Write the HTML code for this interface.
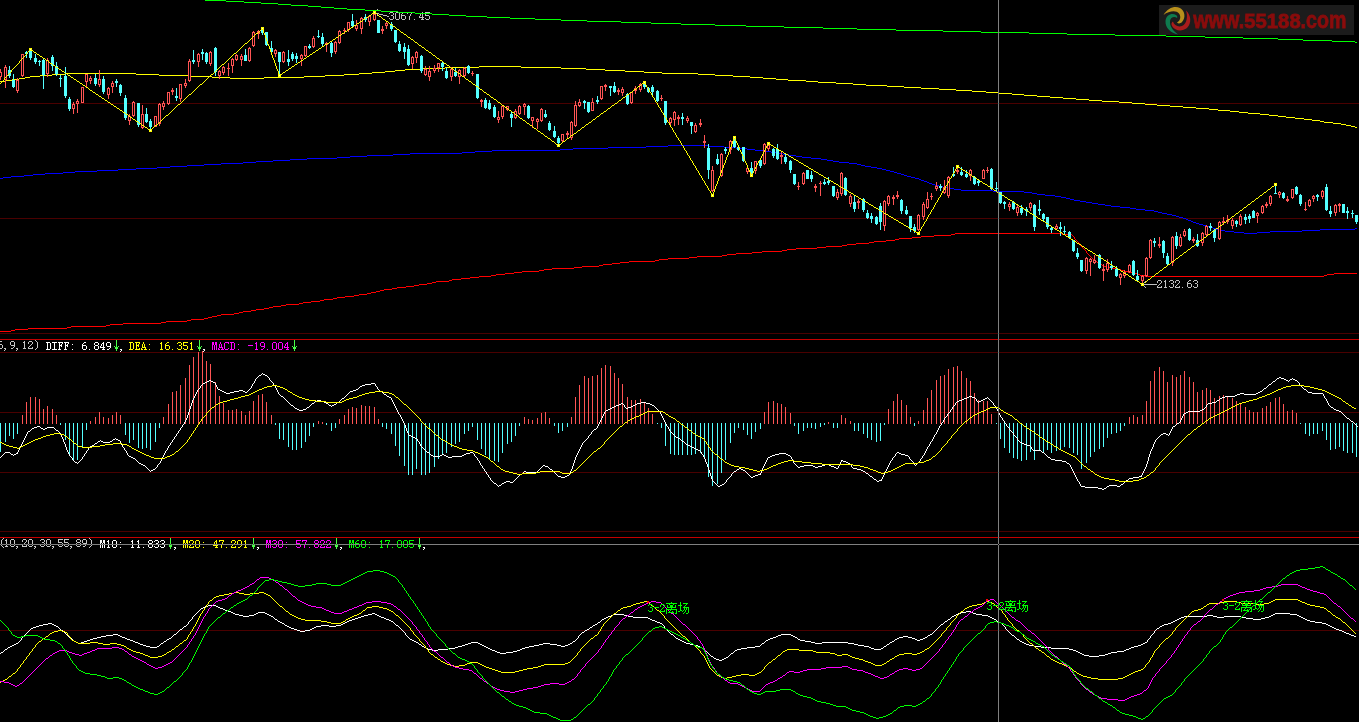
<!DOCTYPE html>
<html><head><meta charset="utf-8"><title>chart</title>
<style>html,body{margin:0;padding:0;background:#000;overflow:hidden;width:1359px;height:722px}
body{font-family:"Liberation Sans",sans-serif;position:relative}</style></head>
<body>
<svg width="1359" height="722" viewBox="0 0 1359 722" shape-rendering="crispEdges" style="position:absolute;left:0;top:0;display:block">
<rect x="0" y="0" width="1359" height="722" fill="#000"/>
<rect x="0" y="103" width="1359" height="1" fill="#4a0000"/>
<rect x="0" y="218" width="1359" height="1" fill="#4a0000"/>
<rect x="0" y="333" width="1359" height="1" fill="#4a0000"/>
<rect x="0" y="352" width="1359" height="1" fill="#4a0000"/>
<rect x="0" y="412" width="1359" height="1" fill="#4a0000"/>
<rect x="0" y="472" width="1359" height="1" fill="#4a0000"/>
<rect x="0" y="531" width="1359" height="1" fill="#4a0000"/>
<rect x="0" y="630" width="1359" height="1" fill="#4a0000"/>
<rect x="0" y="339" width="1359" height="1" fill="#c40000"/>
<rect x="0" y="537" width="1359" height="1" fill="#c40000"/>
<path d="M479 66.5h42M445 67.5h34M521 67.5h40M422 68.5h23M561 68.5h25M405 69.5h17M586 69.5h19M395 70.5h10M605 70.5h20M385 71.5h10M625 71.5h19M372 72.5h13M644 72.5h18M66 73.5h70M359 73.5h13M662 73.5h36M52 74.5h14M136 74.5h23M344 74.5h15M698 74.5h17M40 75.5h12M159 75.5h31M325 75.5h19M715 75.5h18M30 76.5h10M190 76.5h22M304 76.5h21M733 76.5h17M25 77.5h5M212 77.5h18M264 77.5h40M750 77.5h13M19 78.5h6M230 78.5h34M763 78.5h13M12 79.5h7M776 79.5h12M6 80.5h6M788 80.5h18M0 81.5h6M806 81.5h12M818 82.5h18M836 83.5h17M853 84.5h13M866 85.5h21M887 86.5h17M904 87.5h17M921 88.5h18M939 89.5h17M956 90.5h16M972 91.5h14M986 92.5h13M999 93.5h13M1012 94.5h12M1024 95.5h13M1037 96.5h13M1050 97.5h13M1063 98.5h13M1076 99.5h13M1089 100.5h13M1102 101.5h17M1119 102.5h13M1132 103.5h13M1145 104.5h12M1157 105.5h13M1170 106.5h13M1183 107.5h13M1196 108.5h13M1209 109.5h9M1218 110.5h12M1230 111.5h9M1239 112.5h9M1248 113.5h12M1260 114.5h9M1269 115.5h9M1278 116.5h8M1286 117.5h9M1295 118.5h9M1304 119.5h8M1312 120.5h8M1320 121.5h4M1324 122.5h9M1333 123.5h8M1341 124.5h5M1346 125.5h5M1351 126.5h4M1355 127.5h2" stroke="#ffff00" fill="none"/>
<path d="M668 145.5h41M646 146.5h22M709 146.5h15M608 147.5h38M724 147.5h12M573 148.5h35M736 148.5h11M560 149.5h13M747 149.5h8M492 150.5h68M755 150.5h8M475 151.5h17M763 151.5h8M462 152.5h13M771 152.5h6M410 153.5h52M777 153.5h6M393 154.5h17M783 154.5h6M367 155.5h26M789 155.5h7M350 156.5h17M796 156.5h6M337 157.5h13M802 157.5h9M307 158.5h30M811 158.5h10M290 159.5h17M821 159.5h6M273 160.5h17M827 160.5h6M256 161.5h17M833 161.5h6M243 162.5h13M839 162.5h10M221 163.5h22M849 163.5h8M204 164.5h17M857 164.5h4M187 165.5h17M861 165.5h4M170 166.5h17M865 166.5h6M157 167.5h13M871 167.5h6M136 168.5h21M877 168.5h5M118 169.5h18M882 169.5h4M97 170.5h21M886 170.5h4M75 171.5h22M890 171.5h4M63 172.5h12M894 172.5h3M45 173.5h18M897 173.5h4M33 174.5h12M901 174.5h3M24 175.5h9M904 175.5h3M11 176.5h13M907 176.5h4M3 177.5h8M911 177.5h4M0 178.5h3M915 178.5h4M919 179.5h2M921 180.5h3M924 181.5h3M927 182.5h2M929 183.5h3M932 184.5h3M935 185.5h4M939 186.5h4M943 187.5h5M948 188.5h6M954 189.5h7M961 190.5h32M993 191.5h31M1024 192.5h8M1032 193.5h5M1037 194.5h8M1045 195.5h10M1055 196.5h6M1061 197.5h5M1066 198.5h4M1070 199.5h4M1074 200.5h6M1080 201.5h6M1086 202.5h6M1092 203.5h6M1098 204.5h7M1105 205.5h6M1111 206.5h9M1120 207.5h10M1130 208.5h6M1136 209.5h9M1145 210.5h9M1154 211.5h4M1158 212.5h4M1162 213.5h5M1167 214.5h5M1172 215.5h4M1176 216.5h3M1179 217.5h4M1183 218.5h3M1186 219.5h2M1188 220.5h3M1191 221.5h2M1193 222.5h3M1196 223.5h3M1199 224.5h4M1203 225.5h3M1206 226.5h3M1209 227.5h4M1213 228.5h3M1355 228.5h2M1216 229.5h4M1320 229.5h35M1220 230.5h5M1302 230.5h18M1225 231.5h9M1270 231.5h32M1234 232.5h10M1257 232.5h13M1244 233.5h13" stroke="#0000ff" fill="none"/>
<path d="M955 233.5h107M951 234.5h4M1062 234.5h10M934 235.5h17M1072 235.5h1M921 236.5h13M1073 236.5h1M912 237.5h9M1074.5 237v2M899 238.5h13M895 239.5h4M1075 239.5h1M886 240.5h9M1076 240.5h1M874 241.5h12M1077 241.5h1M869 242.5h5M1078 242.5h1M856 243.5h13M1079 243.5h1M847 244.5h9M1080.5 244v2M842 245.5h5M826 246.5h16M1081 246.5h1M817 247.5h9M1082 247.5h1M796 248.5h21M1083 248.5h1M787 249.5h9M1084 249.5h1M782 250.5h5M1085 250.5h1M762 251.5h20M1086.5 251v2M752 252.5h10M736 253.5h16M1087 253.5h1M727 254.5h9M1088 254.5h1M722 255.5h5M1089 255.5h1M697 256.5h25M1090 256.5h1M689 257.5h8M1091 257.5h1M668 258.5h21M1092 258.5h1M659 259.5h9M1093 259.5h1M655 260.5h4M1094 260.5h2M629 261.5h26M1096 261.5h1M620 262.5h9M1097 262.5h1M612 263.5h8M1098 263.5h2M603 264.5h9M1100 264.5h2M599 265.5h4M1102 265.5h2M582 266.5h17M1104 266.5h2M574 267.5h8M1106 267.5h6M552 268.5h22M1112 268.5h6M544 269.5h8M1118 269.5h3M539 270.5h5M1121 270.5h3M522 271.5h17M1124 271.5h4M514 272.5h8M1128 272.5h5M505 273.5h9M1133 273.5h4M1334 273.5h23M496 274.5h9M1137 274.5h3M1327 274.5h7M491 275.5h5M1140 275.5h5M1324 275.5h3M479 276.5h12M1145 276.5h179M470 277.5h9M461 278.5h9M452 279.5h9M449 280.5h3M436 281.5h13M432 282.5h4M427 283.5h5M419 284.5h8M414 285.5h5M406 286.5h8M397 287.5h9M392 288.5h5M384 289.5h8M380 290.5h4M376 291.5h4M371 292.5h5M367 293.5h4M359 294.5h8M354 295.5h5M345 296.5h9M337 297.5h8M333 298.5h4M324 299.5h9M320 300.5h4M311 301.5h9M303 302.5h8M299 303.5h4M286 304.5h13M281 305.5h5M273 306.5h8M269 307.5h4M264 308.5h5M256 309.5h8M251 310.5h5M243 311.5h8M239 312.5h4M234 313.5h5M221 314.5h13M217 315.5h4M212 316.5h5M208 317.5h4M204 318.5h4M191 319.5h13M187 320.5h4M166 321.5h21M161 322.5h5M123 323.5h38M110 324.5h13M106 325.5h4M71 326.5h35M67 327.5h4M28 328.5h39M15 329.5h13M11 330.5h4M0 331.5h11" stroke="#ff0000" fill="none"/>
<path d="M9 66h1v12h-1zM8 70h3v6h-3zM13 74h1v14h-1zM12 80h3v7h-3zM26 51h1v7h-1zM25 52h3v2h-3zM30 49h1v11h-1zM29 51h3v7h-3zM35 54h1v10h-1zM34 58h3v4h-3zM39 60h1v6h-1zM38 61h3v1h-3zM43 59h1v30h-1zM42 60h3v15h-3zM52 55h1v16h-1zM51 57h3v9h-3zM56 62h1v14h-1zM55 66h3v8h-3zM60 75h1v12h-1zM59 78h3v1h-3zM65 67h1v31h-1zM64 76h3v20h-3zM69 97h1v14h-1zM68 99h3v10h-3zM95 74h1v12h-1zM94 78h3v6h-3zM103 76h1v18h-1zM102 79h3v13h-3zM116 79h1v8h-1zM115 81h3v2h-3zM120 84h1v12h-1zM119 85h3v8h-3zM125 95h1v25h-1zM124 98h3v20h-3zM138 103h1v24h-1zM137 103h3v22h-3zM146 108h1v15h-1zM145 114h3v8h-3zM150 119h1v12h-1zM149 121h3v6h-3zM176 88h1v13h-1zM175 96h3v2h-3zM193 50h1v14h-1zM192 60h3v2h-3zM202 49h1v11h-1zM201 52h3v2h-3zM206 52h1v12h-1zM205 53h3v9h-3zM215 47h1v29h-1zM214 48h3v24h-3zM245 49h1v12h-1zM244 55h3v6h-3zM262 27h1v8h-1zM261 28h3v5h-3zM266 32h1v14h-1zM265 32h3v13h-3zM271 41h1v11h-1zM270 48h3v4h-3zM279 52h1v23h-1zM278 52h3v10h-3zM288 50h1v16h-1zM287 59h3v3h-3zM292 52h1v9h-1zM291 54h3v5h-3zM296 53h1v10h-1zM295 56h3v3h-3zM309 44h1v5h-1zM308 46h3v2h-3zM318 30h1v8h-1zM317 36h3v1h-3zM322 33h1v13h-1zM321 37h3v7h-3zM331 42h1v15h-1zM330 43h3v10h-3zM352 14h1v13h-1zM351 21h3v5h-3zM365 14h1v8h-1zM364 17h3v3h-3zM378 20h1v13h-1zM377 20h3v13h-3zM391 22h1v9h-1zM390 24h3v5h-3zM395 30h1v13h-1zM394 30h3v12h-3zM399 41h1v11h-1zM398 44h3v7h-3zM404 43h1v16h-1zM403 47h3v5h-3zM408 45h1v21h-1zM407 49h3v16h-3zM421 55h1v18h-1zM420 56h3v15h-3zM442 62h1v9h-1zM441 63h3v4h-3zM446 68h1v11h-1zM445 71h3v7h-3zM455 68h1v9h-1zM454 72h3v4h-3zM468 65h1v9h-1zM467 66h3v7h-3zM477 74h1v25h-1zM476 74h3v24h-3zM485 98h1v11h-1zM484 100h3v8h-3zM489 100h1v10h-1zM488 103h3v6h-3zM494 105h1v13h-1zM493 107h3v10h-3zM511 112h1v15h-1zM510 114h3v4h-3zM528 105h1v14h-1zM527 106h3v12h-3zM545 110h1v8h-1zM544 114h3v3h-3zM549 121h1v10h-1zM548 123h3v7h-3zM554 126h1v12h-1zM553 131h3v6h-3zM558 136h1v10h-1zM557 138h3v5h-3zM584 100h1v9h-1zM583 101h3v2h-3zM588 102h1v11h-1zM587 102h3v10h-3zM597 96h1v8h-1zM596 100h3v2h-3zM610 86h1v10h-1zM609 86h3v2h-3zM614 82h1v11h-1zM613 86h3v6h-3zM627 93h1v12h-1zM626 94h3v10h-3zM644 82h1v7h-1zM643 84h3v3h-3zM648 87h1v6h-1zM647 88h3v4h-3zM652 85h1v11h-1zM651 87h3v5h-3zM657 90h1v12h-1zM656 91h3v10h-3zM665 101h1v24h-1zM664 101h3v22h-3zM682 113h1v12h-1zM681 117h3v2h-3zM691 122h1v12h-1zM690 122h3v4h-3zM708 144h1v35h-1zM707 148h3v22h-3zM717 154h1v11h-1zM716 159h3v5h-3zM725 147h1v7h-1zM724 149h3v2h-3zM734 137h1v11h-1zM733 141h3v6h-3zM738 146h1v5h-1zM737 147h3v3h-3zM743 147h1v15h-1zM742 147h3v14h-3zM751 162h1v13h-1zM750 168h3v6h-3zM760 159h1v9h-1zM759 160h3v6h-3zM773 148h1v10h-1zM772 149h3v7h-3zM777 144h1v16h-1zM776 149h3v10h-3zM785 154h1v10h-1zM784 157h3v5h-3zM790 160h1v13h-1zM789 161h3v9h-3zM794 174h1v11h-1zM793 174h3v10h-3zM807 170h1v9h-1zM806 170h3v9h-3zM811 171h1v11h-1zM810 175h3v4h-3zM824 179h1v6h-1zM823 182h3v2h-3zM828 177h1v8h-1zM827 181h3v2h-3zM833 186h1v11h-1zM832 186h3v10h-3zM845 177h1v19h-1zM844 178h3v17h-3zM854 196h1v16h-1zM853 202h3v7h-3zM863 198h1v14h-1zM862 199h3v11h-3zM867 210h1v9h-1zM866 213h3v5h-3zM871 213h1v10h-1zM870 216h3v3h-3zM876 216h1v9h-1zM875 217h3v7h-3zM880 203h1v27h-1zM879 206h3v16h-3zM901 199h1v15h-1zM900 200h3v11h-3zM906 206h1v9h-1zM905 210h3v4h-3zM910 216h1v16h-1zM909 216h3v12h-3zM914 224h1v9h-1zM913 227h3v4h-3zM940 184h1v7h-1zM939 186h3v2h-3zM953 167h1v10h-1zM952 174h3v2h-3zM961 167h1v9h-1zM960 172h3v3h-3zM966 170h1v8h-1zM965 174h3v3h-3zM974 176h1v9h-1zM973 177h3v7h-3zM978 179h1v7h-1zM977 181h3v2h-3zM991 168h1v22h-1zM990 169h3v20h-3zM996 182h1v9h-1zM995 188h3v1h-3zM1000 192h1v12h-1zM999 192h3v11h-3zM1004 201h1v8h-1zM1003 202h3v2h-3zM1013 201h1v9h-1zM1012 202h3v7h-3zM1021 205h1v10h-1zM1020 208h3v5h-3zM1026 207h1v9h-1zM1025 209h3v2h-3zM1034 204h1v27h-1zM1033 205h3v22h-3zM1039 200h1v15h-1zM1038 209h3v2h-3zM1043 213h1v9h-1zM1042 214h3v5h-3zM1047 217h1v12h-1zM1046 217h3v10h-3zM1051 226h1v7h-1zM1050 228h3v2h-3zM1060 222h1v14h-1zM1059 227h3v2h-3zM1064 226h1v9h-1zM1063 231h3v1h-3zM1069 231h1v8h-1zM1068 232h3v6h-3zM1073 240h1v12h-1zM1072 240h3v11h-3zM1077 248h1v11h-1zM1076 253h3v4h-3zM1081 260h1v12h-1zM1080 260h3v11h-3zM1099 254h1v15h-1zM1098 255h3v13h-3zM1111 261h1v9h-1zM1110 266h3v2h-3zM1116 266h1v11h-1zM1115 269h3v7h-3zM1133 260h1v16h-1zM1132 261h3v14h-3zM1137 270h1v11h-1zM1136 276h3v4h-3zM1154 238h1v9h-1zM1153 241h3v2h-3zM1163 240h1v18h-1zM1162 241h3v12h-3zM1167 253h1v12h-1zM1166 256h3v8h-3zM1176 232h1v17h-1zM1175 236h3v10h-3zM1189 228h1v13h-1zM1188 229h3v11h-3zM1197 234h1v13h-1zM1196 240h3v6h-3zM1210 223h1v8h-1zM1209 226h3v2h-3zM1214 229h1v13h-1zM1213 230h3v8h-3zM1236 220h1v7h-1zM1235 221h3v3h-3zM1245 214h1v10h-1zM1244 217h3v3h-3zM1249 214h1v9h-1zM1248 216h3v3h-3zM1253 210h1v8h-1zM1252 211h3v7h-3zM1275 186h1v8h-1zM1274 193h3v1h-3zM1283 192h1v7h-1zM1282 193h3v5h-3zM1296 186h1v9h-1zM1295 187h3v7h-3zM1300 194h1v12h-1zM1299 195h3v9h-3zM1317 194h1v7h-1zM1316 195h3v2h-3zM1326 184h1v27h-1zM1325 187h3v23h-3zM1330 206h1v11h-1zM1329 211h3v3h-3zM1343 204h1v9h-1zM1342 204h3v9h-3zM1347 207h1v12h-1zM1346 211h3v2h-3zM1352 210h1v8h-1zM1351 213h3v1h-3zM1356 215h1v9h-1zM1355 215h3v7h-3z" fill="#54ffff"/>
<path d="M0 69h1v3h-1zM0 77h1v3h-1zM-1 72h3v5h-3zM5 65h1v2h-1zM5 80h1v8h-1zM4 67h3v13h-3zM17 78h1v2h-1zM17 91h1v2h-1zM16 80h3v11h-3zM22 76h1v1h-1zM21 54h3v22h-3zM47 58h1v2h-1zM47 74h1v3h-1zM46 60h3v14h-3zM73 102h1v2h-1zM73 109h1v5h-1zM72 104h3v5h-3zM77 99h1v2h-1zM77 104h1v9h-1zM76 101h3v3h-3zM81 87h3v16h-3zM86 82h1v5h-1zM85 74h3v8h-3zM90 76h1v2h-1zM90 81h1v3h-1zM89 78h3v3h-3zM99 70h1v9h-1zM99 85h1v2h-1zM98 79h3v6h-3zM108 87h1v1h-1zM108 95h1v4h-1zM107 88h3v7h-3zM112 81h1v2h-1zM112 87h1v6h-1zM111 83h3v4h-3zM129 114h1v2h-1zM129 121h1v4h-1zM128 116h3v5h-3zM133 101h1v1h-1zM133 116h1v1h-1zM132 102h3v14h-3zM142 105h1v9h-1zM142 128h1v1h-1zM141 114h3v14h-3zM154 116h3v11h-3zM159 103h1v1h-1zM159 124h1v2h-1zM158 104h3v20h-3zM163 101h1v2h-1zM163 107h1v3h-1zM162 103h3v4h-3zM168 104h1v1h-1zM167 92h3v12h-3zM172 88h1v2h-1zM172 92h1v3h-1zM171 90h3v2h-3zM180 99h1v3h-1zM179 84h3v15h-3zM185 79h1v4h-1zM185 86h1v2h-1zM184 83h3v3h-3zM189 59h1v2h-1zM189 81h1v1h-1zM188 61h3v20h-3zM198 53h1v1h-1zM198 62h1v5h-1zM197 54h3v8h-3zM210 51h1v1h-1zM210 64h1v2h-1zM209 52h3v12h-3zM219 70h1v1h-1zM219 76h1v3h-1zM218 71h3v5h-3zM223 66h1v1h-1zM223 73h1v2h-1zM222 67h3v6h-3zM228 63h1v5h-1zM228 69h1v7h-1zM227 68h3v1h-3zM232 58h1v1h-1zM232 66h1v7h-1zM231 59h3v7h-3zM236 54h1v1h-1zM236 60h1v1h-1zM235 55h3v5h-3zM241 54h1v2h-1zM241 60h1v6h-1zM240 56h3v4h-3zM249 47h1v1h-1zM249 61h1v1h-1zM248 48h3v13h-3zM253 31h1v1h-1zM253 46h1v1h-1zM252 32h3v14h-3zM258 30h1v1h-1zM258 34h1v5h-1zM257 31h3v3h-3zM275 49h1v1h-1zM275 54h1v3h-1zM274 50h3v4h-3zM283 51h1v1h-1zM283 62h1v1h-1zM282 52h3v10h-3zM301 54h1v1h-1zM301 59h1v7h-1zM300 55h3v4h-3zM305 56h1v1h-1zM304 46h3v10h-3zM313 36h1v2h-1zM313 47h1v1h-1zM312 38h3v9h-3zM326 42h1v1h-1zM326 45h1v7h-1zM325 43h3v2h-3zM335 41h1v1h-1zM335 52h1v2h-1zM334 42h3v10h-3zM339 30h1v1h-1zM339 43h1v1h-1zM338 31h3v12h-3zM344 28h1v2h-1zM344 31h1v3h-1zM343 30h3v1h-3zM348 30h1v2h-1zM347 22h3v8h-3zM356 20h1v5h-1zM356 29h1v2h-1zM355 25h3v4h-3zM361 17h1v1h-1zM361 29h1v5h-1zM360 18h3v11h-3zM369 15h1v1h-1zM369 22h1v4h-1zM368 16h3v6h-3zM374 13h1v1h-1zM374 20h1v1h-1zM373 14h3v6h-3zM382 26h1v3h-1zM382 31h1v3h-1zM381 29h3v2h-3zM386 22h1v1h-1zM386 26h1v3h-1zM385 23h3v3h-3zM412 56h1v1h-1zM412 64h1v5h-1zM411 57h3v7h-3zM416 51h1v1h-1zM416 58h1v5h-1zM415 52h3v6h-3zM425 66h1v3h-1zM425 75h1v1h-1zM424 69h3v6h-3zM429 66h1v5h-1zM429 77h1v4h-1zM428 71h3v6h-3zM434 65h1v3h-1zM434 71h1v2h-1zM433 68h3v3h-3zM438 68h1v4h-1zM437 63h3v5h-3zM451 67h1v2h-1zM451 77h1v4h-1zM450 69h3v8h-3zM459 69h1v1h-1zM459 77h1v7h-1zM458 70h3v7h-3zM464 67h1v1h-1zM464 76h1v1h-1zM463 68h3v8h-3zM472 71h1v2h-1zM472 74h1v2h-1zM471 73h3v1h-3zM481 99h1v1h-1zM481 102h1v5h-1zM480 100h3v2h-3zM498 111h1v6h-1zM498 120h1v3h-1zM497 117h3v3h-3zM502 117h1v2h-1zM501 106h3v11h-3zM507 110h1v1h-1zM506 106h3v4h-3zM515 109h1v2h-1zM515 118h1v1h-1zM514 111h3v7h-3zM519 105h1v1h-1zM519 114h1v1h-1zM518 106h3v8h-3zM524 103h1v1h-1zM524 107h1v8h-1zM523 104h3v3h-3zM532 121h1v7h-1zM531 117h3v4h-3zM537 118h1v1h-1zM537 122h1v7h-1zM536 119h3v3h-3zM541 108h1v1h-1zM541 121h1v1h-1zM540 109h3v12h-3zM562 141h1v2h-1zM561 134h3v7h-3zM567 131h1v2h-1zM567 135h1v3h-1zM566 133h3v2h-3zM571 121h1v1h-1zM571 138h1v2h-1zM570 122h3v16h-3zM575 101h1v4h-1zM575 126h1v1h-1zM574 105h3v21h-3zM579 99h1v3h-1zM579 106h1v1h-1zM578 102h3v4h-3zM592 98h1v4h-1zM591 102h3v9h-3zM601 99h1v1h-1zM600 86h3v13h-3zM605 84h1v1h-1zM605 87h1v4h-1zM604 85h3v2h-3zM618 88h1v2h-1zM618 92h1v3h-1zM617 90h3v2h-3zM622 87h1v2h-1zM622 93h1v3h-1zM621 89h3v4h-3zM631 103h1v1h-1zM630 92h3v11h-3zM635 86h1v2h-1zM635 91h1v3h-1zM634 88h3v3h-3zM640 83h1v1h-1zM640 90h1v2h-1zM639 84h3v6h-3zM661 95h1v3h-1zM661 99h1v2h-1zM660 98h3v1h-3zM670 117h1v1h-1zM670 123h1v2h-1zM669 118h3v5h-3zM674 111h1v1h-1zM674 120h1v6h-1zM673 112h3v8h-3zM678 115h1v2h-1zM678 119h1v6h-1zM677 117h3v2h-3zM687 116h1v2h-1zM687 121h1v2h-1zM686 118h3v3h-3zM695 123h1v2h-1zM695 132h1v1h-1zM694 125h3v7h-3zM700 119h1v4h-1zM700 125h1v2h-1zM699 123h3v2h-3zM704 135h1v6h-1zM704 143h1v5h-1zM703 141h3v2h-3zM712 166h1v4h-1zM712 191h1v1h-1zM711 170h3v21h-3zM721 153h1v1h-1zM721 176h1v1h-1zM720 154h3v22h-3zM730 140h1v1h-1zM730 150h1v4h-1zM729 141h3v9h-3zM747 166h1v2h-1zM747 172h1v2h-1zM746 168h3v4h-3zM755 171h1v3h-1zM754 161h3v10h-3zM764 143h1v1h-1zM764 164h1v1h-1zM763 144h3v20h-3zM768 143h1v2h-1zM768 149h1v2h-1zM767 145h3v4h-3zM781 151h1v4h-1zM781 157h1v7h-1zM780 155h3v2h-3zM798 182h1v4h-1zM798 187h1v3h-1zM797 186h3v1h-3zM803 172h1v1h-1zM803 184h1v1h-1zM802 173h3v11h-3zM815 184h1v2h-1zM815 188h1v4h-1zM814 186h3v2h-3zM820 181h1v2h-1zM820 184h1v12h-1zM819 183h3v1h-3zM837 189h1v3h-1zM837 198h1v2h-1zM836 192h3v6h-3zM841 172h1v1h-1zM841 194h1v2h-1zM840 173h3v21h-3zM850 194h1v2h-1zM850 204h1v3h-1zM849 196h3v8h-3zM858 199h1v2h-1zM858 203h1v6h-1zM857 201h3v2h-3zM884 200h1v1h-1zM884 226h1v5h-1zM883 201h3v25h-3zM888 195h1v1h-1zM888 204h1v2h-1zM887 196h3v8h-3zM893 195h1v2h-1zM893 199h1v6h-1zM892 197h3v2h-3zM897 191h1v4h-1zM897 197h1v2h-1zM896 195h3v2h-3zM918 214h1v1h-1zM918 230h1v1h-1zM917 215h3v15h-3zM923 202h1v2h-1zM923 217h1v3h-1zM922 204h3v13h-3zM927 192h1v7h-1zM927 208h1v1h-1zM926 199h3v9h-3zM931 193h1v3h-1zM931 197h1v3h-1zM930 196h3v1h-3zM936 182h1v4h-1zM936 189h1v2h-1zM935 186h3v3h-3zM944 180h1v7h-1zM944 193h1v1h-1zM943 187h3v6h-3zM948 176h1v1h-1zM948 196h1v2h-1zM947 177h3v19h-3zM957 166h1v4h-1zM957 172h1v2h-1zM956 170h3v2h-3zM970 169h1v1h-1zM970 176h1v5h-1zM969 170h3v6h-3zM983 169h1v1h-1zM982 170h3v9h-3zM987 167h1v3h-1zM987 171h1v2h-1zM986 170h3v1h-3zM1009 202h1v2h-1zM1009 207h1v4h-1zM1008 204h3v3h-3zM1017 205h1v2h-1zM1017 213h1v3h-1zM1016 207h3v6h-3zM1030 202h1v1h-1zM1030 208h1v3h-1zM1029 203h3v5h-3zM1056 224h1v2h-1zM1056 229h1v1h-1zM1055 226h3v3h-3zM1086 257h1v1h-1zM1086 271h1v3h-1zM1085 258h3v13h-3zM1090 258h1v1h-1zM1090 262h1v14h-1zM1089 259h3v3h-3zM1094 255h1v5h-1zM1094 263h1v1h-1zM1093 260h3v3h-3zM1103 264h1v5h-1zM1103 271h1v10h-1zM1102 269h3v2h-3zM1107 259h1v4h-1zM1107 270h1v2h-1zM1106 263h3v7h-3zM1120 273h1v1h-1zM1120 278h1v7h-1zM1119 274h3v4h-3zM1124 270h1v2h-1zM1124 276h1v2h-1zM1123 272h3v4h-3zM1129 264h1v1h-1zM1129 272h1v1h-1zM1128 265h3v7h-3zM1142 275h1v1h-1zM1142 281h1v2h-1zM1141 276h3v5h-3zM1146 257h1v1h-1zM1146 276h1v1h-1zM1145 258h3v18h-3zM1150 239h1v1h-1zM1150 258h1v1h-1zM1149 240h3v18h-3zM1159 237h1v7h-1zM1159 246h1v2h-1zM1158 244h3v2h-3zM1172 236h1v1h-1zM1172 263h1v3h-1zM1171 237h3v26h-3zM1180 234h1v3h-1zM1180 246h1v1h-1zM1179 237h3v9h-3zM1184 229h1v2h-1zM1184 236h1v1h-1zM1183 231h3v5h-3zM1193 237h1v2h-1zM1193 241h1v2h-1zM1192 239h3v2h-3zM1202 232h1v1h-1zM1202 243h1v3h-1zM1201 233h3v10h-3zM1206 225h1v1h-1zM1206 235h1v1h-1zM1205 226h3v9h-3zM1219 221h1v1h-1zM1219 239h1v1h-1zM1218 222h3v17h-3zM1223 217h1v4h-1zM1223 223h1v2h-1zM1222 221h3v2h-3zM1227 215h1v5h-1zM1227 222h1v2h-1zM1226 220h3v2h-3zM1232 218h1v2h-1zM1232 226h1v3h-1zM1231 220h3v6h-3zM1240 214h1v2h-1zM1240 225h1v1h-1zM1239 216h3v9h-3zM1257 212h1v1h-1zM1257 216h1v7h-1zM1256 213h3v3h-3zM1262 205h1v1h-1zM1262 213h1v1h-1zM1261 206h3v7h-3zM1266 202h1v2h-1zM1266 206h1v2h-1zM1265 204h3v2h-3zM1270 195h1v1h-1zM1270 204h1v2h-1zM1269 196h3v8h-3zM1279 191h1v1h-1zM1279 195h1v3h-1zM1278 192h3v3h-3zM1287 196h1v3h-1zM1287 201h1v1h-1zM1286 199h3v2h-3zM1292 198h1v1h-1zM1291 189h3v9h-3zM1305 202h1v7h-1zM1305 210h1v1h-1zM1304 209h3v1h-3zM1309 199h1v1h-1zM1309 206h1v1h-1zM1308 200h3v6h-3zM1313 195h1v1h-1zM1313 199h1v3h-1zM1312 196h3v3h-3zM1322 190h1v1h-1zM1322 197h1v2h-1zM1321 191h3v6h-3zM1335 204h1v1h-1zM1335 213h1v3h-1zM1334 205h3v8h-3zM1339 203h1v1h-1zM1339 206h1v6h-1zM1338 204h3v2h-3z" fill="#ff5454"/>
<path d="M0 73h1v3h-1zM5 68h1v11h-1zM17 81h1v9h-1zM22 55h1v20h-1zM47 61h1v12h-1zM73 105h1v3h-1zM77 102h1v1h-1zM82 88h1v14h-1zM86 75h1v6h-1zM90 79h1v1h-1zM99 80h1v4h-1zM108 89h1v5h-1zM112 84h1v2h-1zM129 117h1v3h-1zM133 103h1v12h-1zM142 115h1v12h-1zM155 117h1v9h-1zM159 105h1v18h-1zM163 104h1v2h-1zM168 93h1v10h-1zM180 85h1v13h-1zM185 84h1v1h-1zM189 62h1v18h-1zM198 55h1v6h-1zM210 53h1v10h-1zM219 72h1v3h-1zM223 68h1v4h-1zM232 60h1v5h-1zM236 56h1v3h-1zM241 57h1v2h-1zM249 49h1v11h-1zM253 33h1v12h-1zM258 32h1v1h-1zM275 51h1v2h-1zM283 53h1v8h-1zM301 56h1v2h-1zM305 47h1v8h-1zM313 39h1v7h-1zM335 43h1v8h-1zM339 32h1v10h-1zM348 23h1v6h-1zM356 26h1v2h-1zM361 19h1v9h-1zM369 17h1v4h-1zM374 15h1v4h-1zM386 24h1v1h-1zM412 58h1v5h-1zM416 53h1v4h-1zM425 70h1v4h-1zM429 72h1v4h-1zM434 69h1v1h-1zM438 64h1v3h-1zM451 70h1v6h-1zM459 71h1v5h-1zM464 69h1v6h-1zM498 118h1v1h-1zM502 107h1v9h-1zM507 107h1v2h-1zM515 112h1v5h-1zM519 107h1v6h-1zM524 105h1v1h-1zM532 118h1v2h-1zM537 120h1v1h-1zM541 110h1v10h-1zM562 135h1v5h-1zM571 123h1v14h-1zM575 106h1v19h-1zM579 103h1v2h-1zM592 103h1v7h-1zM601 87h1v11h-1zM622 90h1v2h-1zM631 93h1v9h-1zM635 89h1v1h-1zM640 85h1v4h-1zM670 119h1v3h-1zM674 113h1v6h-1zM687 119h1v1h-1zM695 126h1v5h-1zM712 171h1v19h-1zM721 155h1v20h-1zM730 142h1v7h-1zM747 169h1v2h-1zM755 162h1v8h-1zM764 145h1v18h-1zM768 146h1v2h-1zM803 174h1v9h-1zM837 193h1v4h-1zM841 174h1v19h-1zM850 197h1v6h-1zM884 202h1v23h-1zM888 197h1v6h-1zM918 216h1v13h-1zM923 205h1v11h-1zM927 200h1v7h-1zM936 187h1v1h-1zM944 188h1v4h-1zM948 178h1v17h-1zM970 171h1v4h-1zM983 171h1v7h-1zM1009 205h1v1h-1zM1017 208h1v4h-1zM1030 204h1v3h-1zM1056 227h1v1h-1zM1086 259h1v11h-1zM1090 260h1v1h-1zM1094 261h1v1h-1zM1107 264h1v5h-1zM1120 275h1v2h-1zM1124 273h1v2h-1zM1129 266h1v5h-1zM1142 277h1v3h-1zM1146 259h1v16h-1zM1150 241h1v16h-1zM1172 238h1v24h-1zM1180 238h1v7h-1zM1184 232h1v3h-1zM1202 234h1v8h-1zM1206 227h1v7h-1zM1219 223h1v15h-1zM1232 221h1v4h-1zM1240 217h1v7h-1zM1257 214h1v1h-1zM1262 207h1v5h-1zM1270 197h1v6h-1zM1279 193h1v1h-1zM1292 190h1v7h-1zM1309 201h1v4h-1zM1313 197h1v1h-1zM1322 192h1v4h-1zM1335 206h1v6h-1z" fill="#000"/>
<path d="M374 12.5h1M372 13.5h2M375 13.5h2M371 14.5h1M377 14.5h1M369 15.5h2M378 15.5h1M368 16.5h1M379 16.5h2M366 17.5h2M381 17.5h1M365 18.5h1M382 18.5h1M363 19.5h2M383 19.5h2M362 20.5h1M385 20.5h1M360 21.5h2M386 21.5h2M359 22.5h1M388 22.5h1M357 23.5h2M389 23.5h1M356 24.5h1M390 24.5h2M354 25.5h2M392 25.5h1M353 26.5h1M393 26.5h2M351 27.5h2M395 27.5h1M262.5 28v2M350 28.5h1M396 28.5h1M261 29.5h1M348 29.5h2M397 29.5h2M260 30.5h1M263.5 30v3M347 30.5h1M399 30.5h1M259 31.5h1M345 31.5h2M400 31.5h1M258 32.5h1M344 32.5h1M401 32.5h2M256 33.5h2M264.5 33v2M342 33.5h2M403 33.5h1M255 34.5h1M341 34.5h1M404 34.5h2M254 35.5h1M265.5 35v3M339 35.5h2M406 35.5h1M253 36.5h1M338 36.5h1M407 36.5h1M252 37.5h1M336 37.5h2M408 37.5h2M251 38.5h1M266.5 38v3M335 38.5h1M410 38.5h1M250 39.5h1M333 39.5h2M411 39.5h2M249 40.5h1M332 40.5h1M413 40.5h1M248 41.5h1M267.5 41v3M330 41.5h2M414 41.5h1M247 42.5h1M329 42.5h1M415 42.5h2M245 43.5h2M327 43.5h2M417 43.5h1M244 44.5h1M268.5 44v2M325 44.5h2M418 44.5h1M243 45.5h1M324 45.5h1M419 45.5h2M242 46.5h1M269.5 46v3M322 46.5h2M421 46.5h1M241 47.5h1M321 47.5h1M422 47.5h2M240 48.5h1M319 48.5h2M424 48.5h1M30 49.5h1M239 49.5h1M270.5 49v3M318 49.5h1M425 49.5h1M29 50.5h1M31 50.5h2M238 50.5h1M316 50.5h2M426 50.5h2M28 51.5h1M33 51.5h1M237 51.5h1M315 51.5h1M428 51.5h1M27 52.5h1M34 52.5h2M236 52.5h1M271.5 52v3M313 52.5h2M429 52.5h2M26.5 53v2M36 53.5h1M234 53.5h2M312 53.5h1M431 53.5h1M37 54.5h2M233 54.5h1M310 54.5h2M432 54.5h1M25 55.5h1M39 55.5h1M232 55.5h1M272.5 55v3M309 55.5h1M433 55.5h2M24 56.5h1M40 56.5h2M231 56.5h1M307 56.5h2M435 56.5h1M23 57.5h1M42 57.5h1M230 57.5h1M306 57.5h1M436 57.5h1M22 58.5h1M43 58.5h2M229 58.5h1M273.5 58v2M304 58.5h2M437 58.5h2M21 59.5h1M45 59.5h1M228 59.5h1M303 59.5h1M439 59.5h1M20 60.5h1M46 60.5h2M227 60.5h1M274.5 60v3M301 60.5h2M440 60.5h2M19.5 61v2M48 61.5h1M226 61.5h1M300 61.5h1M442 61.5h1M49 62.5h1M225 62.5h1M298 62.5h2M443 62.5h1M18 63.5h1M50 63.5h2M224 63.5h1M275.5 63v3M297 63.5h1M444 63.5h2M17 64.5h1M52 64.5h1M222 64.5h2M295 64.5h2M446 64.5h1M16 65.5h1M53 65.5h2M221 65.5h1M294 65.5h1M447 65.5h2M15 66.5h1M55 66.5h1M220 66.5h1M276.5 66v3M292 66.5h2M449 66.5h1M14 67.5h1M56 67.5h2M219 67.5h1M291 67.5h1M450 67.5h1M13 68.5h1M58 68.5h1M218 68.5h1M289 68.5h2M451 68.5h2M12 69.5h1M59 69.5h2M217 69.5h1M277.5 69v2M288 69.5h1M453 69.5h1M11.5 70v2M61 70.5h1M216 70.5h1M286 70.5h2M454 70.5h1M62 71.5h2M215 71.5h1M278.5 71v3M285 71.5h1M455 71.5h2M10 72.5h1M64 72.5h1M214 72.5h1M283 72.5h2M457 72.5h1M9 73.5h1M65 73.5h2M213 73.5h1M282 73.5h1M458 73.5h2M8 74.5h1M67 74.5h1M211 74.5h2M279 74.5h3M460 74.5h1M7 75.5h1M68 75.5h2M210 75.5h1M279 75.5h1M461 75.5h1M6 76.5h1M70 76.5h1M209 76.5h1M462 76.5h2M5 77.5h1M71 77.5h2M208 77.5h1M464 77.5h1M4.5 78v2M73 78.5h1M207 78.5h1M465 78.5h1M74 79.5h2M206 79.5h1M466 79.5h2M3 80.5h1M76 80.5h1M205 80.5h1M468 80.5h1M2 81.5h1M77 81.5h2M204 81.5h1M469 81.5h2M1 82.5h1M79 82.5h1M203 82.5h1M471 82.5h1M644 82.5h1M0 83.5h1M80 83.5h2M202 83.5h1M472 83.5h1M642 83.5h2M645.5 83v2M82 84.5h1M200 84.5h2M473 84.5h2M641 84.5h1M83 85.5h2M199 85.5h1M475 85.5h1M640 85.5h1M646.5 85v2M85 86.5h1M198 86.5h1M476 86.5h2M638 86.5h2M86 87.5h2M197 87.5h1M478 87.5h1M637 87.5h1M647 87.5h1M88 88.5h1M196 88.5h1M479 88.5h1M636 88.5h1M648.5 88v2M89 89.5h1M195 89.5h1M480 89.5h2M634 89.5h2M90 90.5h2M194 90.5h1M482 90.5h1M633 90.5h1M649.5 90v2M92 91.5h1M193 91.5h1M483 91.5h1M632 91.5h1M93 92.5h2M192 92.5h1M484 92.5h2M630 92.5h2M650 92.5h1M95 93.5h1M191 93.5h1M486 93.5h1M629 93.5h1M651.5 93v2M96 94.5h2M189 94.5h2M487 94.5h2M627 94.5h2M98 95.5h1M188 95.5h1M489 95.5h1M626 95.5h1M652.5 95v2M99 96.5h2M187 96.5h1M490 96.5h1M625 96.5h1M101 97.5h1M186 97.5h1M491 97.5h2M623 97.5h2M653 97.5h1M102 98.5h2M185 98.5h1M493 98.5h1M622 98.5h1M654.5 98v2M104 99.5h1M184 99.5h1M494 99.5h2M621 99.5h1M105 100.5h2M183 100.5h1M496 100.5h1M619 100.5h2M655.5 100v2M107 101.5h1M182 101.5h1M497 101.5h1M618 101.5h1M108 102.5h2M181 102.5h1M498 102.5h2M617 102.5h1M656 102.5h1M110 103.5h1M180 103.5h1M500 103.5h1M615 103.5h2M657.5 103v2M111 104.5h2M178 104.5h2M501 104.5h1M614 104.5h1M113 105.5h1M177 105.5h1M502 105.5h2M612 105.5h2M658.5 105v2M114 106.5h2M176 106.5h1M504 106.5h1M611 106.5h1M116 107.5h1M175 107.5h1M505 107.5h2M610 107.5h1M659 107.5h1M117 108.5h2M174 108.5h1M507 108.5h1M608 108.5h2M660.5 108v2M119 109.5h1M173 109.5h1M508 109.5h1M607 109.5h1M120 110.5h2M172 110.5h1M509 110.5h2M606 110.5h1M661.5 110v2M122 111.5h1M171 111.5h1M511 111.5h1M604 111.5h2M123 112.5h2M170 112.5h1M512 112.5h2M603 112.5h1M662 112.5h1M125 113.5h1M169 113.5h1M514 113.5h1M601 113.5h2M663.5 113v2M126 114.5h2M168 114.5h1M515 114.5h1M600 114.5h1M128 115.5h1M166 115.5h2M516 115.5h2M599 115.5h1M664.5 115v2M129 116.5h1M165 116.5h1M518 116.5h1M597 116.5h2M130 117.5h2M164 117.5h1M519 117.5h1M596 117.5h1M665 117.5h1M132 118.5h1M163 118.5h1M520 118.5h2M595 118.5h1M666.5 118v2M133 119.5h2M162 119.5h1M522 119.5h1M593 119.5h2M135 120.5h1M161 120.5h1M523 120.5h2M592 120.5h1M667.5 120v2M136 121.5h2M160 121.5h1M525 121.5h1M591 121.5h1M138 122.5h1M159 122.5h1M526 122.5h1M589 122.5h2M668 122.5h1M139 123.5h2M158 123.5h1M527 123.5h2M588 123.5h1M669.5 123v2M141 124.5h1M157 124.5h1M529 124.5h1M586 124.5h2M142 125.5h2M155 125.5h2M530 125.5h2M585 125.5h1M670.5 125v2M144 126.5h1M154 126.5h1M532 126.5h1M584 126.5h1M145 127.5h2M153 127.5h1M533 127.5h1M582 127.5h2M671 127.5h1M147 128.5h1M152 128.5h1M534 128.5h2M581 128.5h1M672.5 128v2M148 129.5h2M151 129.5h1M536 129.5h1M580 129.5h1M150 130.5h1M537 130.5h1M578 130.5h2M673.5 130v2M538 131.5h2M577 131.5h1M540 132.5h1M576 132.5h1M674 132.5h1M541 133.5h2M574 133.5h2M675.5 133v2M543 134.5h1M573 134.5h1M544 135.5h1M571 135.5h2M676.5 135v2M545 136.5h2M570 136.5h1M547 137.5h1M569 137.5h1M677 137.5h1M734.5 137v2M548 138.5h2M567 138.5h2M678.5 138v2M550 139.5h1M566 139.5h1M733.5 139v2M735.5 139v2M551 140.5h1M565 140.5h1M679 140.5h1M552 141.5h2M563 141.5h2M680.5 141v2M732.5 141v3M736.5 141v2M554 142.5h1M562 142.5h1M555 143.5h1M561 143.5h1M681.5 143v2M737.5 143v2M768 143.5h1M556 144.5h2M559 144.5h2M731.5 144v3M767.5 144v2M769 144.5h2M558 145.5h1M682 145.5h1M738.5 145v3M771 145.5h2M683.5 146v2M766.5 146v2M773 146.5h1M730.5 147v2M774 147.5h2M684.5 148v2M739.5 148v2M765.5 148v2M776 148.5h2M729.5 149v3M778 149.5h1M685 150.5h1M740.5 150v2M764.5 150v2M779 150.5h2M686.5 151v2M781 151.5h2M728.5 152v3M741.5 152v2M763.5 152v2M783 152.5h1M687.5 153v2M784 153.5h2M742.5 154v2M762.5 154v2M786 154.5h2M688 155.5h1M727.5 155v2M788 155.5h1M689.5 156v2M743.5 156v3M761.5 156v2M789 156.5h2M726.5 157v3M791 157.5h2M690.5 158v2M760.5 158v2M793 158.5h1M744.5 159v2M794 159.5h2M691 160.5h1M725.5 160v3M759 160.5h1M796 160.5h2M692.5 161v2M745.5 161v2M758.5 161v2M798 161.5h1M799 162.5h2M693.5 163v2M724.5 163v2M746.5 163v2M757.5 163v2M801 163.5h2M803 164.5h1M694 165.5h1M723.5 165v3M747.5 165v3M756.5 165v2M804 165.5h2M695.5 166v2M806 166.5h2M957 166.5h1M755.5 167v2M808 167.5h1M956.5 167v2M958 167.5h2M696.5 168v2M722.5 168v2M748.5 168v2M809 168.5h2M960 168.5h1M754.5 169v2M811 169.5h2M955.5 169v2M961 169.5h2M697 170.5h1M721.5 170v3M749.5 170v2M813 170.5h1M963 170.5h2M698.5 171v2M753.5 171v2M814 171.5h2M954.5 171v2M965 171.5h1M750.5 172v2M816 172.5h2M966 172.5h2M699.5 173v2M720.5 173v3M752.5 173v2M818 173.5h1M953 173.5h1M968 173.5h1M751.5 174v2M819 174.5h2M952.5 174v2M969 174.5h2M700 175.5h1M821 175.5h2M971 175.5h1M701.5 176v2M719.5 176v2M823 176.5h1M951.5 176v2M972 176.5h2M824 177.5h2M974 177.5h2M702.5 178v2M718.5 178v3M826 178.5h2M950 178.5h1M976 178.5h1M828 179.5h1M949.5 179v2M977 179.5h2M703 180.5h1M829 180.5h2M979 180.5h1M704.5 181v2M717.5 181v3M831 181.5h2M948.5 181v2M980 181.5h2M833 182.5h1M982 182.5h1M705.5 183v2M834 183.5h2M947.5 183v2M983 183.5h2M716.5 184v2M836 184.5h2M985 184.5h2M1275 184.5h1M706 185.5h1M838 185.5h1M946 185.5h1M987 185.5h1M1274 185.5h1M707.5 186v2M715.5 186v3M839 186.5h2M945.5 186v2M988 186.5h2M1272 186.5h2M841 187.5h2M990 187.5h1M1271 187.5h1M708.5 188v2M843 188.5h1M944.5 188v2M991 188.5h2M1270 188.5h1M714.5 189v3M844 189.5h2M993 189.5h1M1268 189.5h2M709 190.5h1M846 190.5h2M943 190.5h1M994 190.5h2M1267 190.5h1M710.5 191v2M848 191.5h1M942.5 191v2M996 191.5h1M1266 191.5h1M713.5 192v2M849 192.5h2M997 192.5h2M1264 192.5h2M711.5 193v2M851 193.5h2M941.5 193v2M999 193.5h2M1263 193.5h1M712.5 194v2M853 194.5h1M1001 194.5h1M1262 194.5h1M854 195.5h2M940.5 195v2M1002 195.5h2M1260 195.5h2M856 196.5h2M1004 196.5h1M1259 196.5h1M858 197.5h1M939 197.5h1M1005 197.5h2M1258 197.5h1M859 198.5h2M938.5 198v2M1007 198.5h1M1256 198.5h2M861 199.5h2M1008 199.5h2M1255 199.5h1M863 200.5h1M937.5 200v2M1010 200.5h2M1254 200.5h1M864 201.5h2M1012 201.5h1M1252 201.5h2M866 202.5h2M936 202.5h1M1013 202.5h2M1251 202.5h1M868 203.5h1M935.5 203v2M1015 203.5h1M1250 203.5h1M869 204.5h2M1016 204.5h2M1248 204.5h2M871 205.5h2M934.5 205v2M1018 205.5h1M1247 205.5h1M873 206.5h1M1019 206.5h2M1246 206.5h1M874 207.5h2M933.5 207v2M1021 207.5h2M1244 207.5h2M876 208.5h2M1023 208.5h1M1243 208.5h1M878 209.5h1M932 209.5h1M1024 209.5h2M1242 209.5h1M879 210.5h2M931.5 210v2M1026 210.5h1M1240 210.5h2M881 211.5h2M1027 211.5h2M1239 211.5h1M883 212.5h1M930.5 212v2M1029 212.5h1M1238 212.5h1M884 213.5h2M1030 213.5h2M1236 213.5h2M886 214.5h2M929 214.5h1M1032 214.5h2M1235 214.5h1M888 215.5h1M928.5 215v2M1034 215.5h1M1234 215.5h1M889 216.5h2M1035 216.5h2M1232 216.5h2M891 217.5h2M927.5 217v2M1037 217.5h1M1231 217.5h1M893 218.5h1M1038 218.5h2M1230 218.5h1M894 219.5h2M926.5 219v2M1040 219.5h1M1228 219.5h2M896 220.5h2M1041 220.5h2M1227 220.5h1M898 221.5h1M925 221.5h1M1043 221.5h2M1226 221.5h1M899 222.5h2M924.5 222v2M1045 222.5h1M1224 222.5h2M901 223.5h2M1046 223.5h2M1223 223.5h1M903 224.5h1M923.5 224v2M1048 224.5h1M1222 224.5h1M904 225.5h2M1049 225.5h2M1220 225.5h2M906 226.5h2M922 226.5h1M1051 226.5h1M1219 226.5h1M908 227.5h1M921.5 227v2M1052 227.5h2M1218 227.5h1M909 228.5h2M1054 228.5h1M1216 228.5h2M911 229.5h2M920.5 229v2M1055 229.5h2M1215 229.5h1M913 230.5h1M1057 230.5h2M1214 230.5h1M914 231.5h2M919.5 231v2M1059 231.5h1M1212 231.5h2M916 232.5h2M1060 232.5h2M1211 232.5h1M918 233.5h1M1062 233.5h1M1210 233.5h1M1063 234.5h2M1208 234.5h2M1065 235.5h1M1207 235.5h1M1066 236.5h2M1206 236.5h1M1068 237.5h2M1204 237.5h2M1070 238.5h1M1203 238.5h1M1071 239.5h2M1202 239.5h1M1073 240.5h1M1200 240.5h2M1074 241.5h2M1199 241.5h1M1076 242.5h1M1198 242.5h1M1077 243.5h2M1196 243.5h2M1079 244.5h2M1195 244.5h1M1081 245.5h1M1194 245.5h1M1082 246.5h2M1192 246.5h2M1084 247.5h1M1191 247.5h1M1085 248.5h2M1190 248.5h1M1087 249.5h1M1188 249.5h2M1088 250.5h2M1187 250.5h1M1090 251.5h2M1186 251.5h1M1092 252.5h1M1184 252.5h2M1093 253.5h2M1183 253.5h1M1095 254.5h1M1182 254.5h1M1096 255.5h2M1180 255.5h2M1098 256.5h1M1179 256.5h1M1099 257.5h2M1178 257.5h1M1101 258.5h2M1176 258.5h2M1103 259.5h1M1175 259.5h1M1104 260.5h2M1174 260.5h1M1106 261.5h1M1172 261.5h2M1107 262.5h2M1171 262.5h1M1109 263.5h1M1170 263.5h1M1110 264.5h2M1168 264.5h2M1112 265.5h1M1167 265.5h1M1113 266.5h2M1166 266.5h1M1115 267.5h2M1164 267.5h2M1117 268.5h1M1163 268.5h1M1118 269.5h2M1162 269.5h1M1120 270.5h1M1160 270.5h2M1121 271.5h2M1159 271.5h1M1123 272.5h1M1158 272.5h1M1124 273.5h2M1156 273.5h2M1126 274.5h2M1155 274.5h1M1128 275.5h1M1154 275.5h1M1129 276.5h2M1152 276.5h2M1131 277.5h1M1151 277.5h1M1132 278.5h2M1150 278.5h1M1134 279.5h1M1148 279.5h2M1135 280.5h2M1147 280.5h1M1137 281.5h2M1146 281.5h1M1139 282.5h1M1144 282.5h2M1140 283.5h2M1143 283.5h1M1142 284.5h1" stroke="#ffff00" fill="none"/>
<rect x="29" y="48" width="3" height="3" fill="#ffff00"/>
<rect x="30" y="49" width="1" height="1" fill="#ffffc0"/>
<rect x="149" y="129" width="3" height="3" fill="#ffff00"/>
<rect x="150" y="130" width="1" height="1" fill="#ffffc0"/>
<rect x="261" y="27" width="3" height="3" fill="#ffff00"/>
<rect x="262" y="28" width="1" height="1" fill="#ffffc0"/>
<rect x="278" y="74" width="3" height="3" fill="#ffff00"/>
<rect x="279" y="75" width="1" height="1" fill="#ffffc0"/>
<rect x="373" y="11" width="3" height="3" fill="#ffff00"/>
<rect x="374" y="12" width="1" height="1" fill="#ffffc0"/>
<rect x="557" y="144" width="3" height="3" fill="#ffff00"/>
<rect x="558" y="145" width="1" height="1" fill="#ffffc0"/>
<rect x="643" y="81" width="3" height="3" fill="#ffff00"/>
<rect x="644" y="82" width="1" height="1" fill="#ffffc0"/>
<rect x="711" y="194" width="3" height="3" fill="#ffff00"/>
<rect x="712" y="195" width="1" height="1" fill="#ffffc0"/>
<rect x="733" y="136" width="3" height="3" fill="#ffff00"/>
<rect x="734" y="137" width="1" height="1" fill="#ffffc0"/>
<rect x="750" y="174" width="3" height="3" fill="#ffff00"/>
<rect x="751" y="175" width="1" height="1" fill="#ffffc0"/>
<rect x="767" y="142" width="3" height="3" fill="#ffff00"/>
<rect x="768" y="143" width="1" height="1" fill="#ffffc0"/>
<rect x="917" y="232" width="3" height="3" fill="#ffff00"/>
<rect x="918" y="233" width="1" height="1" fill="#ffffc0"/>
<rect x="956" y="165" width="3" height="3" fill="#ffff00"/>
<rect x="957" y="166" width="1" height="1" fill="#ffffc0"/>
<rect x="1141" y="283" width="3" height="3" fill="#ffff00"/>
<rect x="1142" y="284" width="1" height="1" fill="#ffffc0"/>
<rect x="1274" y="183" width="3" height="3" fill="#ffff00"/>
<rect x="1275" y="184" width="1" height="1" fill="#ffffc0"/>
<path d="M22 415h1v9h-1zM26 402h1v22h-1zM30 397h1v27h-1zM35 397h1v27h-1zM39 399h1v25h-1zM43 409h1v15h-1zM47 406h1v18h-1zM52 409h1v15h-1zM56 415h1v9h-1zM90 421h1v3h-1zM95 417h1v7h-1zM99 412h1v12h-1zM103 417h1v7h-1zM108 418h1v6h-1zM112 415h1v9h-1zM116 412h1v12h-1zM120 415h1v9h-1zM163 417h1v7h-1zM168 404h1v20h-1zM172 392h1v32h-1zM176 391h1v33h-1zM180 385h1v39h-1zM185 378h1v46h-1zM189 365h1v59h-1zM193 357h1v67h-1zM198 352h1v72h-1zM202 351h1v73h-1zM206 361h1v63h-1zM210 364h1v60h-1zM215 382h1v42h-1zM219 396h1v28h-1zM223 403h1v21h-1zM228 410h1v14h-1zM232 410h1v14h-1zM236 409h1v15h-1zM241 411h1v13h-1zM245 415h1v9h-1zM249 411h1v13h-1zM253 401h1v23h-1zM258 395h1v29h-1zM262 394h1v30h-1zM266 402h1v22h-1zM271 415h1v9h-1zM318 421h1v3h-1zM322 422h1v2h-1zM339 419h1v5h-1zM344 415h1v9h-1zM348 409h1v15h-1zM352 407h1v17h-1zM356 408h1v16h-1zM361 405h1v19h-1zM365 406h1v18h-1zM369 406h1v18h-1zM374 407h1v17h-1zM378 419h1v5h-1zM524 417h1v7h-1zM528 419h1v5h-1zM532 420h1v4h-1zM537 418h1v6h-1zM541 413h1v11h-1zM545 412h1v12h-1zM549 418h1v6h-1zM571 417h1v7h-1zM575 397h1v27h-1zM579 385h1v39h-1zM584 376h1v48h-1zM588 378h1v46h-1zM592 376h1v48h-1zM597 375h1v49h-1zM601 368h1v56h-1zM605 365h1v59h-1zM610 366h1v58h-1zM614 373h1v51h-1zM618 378h1v46h-1zM622 384h1v40h-1zM627 397h1v27h-1zM631 400h1v24h-1zM635 400h1v24h-1zM640 399h1v25h-1zM644 402h1v22h-1zM648 408h1v16h-1zM652 414h1v10h-1zM764 412h1v12h-1zM768 402h1v22h-1zM773 401h1v23h-1zM777 403h1v21h-1zM781 404h1v20h-1zM785 407h1v17h-1zM790 413h1v11h-1zM828 422h1v2h-1zM841 415h1v9h-1zM845 418h1v6h-1zM850 421h1v3h-1zM888 409h1v15h-1zM893 401h1v23h-1zM897 394h1v30h-1zM901 400h1v24h-1zM906 405h1v19h-1zM910 417h1v7h-1zM918 421h1v3h-1zM923 410h1v14h-1zM927 398h1v26h-1zM931 390h1v34h-1zM936 380h1v44h-1zM940 376h1v48h-1zM944 375h1v49h-1zM948 369h1v55h-1zM953 367h1v57h-1zM957 366h1v58h-1zM961 371h1v53h-1zM966 378h1v46h-1zM970 381h1v43h-1zM974 393h1v31h-1zM978 400h1v24h-1zM983 401h1v23h-1zM987 401h1v23h-1zM991 414h1v10h-1zM1129 417h1v7h-1zM1133 415h1v9h-1zM1137 417h1v7h-1zM1142 415h1v9h-1zM1146 401h1v23h-1zM1150 381h1v43h-1zM1154 371h1v53h-1zM1159 367h1v57h-1zM1163 371h1v53h-1zM1167 382h1v42h-1zM1172 375h1v49h-1zM1176 377h1v47h-1zM1180 375h1v49h-1zM1184 371h1v53h-1zM1189 377h1v47h-1zM1193 382h1v42h-1zM1197 392h1v32h-1zM1202 390h1v34h-1zM1206 388h1v36h-1zM1210 390h1v34h-1zM1214 398h1v26h-1zM1219 396h1v28h-1zM1223 395h1v29h-1zM1227 396h1v28h-1zM1232 398h1v26h-1zM1236 401h1v23h-1zM1240 403h1v21h-1zM1245 407h1v17h-1zM1249 410h1v14h-1zM1253 412h1v12h-1zM1257 412h1v12h-1zM1262 408h1v16h-1zM1266 406h1v18h-1zM1270 402h1v22h-1zM1275 398h1v26h-1zM1279 397h1v27h-1zM1283 404h1v20h-1zM1287 411h1v13h-1zM1292 410h1v14h-1zM1296 413h1v11h-1z" fill="#ff5454"/>
<path d="M0 423h1v29h-1zM5 423h1v19h-1zM9 423h1v13h-1zM13 423h1v16h-1zM17 423h1v11h-1zM60 423h1v2h-1zM65 423h1v17h-1zM69 423h1v33h-1zM73 423h1v37h-1zM77 423h1v37h-1zM82 423h1v25h-1zM86 423h1v7h-1zM125 423h1v12h-1zM129 423h1v20h-1zM133 423h1v17h-1zM138 423h1v25h-1zM142 423h1v26h-1zM146 423h1v25h-1zM150 423h1v27h-1zM155 423h1v19h-1zM159 423h1v5h-1zM275 423h1v2h-1zM279 423h1v16h-1zM283 423h1v17h-1zM288 423h1v24h-1zM292 423h1v27h-1zM296 423h1v27h-1zM301 423h1v25h-1zM305 423h1v19h-1zM309 423h1v13h-1zM313 423h1v4h-1zM326 423h1v2h-1zM331 423h1v8h-1zM335 423h1v5h-1zM382 423h1v4h-1zM386 423h1v6h-1zM391 423h1v11h-1zM395 423h1v23h-1zM399 423h1v33h-1zM404 423h1v43h-1zM408 423h1v52h-1zM412 423h1v52h-1zM416 423h1v46h-1zM421 423h1v52h-1zM425 423h1v52h-1zM429 423h1v50h-1zM434 423h1v44h-1zM438 423h1v36h-1zM442 423h1v32h-1zM446 423h1v30h-1zM451 423h1v24h-1zM455 423h1v21h-1zM459 423h1v19h-1zM464 423h1v11h-1zM468 423h1v8h-1zM472 423h1v4h-1zM477 423h1v17h-1zM481 423h1v26h-1zM485 423h1v32h-1zM489 423h1v36h-1zM494 423h1v38h-1zM498 423h1v39h-1zM502 423h1v30h-1zM507 423h1v21h-1zM511 423h1v19h-1zM515 423h1v13h-1zM519 423h1v3h-1zM554 423h1v3h-1zM558 423h1v10h-1zM562 423h1v8h-1zM567 423h1v4h-1zM657 423h1v1h-1zM661 423h1v5h-1zM665 423h1v23h-1zM670 423h1v31h-1zM674 423h1v32h-1zM678 423h1v32h-1zM682 423h1v32h-1zM687 423h1v32h-1zM691 423h1v32h-1zM695 423h1v31h-1zM700 423h1v30h-1zM704 423h1v35h-1zM708 423h1v54h-1zM712 423h1v63h-1zM717 423h1v61h-1zM721 423h1v50h-1zM725 423h1v37h-1zM730 423h1v20h-1zM734 423h1v10h-1zM738 423h1v5h-1zM743 423h1v7h-1zM747 423h1v12h-1zM751 423h1v16h-1zM755 423h1v9h-1zM760 423h1v6h-1zM794 423h1v3h-1zM798 423h1v11h-1zM803 423h1v8h-1zM807 423h1v5h-1zM811 423h1v5h-1zM815 423h1v6h-1zM820 423h1v4h-1zM824 423h1v2h-1zM833 423h1v5h-1zM837 423h1v5h-1zM854 423h1v8h-1zM858 423h1v8h-1zM863 423h1v11h-1zM867 423h1v15h-1zM871 423h1v17h-1zM876 423h1v19h-1zM880 423h1v18h-1zM884 423h1v2h-1zM914 423h1v3h-1zM996 423h1v1h-1zM1000 423h1v16h-1zM1004 423h1v25h-1zM1009 423h1v30h-1zM1013 423h1v35h-1zM1017 423h1v36h-1zM1021 423h1v38h-1zM1026 423h1v37h-1zM1030 423h1v29h-1zM1034 423h1v37h-1zM1039 423h1v28h-1zM1043 423h1v30h-1zM1047 423h1v27h-1zM1051 423h1v30h-1zM1056 423h1v28h-1zM1060 423h1v26h-1zM1064 423h1v24h-1zM1069 423h1v25h-1zM1073 423h1v30h-1zM1077 423h1v32h-1zM1081 423h1v46h-1zM1086 423h1v40h-1zM1090 423h1v34h-1zM1094 423h1v29h-1zM1099 423h1v26h-1zM1103 423h1v24h-1zM1107 423h1v15h-1zM1111 423h1v11h-1zM1116 423h1v10h-1zM1120 423h1v8h-1zM1124 423h1v3h-1zM1300 423h1v1h-1zM1305 423h1v11h-1zM1309 423h1v13h-1zM1313 423h1v11h-1zM1317 423h1v11h-1zM1322 423h1v8h-1zM1326 423h1v17h-1zM1330 423h1v27h-1zM1335 423h1v26h-1zM1339 423h1v24h-1zM1343 423h1v28h-1zM1347 423h1v30h-1zM1352 423h1v30h-1zM1356 423h1v34h-1z" fill="#54ffff"/>
<path d="M262 373.5h1M261 374.5h1M263 374.5h2M259 375.5h2M265 375.5h2M258 376.5h1M267 376.5h1M257 377.5h1M268 377.5h1M1279 377.5h2M256 378.5h1M269.5 378v2M1277 378.5h2M1281 378.5h3M1292 378.5h1M255.5 379v2M1276 379.5h1M1284 379.5h2M1290 379.5h2M1293 379.5h2M209 380.5h2M270 380.5h1M1275 380.5h1M1286 380.5h2M1289 380.5h1M1295 380.5h2M207 381.5h2M211 381.5h2M254.5 381v2M271 381.5h1M1273 381.5h2M1288 381.5h1M1297 381.5h1M205 382.5h2M213 382.5h2M272 382.5h1M1272 382.5h1M1298 382.5h1M203 383.5h2M215.5 383v2M253 383.5h1M273.5 383v2M371 383.5h4M1271 383.5h1M1299.5 383v2M202 384.5h1M252.5 384v2M365 384.5h6M375.5 384v2M1269 384.5h2M201 385.5h1M216.5 385v2M274 385.5h1M362 385.5h3M1268 385.5h1M1300 385.5h1M200.5 386v2M251.5 386v2M275.5 386v2M360 386.5h2M376 386.5h1M1267 386.5h1M1301 386.5h1M217.5 387v2M359 387.5h1M377.5 387v2M1266 387.5h1M1302 387.5h1M199 388.5h1M250 388.5h1M276.5 388v2M358 388.5h1M1264 388.5h2M1303 388.5h1M198 389.5h1M218 389.5h2M249 389.5h1M356 389.5h2M378 389.5h1M1263 389.5h1M1304 389.5h2M197.5 390v2M220 390.5h2M239 390.5h4M248 390.5h1M277.5 390v2M353 390.5h3M379 390.5h1M1262 390.5h1M1306 390.5h1M222 391.5h2M234 391.5h5M243 391.5h2M247 391.5h1M350 391.5h3M380 391.5h2M1260 391.5h2M1307 391.5h1M196.5 392v2M224 392.5h2M230 392.5h4M245 392.5h2M278.5 392v2M349 392.5h1M382 392.5h1M1258 392.5h2M1308 392.5h4M226 393.5h4M348 393.5h1M383 393.5h1M1240 393.5h4M1256 393.5h2M1312 393.5h11M195.5 394v2M279 394.5h1M347 394.5h1M384 394.5h2M1237 394.5h3M1244 394.5h12M1323.5 394v2M280 395.5h1M346 395.5h1M386 395.5h1M1235 395.5h2M194.5 396v2M281 396.5h2M345 396.5h1M387 396.5h2M969 396.5h3M1225 396.5h10M1324.5 396v2M283 397.5h1M344 397.5h1M389 397.5h2M967 397.5h2M972 397.5h3M987 397.5h1M1222 397.5h3M193.5 398v2M284 398.5h1M342 398.5h2M391.5 398v2M964 398.5h3M975 398.5h1M985 398.5h2M988 398.5h1M1220 398.5h2M1325 398.5h1M285 399.5h1M341 399.5h1M962 399.5h2M976.5 399v2M983 399.5h2M989 399.5h1M1219 399.5h1M1326.5 399v2M192.5 400v3M286 400.5h1M317 400.5h4M340 400.5h1M392.5 400v2M959 400.5h3M981 400.5h2M990 400.5h1M1217 400.5h2M287 401.5h1M315 401.5h2M321 401.5h3M339 401.5h1M957 401.5h2M977 401.5h1M979 401.5h2M991 401.5h1M1216 401.5h1M1327.5 401v2M288 402.5h1M314 402.5h1M324 402.5h2M337 402.5h2M393.5 402v2M641 402.5h5M956 402.5h1M978 402.5h1M992 402.5h1M1212 402.5h4M191.5 403v3M289 403.5h1M312 403.5h2M326 403.5h2M336 403.5h1M621 403.5h2M637 403.5h4M646 403.5h4M955.5 403v2M993.5 403v2M1208 403.5h4M1328.5 403v2M290 404.5h1M311 404.5h1M328 404.5h1M334 404.5h2M394.5 404v2M619 404.5h2M623 404.5h1M635 404.5h2M650 404.5h2M1207 404.5h1M291 405.5h2M310 405.5h1M329 405.5h2M332 405.5h2M616 405.5h3M624.5 405v2M633 405.5h2M652 405.5h2M954 405.5h1M994 405.5h1M1206.5 405v2M1329 405.5h1M190.5 406v3M293 406.5h1M309 406.5h1M331 406.5h1M395.5 406v2M614 406.5h2M631 406.5h2M654 406.5h1M953 406.5h1M995 406.5h1M1330 406.5h1M294 407.5h1M307 407.5h2M612 407.5h2M625 407.5h1M628 407.5h3M655 407.5h1M952.5 407v2M996.5 407v2M1205 407.5h1M1331 407.5h2M295 408.5h2M306 408.5h1M396.5 408v2M610 408.5h2M626 408.5h2M656 408.5h1M1204 408.5h1M1333 408.5h1M189.5 409v3M297 409.5h2M303 409.5h3M608 409.5h2M657 409.5h1M951 409.5h1M997.5 409v2M1202 409.5h2M1334 409.5h2M299 410.5h4M397.5 410v2M606 410.5h2M658 410.5h1M950.5 410v2M1200 410.5h2M1336 410.5h3M605 411.5h1M659 411.5h1M998.5 411v2M1188 411.5h12M1339 411.5h2M188.5 412v3M398.5 412v2M604.5 412v2M660.5 412v2M949 412.5h1M1186 412.5h2M1341 412.5h1M948 413.5h1M999.5 413v2M1184 413.5h2M1342 413.5h1M399 414.5h1M603.5 414v2M661.5 414v2M947.5 414v2M1183.5 414v2M1343 414.5h1M187.5 415v3M400.5 415v2M1000.5 415v2M1344 415.5h1M602.5 416v2M662.5 416v2M946 416.5h1M1182.5 416v2M1345 416.5h1M401.5 417v2M945 417.5h1M1001 417.5h1M1346 417.5h1M186.5 418v2M601.5 418v2M663.5 418v2M944.5 418v2M1002.5 418v2M1181.5 418v2M1347 418.5h2M402.5 419v2M1349 419.5h1M185.5 420v2M600.5 420v2M664.5 420v2M943.5 420v2M1003 420.5h1M1180.5 420v2M1350 420.5h1M403.5 421v2M1004.5 421v2M1351 421.5h2M184.5 422v2M599.5 422v2M665.5 422v2M942 422.5h1M1179 422.5h1M1353 422.5h1M404.5 423v2M941.5 423v2M1005 423.5h1M1177 423.5h2M1354 423.5h1M183 424.5h1M598.5 424v2M666.5 424v2M1006.5 424v2M1176 424.5h1M1355 424.5h1M182.5 425v2M405.5 425v3M940 425.5h1M1175 425.5h1M1356 425.5h1M37 426.5h3M597.5 426v2M667 426.5h1M939.5 426v2M1007 426.5h1M1173 426.5h2M1357 426.5h1M34 427.5h3M40 427.5h1M47 427.5h7M181 427.5h1M668.5 427v2M1008 427.5h1M1172.5 427v2M32 428.5h2M41 428.5h2M45 428.5h2M54 428.5h1M180.5 428v2M406.5 428v3M596 428.5h1M938.5 428v2M1009.5 428v2M31 429.5h1M43 429.5h2M55 429.5h1M594 429.5h2M669.5 429v2M1171.5 429v2M30 430.5h1M56 430.5h2M179 430.5h1M593 430.5h1M937.5 430v2M1010 430.5h1M28 431.5h2M58 431.5h1M178.5 431v2M407.5 431v2M592 431.5h1M670 431.5h1M1011 431.5h1M1170.5 431v2M27.5 432v2M59 432.5h1M591.5 432v2M671 432.5h1M936.5 432v2M1012 432.5h1M60.5 433v2M177 433.5h1M408.5 433v2M672 433.5h1M1013.5 433v2M1163 433.5h3M1169.5 433v2M26.5 434v2M176.5 434v2M590 434.5h1M673 434.5h1M935 434.5h1M1161 434.5h2M1166 434.5h2M61.5 435v2M409 435.5h2M589 435.5h1M674 435.5h1M934.5 435v2M1014 435.5h1M1160 435.5h1M1168 435.5h1M25.5 436v2M175 436.5h1M411 436.5h2M588.5 436v2M675 436.5h1M1015 436.5h1M1159 436.5h1M62.5 437v2M174.5 437v2M413 437.5h2M676 437.5h2M933.5 437v2M1016 437.5h1M1158 437.5h1M24.5 438v2M115 438.5h1M415 438.5h2M587 438.5h1M678 438.5h2M1017.5 438v2M1157 438.5h1M63.5 439v3M113 439.5h2M116 439.5h2M173 439.5h1M417.5 439v2M586 439.5h1M680 439.5h1M932.5 439v2M1156 439.5h1M23.5 440v2M100 440.5h1M112 440.5h1M118 440.5h2M172.5 440v2M585 440.5h1M681 440.5h1M1018 440.5h1M1155.5 440v2M98 441.5h2M101 441.5h2M110 441.5h2M120.5 441v2M418 441.5h1M584 441.5h1M682 441.5h2M931 441.5h1M1019 441.5h1M22.5 442v2M64.5 442v2M97 442.5h1M103 442.5h7M171 442.5h1M419.5 442v2M583 442.5h1M684 442.5h1M930.5 442v2M1020 442.5h2M1154.5 442v2M95 443.5h2M121.5 443v2M170.5 443v2M582.5 443v2M685 443.5h1M1022 443.5h2M21.5 444v2M65.5 444v3M94 444.5h1M420.5 444v2M686 444.5h2M929.5 444v2M1024 444.5h3M1153.5 444v3M92 445.5h2M122.5 445v2M169 445.5h1M581.5 445v2M688 445.5h2M1027 445.5h3M20.5 446v2M90 446.5h2M168.5 446v2M421 446.5h1M690 446.5h2M928 446.5h1M1030 446.5h1M66.5 447v3M89 447.5h1M123 447.5h1M422 447.5h1M580.5 447v2M692 447.5h2M927.5 447v2M1031.5 447v2M1152.5 447v2M19.5 448v2M88.5 448v2M124.5 448v2M167.5 448v2M423 448.5h1M694 448.5h2M424 449.5h1M579.5 449v2M696 449.5h2M926.5 449v2M1032 449.5h1M1151.5 449v2M18.5 450v2M67.5 450v2M87 450.5h1M125 450.5h1M166 450.5h1M425 450.5h1M698 450.5h2M1033 450.5h8M86.5 451v2M126.5 451v2M165.5 451v2M426 451.5h1M578.5 451v2M700 451.5h1M925.5 451v2M1041 451.5h1M1150.5 451v3M5 452.5h5M17.5 452v2M68.5 452v2M427 452.5h2M470 452.5h3M701.5 452v2M897 452.5h2M1042 452.5h2M4 453.5h1M10 453.5h1M16 453.5h1M85 453.5h1M127.5 453v2M164.5 453v2M429 453.5h1M466 453.5h4M473 453.5h1M577.5 453v2M779 453.5h7M896 453.5h1M899 453.5h2M924.5 453v2M1044 453.5h1M3 454.5h1M11 454.5h2M14 454.5h2M69.5 454v2M84.5 454v2M430 454.5h1M442 454.5h2M464 454.5h2M474.5 454v2M702 454.5h1M775 454.5h4M786 454.5h2M895.5 454v2M901 454.5h4M1045 454.5h1M1149.5 454v3M2 455.5h1M13 455.5h1M128 455.5h1M163.5 455v2M431 455.5h2M440 455.5h2M444 455.5h2M462 455.5h2M576.5 455v2M703.5 455v2M772 455.5h3M788 455.5h2M905 455.5h3M923 455.5h1M1046 455.5h1M1 456.5h1M70 456.5h1M83 456.5h1M129 456.5h2M433 456.5h7M446 456.5h2M452 456.5h10M475 456.5h1M770 456.5h2M790 456.5h1M894 456.5h1M908 456.5h1M922.5 456v2M1047 456.5h1M0 457.5h1M71 457.5h1M82.5 457v2M131 457.5h2M162.5 457v2M448 457.5h4M476 457.5h1M575.5 457v3M704.5 457v2M768 457.5h2M791.5 457v2M893 457.5h1M909.5 457v2M1048 457.5h2M1148.5 457v4M72.5 458v2M133 458.5h2M477.5 458v2M767.5 458v2M892.5 458v2M921 458.5h1M1050 458.5h1M81 459.5h1M135 459.5h1M161.5 459v2M705.5 459v3M792.5 459v2M910 459.5h1M920.5 459v2M1051 459.5h4M73 460.5h1M80 460.5h1M136 460.5h1M478 460.5h1M574.5 460v3M766.5 460v2M841 460.5h2M891 460.5h1M911 460.5h1M1055 460.5h7M74 461.5h1M79 461.5h1M137 461.5h1M160.5 461v2M479.5 461v2M793.5 461v2M841 461.5h1M843 461.5h3M890.5 461v2M912 461.5h1M919 461.5h1M1062 461.5h4M1147.5 461v3M75 462.5h2M78 462.5h1M138 462.5h1M706.5 462v2M765.5 462v2M840.5 462v2M846 462.5h2M913.5 462v2M918 462.5h1M1066 462.5h1M77 463.5h1M139 463.5h2M159 463.5h1M480.5 463v2M573.5 463v3M794 463.5h1M848 463.5h2M889.5 463v2M917 463.5h1M1067 463.5h2M141 464.5h2M158 464.5h1M707.5 464v3M764.5 464v2M795 464.5h1M825 464.5h4M839.5 464v2M850 464.5h1M914 464.5h1M916 464.5h1M1069 464.5h1M1146.5 464v3M143 465.5h2M157.5 465v2M481 465.5h1M543 465.5h2M796 465.5h1M804 465.5h9M822 465.5h3M829 465.5h2M851.5 465v2M888.5 465v2M915 465.5h1M1070.5 465v2M145 466.5h1M482.5 466v2M542 466.5h1M545 466.5h3M572.5 466v3M763.5 466v2M797 466.5h1M800 466.5h4M813 466.5h2M818 466.5h4M831 466.5h3M838.5 466v2M146 467.5h1M156 467.5h1M541 467.5h1M548 467.5h1M708.5 467v3M798 467.5h2M815 467.5h3M834 467.5h2M852 467.5h1M887.5 467v2M1071.5 467v2M1145.5 467v2M147 468.5h1M155 468.5h1M483 468.5h1M540 468.5h1M549 468.5h1M739 468.5h2M762.5 468v3M836 468.5h2M853 468.5h4M148 469.5h1M153 469.5h2M484.5 469v2M539 469.5h1M550 469.5h2M571.5 469v2M737 469.5h2M741 469.5h2M857 469.5h4M886.5 469v2M1072.5 469v2M1144.5 469v2M149 470.5h1M151 470.5h2M538 470.5h1M552 470.5h1M709.5 470v3M736 470.5h1M743 470.5h2M861 470.5h2M150 471.5h1M485 471.5h1M524 471.5h2M537 471.5h1M553 471.5h1M570.5 471v2M734 471.5h2M745 471.5h1M761.5 471v2M863 471.5h2M885.5 471v2M1073.5 471v2M1143.5 471v2M486.5 472v2M523 472.5h1M526 472.5h11M554 472.5h1M733 472.5h1M746 472.5h1M865 472.5h1M522 473.5h1M555 473.5h1M569.5 473v2M710.5 473v3M732 473.5h1M747 473.5h1M760.5 473v2M866 473.5h2M884.5 473v2M1074.5 473v2M1142.5 473v2M487 474.5h1M520 474.5h2M556 474.5h1M731.5 474v2M748 474.5h1M758 474.5h2M868 474.5h1M488.5 475v2M519 475.5h1M557 475.5h1M567 475.5h2M749 475.5h1M755 475.5h3M869 475.5h1M883.5 475v2M1075.5 475v2M1141.5 475v2M518 476.5h1M558 476.5h3M565 476.5h2M711.5 476v3M730 476.5h1M750 476.5h1M753 476.5h2M870 476.5h2M1139 476.5h2M489 477.5h1M517 477.5h1M561 477.5h4M729 477.5h1M751 477.5h2M872 477.5h1M882.5 477v2M1076.5 477v2M1133 477.5h6M490.5 478v2M516 478.5h1M728 478.5h1M873 478.5h1M1129 478.5h4M515 479.5h1M712.5 479v2M727 479.5h1M874 479.5h2M881.5 479v2M1077.5 479v2M1128 479.5h1M491 480.5h1M514 480.5h1M726.5 480v2M876 480.5h1M879 480.5h2M1126 480.5h2M492 481.5h1M506 481.5h4M513 481.5h1M713 481.5h1M877 481.5h2M1078 481.5h1M1125 481.5h1M493 482.5h1M504 482.5h2M510 482.5h3M714 482.5h1M725 482.5h1M1079.5 482v2M1124 482.5h1M494 483.5h2M502 483.5h2M715 483.5h1M724 483.5h1M1123 483.5h1M496 484.5h1M501 484.5h1M716 484.5h1M722 484.5h2M1080.5 484v2M1121 484.5h2M497 485.5h1M499 485.5h2M717 485.5h1M720 485.5h2M1109 485.5h8M1120 485.5h1M498 486.5h1M718 486.5h2M1081 486.5h4M1107 486.5h2M1117 486.5h3M1085 487.5h13M1106 487.5h1M1098 488.5h4M1104 488.5h2M1102 489.5h2" stroke="#ffffff" fill="none"/>
<path d="M272 385.5h5M1291 385.5h13M267 386.5h5M277 386.5h3M1286 386.5h5M1304 386.5h6M264 387.5h3M280 387.5h3M1283 387.5h3M1310 387.5h4M262 388.5h2M283 388.5h2M1281 388.5h2M1314 388.5h4M259 389.5h3M285 389.5h2M1278 389.5h3M1318 389.5h4M257 390.5h2M287 390.5h1M1276 390.5h2M1322 390.5h3M255 391.5h2M288 391.5h2M375 391.5h8M1274 391.5h2M1325 391.5h2M253 392.5h2M290 392.5h2M369 392.5h6M383 392.5h6M1272 392.5h2M1327 392.5h2M251 393.5h2M292 393.5h1M365 393.5h4M389 393.5h3M1270 393.5h2M1329 393.5h2M249 394.5h2M293 394.5h2M362 394.5h3M392 394.5h2M1267 394.5h3M1331 394.5h2M245 395.5h4M295 395.5h2M359 395.5h3M394 395.5h1M1265 395.5h2M1333 395.5h2M241 396.5h4M297 396.5h2M357 396.5h2M395 396.5h1M1262 396.5h3M1335 396.5h2M238 397.5h3M299 397.5h3M353 397.5h4M396 397.5h2M1259 397.5h3M1337 397.5h2M234 398.5h4M302 398.5h3M349 398.5h4M398 398.5h1M1257 398.5h2M1339 398.5h2M230 399.5h4M305 399.5h4M346 399.5h3M399 399.5h1M1253 399.5h4M1341 399.5h1M227 400.5h3M309 400.5h7M344 400.5h2M400 400.5h1M1249 400.5h4M1342 400.5h1M223 401.5h4M316 401.5h10M342 401.5h2M401 401.5h1M1246 401.5h3M1343 401.5h2M220 402.5h3M326 402.5h16M402 402.5h1M1242 402.5h4M1345 402.5h1M218 403.5h2M403 403.5h1M1239 403.5h3M1346 403.5h2M216 404.5h2M404 404.5h2M1237 404.5h2M1348 404.5h1M215 405.5h1M406 405.5h1M1235 405.5h2M1349 405.5h2M214 406.5h1M407 406.5h1M1233 406.5h2M1351 406.5h1M212 407.5h2M408 407.5h1M990 407.5h8M1231 407.5h2M1352 407.5h2M211 408.5h1M409 408.5h1M988 408.5h2M998 408.5h2M1229 408.5h2M1354 408.5h2M210 409.5h1M410 409.5h1M986 409.5h2M1000 409.5h1M1227 409.5h2M209 410.5h1M411 410.5h1M984 410.5h2M1001 410.5h2M1225 410.5h2M208 411.5h1M412 411.5h1M647 411.5h16M981 411.5h3M1003 411.5h1M1223 411.5h2M207 412.5h1M413 412.5h1M645 412.5h2M663 412.5h2M979 412.5h2M1004 412.5h2M1221 412.5h2M206.5 413v2M414 413.5h1M643 413.5h2M665 413.5h1M977 413.5h2M1006 413.5h2M1219 413.5h2M415 414.5h1M641 414.5h2M666 414.5h2M975 414.5h2M1008 414.5h2M1217 414.5h2M205 415.5h1M416 415.5h1M639 415.5h2M668 415.5h1M973 415.5h2M1010 415.5h2M1215 415.5h2M204 416.5h1M417 416.5h1M636 416.5h3M669 416.5h2M972 416.5h1M1012 416.5h1M1213 416.5h2M203 417.5h1M418 417.5h1M634 417.5h2M671 417.5h2M970 417.5h2M1013 417.5h1M1211 417.5h2M202 418.5h1M419 418.5h1M632 418.5h2M673 418.5h2M969 418.5h1M1014 418.5h1M1209 418.5h2M201.5 419v2M420.5 419v2M630 419.5h2M675 419.5h1M968 419.5h1M1015 419.5h2M1208 419.5h1M628 420.5h2M676 420.5h1M967 420.5h1M1017 420.5h1M1206 420.5h2M200 421.5h1M421 421.5h1M627 421.5h1M677 421.5h2M965 421.5h2M1018 421.5h1M1205 421.5h1M199.5 422v2M422 422.5h1M625 422.5h2M679 422.5h1M964 422.5h1M1019 422.5h1M1204 422.5h1M423 423.5h1M624 423.5h1M680 423.5h1M963 423.5h1M1020 423.5h2M1202 423.5h2M198 424.5h1M424 424.5h1M623 424.5h1M681 424.5h2M962 424.5h1M1022 424.5h1M1201 424.5h1M197.5 425v2M425 425.5h1M622 425.5h1M683 425.5h1M961 425.5h1M1023 425.5h1M1200 425.5h1M426 426.5h1M620 426.5h2M684 426.5h1M960 426.5h1M1024 426.5h2M1198 426.5h2M196 427.5h1M427 427.5h1M619 427.5h1M685 427.5h2M959 427.5h1M1026 427.5h1M1197 427.5h1M195.5 428v2M428 428.5h2M618 428.5h1M687 428.5h1M958 428.5h1M1027 428.5h2M1196 428.5h1M430 429.5h1M617 429.5h1M688 429.5h1M957.5 429v2M1029 429.5h1M1194 429.5h2M194 430.5h1M431 430.5h1M616 430.5h1M689 430.5h2M1030 430.5h2M1193 430.5h1M193.5 431v2M432 431.5h1M615 431.5h1M691 431.5h1M956 431.5h1M1032 431.5h2M1192 431.5h1M433 432.5h1M614 432.5h1M692 432.5h1M955 432.5h1M1034 432.5h1M1191 432.5h1M54 433.5h6M192 433.5h1M434 433.5h1M613 433.5h1M693 433.5h2M954 433.5h1M1035 433.5h1M1190 433.5h1M50 434.5h4M60 434.5h4M191.5 434v2M435 434.5h1M612 434.5h1M695 434.5h1M953 434.5h1M1036 434.5h2M1188 434.5h2M46 435.5h4M64 435.5h1M436 435.5h2M611 435.5h1M696 435.5h2M952 435.5h1M1038 435.5h1M1187 435.5h1M43 436.5h3M65 436.5h2M190 436.5h1M438 436.5h1M610 436.5h1M698 436.5h2M951.5 436v2M1039 436.5h1M1186 436.5h1M41 437.5h2M67 437.5h1M189.5 437v2M439 437.5h1M609 437.5h1M700 437.5h2M1040 437.5h2M1185 437.5h1M38 438.5h3M68 438.5h1M440 438.5h1M608 438.5h1M702 438.5h2M950 438.5h1M1042 438.5h1M1184 438.5h1M35 439.5h3M69 439.5h2M188 439.5h1M441 439.5h2M607 439.5h1M704.5 439v2M949 439.5h1M1043 439.5h2M1183 439.5h1M33 440.5h2M71 440.5h1M187.5 440v2M443 440.5h2M606 440.5h1M948 440.5h1M1045 440.5h1M1182 440.5h1M31 441.5h2M72 441.5h1M445 441.5h2M605 441.5h1M705 441.5h1M947.5 441v2M1046 441.5h2M1181 441.5h1M0 442.5h2M29 442.5h2M73 442.5h1M186 442.5h1M447 442.5h1M604.5 442v2M706.5 442v2M1048 442.5h2M1180 442.5h1M2 443.5h2M27 443.5h2M74 443.5h2M113 443.5h9M185 443.5h1M448 443.5h2M946 443.5h1M1050 443.5h1M1179 443.5h1M4 444.5h2M25 444.5h2M76 444.5h1M105 444.5h8M122 444.5h5M184 444.5h1M450 444.5h2M603 444.5h1M707 444.5h1M945 444.5h1M1051 444.5h2M1178 444.5h1M6 445.5h3M23 445.5h2M77 445.5h1M100 445.5h5M127 445.5h2M183 445.5h1M452 445.5h2M602 445.5h1M708.5 445v2M944 445.5h1M1053 445.5h1M1177 445.5h1M9 446.5h4M21 446.5h2M78 446.5h4M92 446.5h8M129 446.5h2M182 446.5h1M454 446.5h3M601 446.5h1M943 446.5h1M1054 446.5h2M1176 446.5h1M13 447.5h4M19 447.5h2M82 447.5h10M131 447.5h1M181 447.5h1M457 447.5h2M600 447.5h1M709 447.5h1M942 447.5h1M1056 447.5h2M1175 447.5h1M17 448.5h2M132 448.5h2M180 448.5h1M459 448.5h3M598 448.5h2M710.5 448v2M941.5 448v2M1058 448.5h1M1174 448.5h1M134 449.5h2M179 449.5h1M462 449.5h5M597 449.5h1M1059 449.5h2M1173 449.5h1M136 450.5h2M178 450.5h1M467 450.5h6M596 450.5h1M711 450.5h1M940 450.5h1M1061 450.5h2M1172 450.5h1M138 451.5h2M176 451.5h2M473 451.5h2M594 451.5h2M712 451.5h1M939 451.5h1M1063 451.5h2M1171 451.5h1M140 452.5h2M175 452.5h1M475 452.5h3M593 452.5h1M713 452.5h1M938 452.5h1M1065 452.5h2M1170 452.5h1M142 453.5h2M174 453.5h1M478 453.5h2M592 453.5h1M714 453.5h1M937 453.5h1M1067 453.5h2M1169 453.5h1M144 454.5h2M172 454.5h2M480 454.5h2M591 454.5h1M715 454.5h2M936 454.5h1M1069 454.5h2M1168 454.5h1M146 455.5h3M170 455.5h2M482 455.5h2M590 455.5h1M717 455.5h1M935 455.5h1M1071 455.5h2M1167 455.5h1M149 456.5h2M167 456.5h3M484 456.5h2M589 456.5h1M718 456.5h1M933 456.5h2M1073 456.5h2M1166 456.5h1M151 457.5h3M165 457.5h2M486 457.5h2M588 457.5h1M719 457.5h1M932 457.5h1M1075 457.5h1M1165 457.5h1M154 458.5h11M488 458.5h1M587 458.5h1M720 458.5h1M931 458.5h1M1076 458.5h1M1164 458.5h1M489 459.5h1M586 459.5h1M721 459.5h2M929 459.5h2M1077 459.5h1M1163 459.5h1M490 460.5h1M585 460.5h1M723 460.5h1M788 460.5h6M926 460.5h3M1078 460.5h1M1162 460.5h1M491 461.5h2M584 461.5h1M724 461.5h1M784 461.5h4M794 461.5h8M924 461.5h2M1079 461.5h1M1161 461.5h1M493 462.5h1M583 462.5h1M725 462.5h2M781 462.5h3M802 462.5h9M918 462.5h6M1080 462.5h1M1160 462.5h1M494 463.5h1M582 463.5h1M727 463.5h2M778 463.5h3M811 463.5h11M905 463.5h13M1081 463.5h1M1159.5 463v2M495 464.5h1M581 464.5h1M729 464.5h2M776 464.5h2M822 464.5h31M903 464.5h2M1082 464.5h1M496 465.5h1M580 465.5h1M731 465.5h3M773 465.5h3M853 465.5h7M901 465.5h2M1083 465.5h1M1158 465.5h1M497 466.5h2M579 466.5h1M734 466.5h5M771 466.5h2M860 466.5h4M899 466.5h2M1084 466.5h2M1157 466.5h1M499 467.5h1M578 467.5h1M739 467.5h6M769 467.5h2M864 467.5h4M897 467.5h2M1086 467.5h1M1156 467.5h1M500 468.5h1M577 468.5h1M745 468.5h4M767 468.5h2M868 468.5h2M895 468.5h2M1087 468.5h1M1155.5 468v2M501 469.5h2M576 469.5h1M749 469.5h4M764 469.5h3M870 469.5h3M893 469.5h2M1088 469.5h2M503 470.5h2M574 470.5h2M753 470.5h4M760 470.5h4M873 470.5h3M891 470.5h2M1090 470.5h1M1154 470.5h1M505 471.5h4M540 471.5h20M573 471.5h1M757 471.5h3M876 471.5h2M888 471.5h3M1091 471.5h2M1153 471.5h1M509 472.5h4M536 472.5h4M560 472.5h2M571 472.5h2M878 472.5h3M884 472.5h4M1093 472.5h1M1151 472.5h2M513 473.5h4M522 473.5h14M562 473.5h9M881 473.5h3M1094 473.5h1M1150 473.5h1M517 474.5h5M1095 474.5h2M1149 474.5h1M1097 475.5h2M1147 475.5h2M1099 476.5h2M1146 476.5h1M1101 477.5h3M1144 477.5h2M1104 478.5h5M1141 478.5h3M1109 479.5h6M1139 479.5h2M1115 480.5h4M1133 480.5h6M1119 481.5h14" stroke="#ffff00" fill="none"/>
<path d="M208 605.5h8M205 606.5h3M216 606.5h2M203 607.5h2M218 607.5h2M201 608.5h2M220 608.5h3M200 609.5h1M223 609.5h2M199 610.5h1M225 610.5h3M198 611.5h1M228 611.5h3M966 611.5h5M197 612.5h1M231 612.5h2M258 612.5h7M961 612.5h5M971 612.5h2M196 613.5h1M233 613.5h2M256 613.5h2M265 613.5h2M372 613.5h3M958 613.5h3M973 613.5h3M1275 613.5h15M195 614.5h1M235 614.5h4M254 614.5h2M267 614.5h2M368 614.5h4M375 614.5h2M613 614.5h11M956 614.5h2M976 614.5h6M1273 614.5h2M1290 614.5h7M194 615.5h1M239 615.5h4M249 615.5h5M269 615.5h2M364 615.5h4M377 615.5h2M611 615.5h2M624 615.5h4M954 615.5h2M982 615.5h6M1207 615.5h6M1271 615.5h2M1297 615.5h2M193 616.5h1M243 616.5h6M271 616.5h2M361 616.5h3M379 616.5h2M608 616.5h3M628 616.5h5M952 616.5h2M988 616.5h2M1184 616.5h23M1213 616.5h4M1224 616.5h17M1269 616.5h2M1299 616.5h2M192.5 617v2M273 617.5h1M358 617.5h3M381 617.5h3M606 617.5h2M633 617.5h15M951 617.5h1M990 617.5h2M1181 617.5h3M1217 617.5h7M1241 617.5h5M1265 617.5h4M1301 617.5h2M274 618.5h1M355 618.5h3M384 618.5h2M604 618.5h2M648 618.5h2M950 618.5h1M992 618.5h2M1179 618.5h2M1246 618.5h7M1261 618.5h4M1303 618.5h2M191 619.5h1M275 619.5h2M352 619.5h3M386 619.5h3M602 619.5h2M650 619.5h2M948 619.5h2M994 619.5h2M1177 619.5h2M1253 619.5h8M1305 619.5h2M190 620.5h1M277 620.5h1M349 620.5h3M389 620.5h2M601 620.5h1M652 620.5h3M947 620.5h1M996 620.5h1M1175 620.5h2M1307 620.5h3M189 621.5h1M278 621.5h2M347 621.5h2M391 621.5h2M600 621.5h1M655 621.5h2M945 621.5h2M997 621.5h2M1173 621.5h2M1310 621.5h5M188.5 622v2M280 622.5h2M345 622.5h2M393 622.5h1M598 622.5h2M657 622.5h3M944 622.5h1M999 622.5h2M1171 622.5h2M1315 622.5h7M48 623.5h4M282 623.5h2M343 623.5h2M394 623.5h1M597 623.5h1M660 623.5h2M943 623.5h1M1001 623.5h1M1168 623.5h3M1322 623.5h4M43 624.5h5M52 624.5h2M187 624.5h1M284 624.5h1M341 624.5h2M395 624.5h1M595 624.5h2M662 624.5h1M941 624.5h2M1002 624.5h1M1164 624.5h4M1326 624.5h2M39 625.5h4M54 625.5h2M186 625.5h1M285 625.5h2M321 625.5h8M336 625.5h5M396 625.5h2M593 625.5h2M663 625.5h1M940 625.5h1M1003 625.5h1M1162 625.5h2M1328 625.5h2M36 626.5h3M56 626.5h2M184 626.5h2M287 626.5h2M316 626.5h5M329 626.5h7M398 626.5h1M592 626.5h1M664.5 626v2M939 626.5h1M1004 626.5h1M1160 626.5h2M1330 626.5h2M33 627.5h3M58 627.5h1M183 627.5h1M289 627.5h2M314 627.5h2M399 627.5h1M590 627.5h2M938 627.5h1M1005.5 627v2M1159 627.5h1M1332 627.5h2M31 628.5h2M59 628.5h1M182 628.5h1M291 628.5h3M312 628.5h2M400 628.5h1M589 628.5h1M665 628.5h1M937 628.5h1M1157 628.5h2M1334 628.5h2M30 629.5h1M60 629.5h1M180 629.5h2M294 629.5h3M310 629.5h2M401 629.5h1M587 629.5h2M666 629.5h1M936 629.5h1M1006 629.5h1M1156 629.5h1M1336 629.5h3M29 630.5h1M61 630.5h2M179 630.5h1M297 630.5h3M305 630.5h5M402 630.5h1M585 630.5h2M667 630.5h1M935 630.5h1M1007 630.5h1M1155 630.5h1M1339 630.5h3M28 631.5h1M63 631.5h1M178 631.5h1M300 631.5h5M403 631.5h1M584 631.5h1M668 631.5h1M934 631.5h1M1008 631.5h1M1154.5 631v2M1342 631.5h2M27 632.5h1M64 632.5h1M177 632.5h1M404 632.5h1M582 632.5h2M669 632.5h1M933 632.5h1M1009 632.5h1M1344 632.5h2M26 633.5h1M65 633.5h1M176 633.5h1M405.5 633v2M581 633.5h1M670 633.5h1M932 633.5h1M1010 633.5h1M1153 633.5h1M1346 633.5h3M25 634.5h1M66 634.5h1M113 634.5h5M174 634.5h2M580 634.5h1M671 634.5h2M781 634.5h10M930 634.5h2M1011 634.5h1M1152 634.5h1M1349 634.5h2M24 635.5h1M67 635.5h1M106 635.5h7M118 635.5h2M173 635.5h1M406 635.5h1M579 635.5h1M673 635.5h1M778 635.5h3M791 635.5h2M928 635.5h2M1012 635.5h2M1151 635.5h1M1351 635.5h3M23 636.5h1M68 636.5h1M101 636.5h5M120 636.5h2M172 636.5h1M407 636.5h1M578.5 636v2M674 636.5h1M776 636.5h2M793 636.5h2M903 636.5h5M927 636.5h1M1014 636.5h1M1150.5 636v2M1354 636.5h2M22 637.5h1M69 637.5h2M97 637.5h4M122 637.5h3M171 637.5h1M408 637.5h1M675 637.5h1M773 637.5h3M795 637.5h2M899 637.5h4M908 637.5h4M925 637.5h2M1015 637.5h1M21.5 638v2M71 638.5h1M93 638.5h4M125 638.5h2M169 638.5h2M409 638.5h1M577 638.5h1M676 638.5h2M770 638.5h3M797 638.5h1M897 638.5h2M912 638.5h3M923 638.5h2M1016 638.5h1M1149 638.5h1M72 639.5h1M90 639.5h3M127 639.5h3M167 639.5h2M410 639.5h2M576 639.5h1M678 639.5h2M768 639.5h2M798 639.5h2M895 639.5h2M915 639.5h2M920 639.5h3M1017 639.5h2M1148 639.5h1M20 640.5h1M73 640.5h1M87 640.5h3M130 640.5h3M166 640.5h1M412 640.5h2M575 640.5h1M680 640.5h2M766 640.5h2M800 640.5h5M894 640.5h1M917 640.5h3M1019 640.5h1M1147.5 640v2M19 641.5h1M74 641.5h2M84 641.5h3M133 641.5h2M164 641.5h2M414 641.5h2M573 641.5h2M682 641.5h2M765 641.5h1M805 641.5h6M892 641.5h2M1020 641.5h2M18 642.5h1M76 642.5h2M81 642.5h3M135 642.5h3M163 642.5h1M416 642.5h2M471 642.5h7M572 642.5h1M684 642.5h2M764 642.5h1M811 642.5h4M822 642.5h26M890 642.5h2M1022 642.5h2M1145 642.5h2M16 643.5h2M78 643.5h3M138 643.5h2M161 643.5h2M418 643.5h1M468 643.5h3M478 643.5h2M543 643.5h7M570 643.5h2M686 643.5h4M762 643.5h2M815 643.5h7M848 643.5h6M889 643.5h1M1024 643.5h2M1143 643.5h2M14 644.5h2M140 644.5h3M160 644.5h1M419 644.5h2M465 644.5h3M480 644.5h2M539 644.5h4M550 644.5h7M568 644.5h2M690 644.5h4M761 644.5h1M854 644.5h4M887 644.5h2M1026 644.5h3M1141 644.5h2M12 645.5h2M143 645.5h3M159 645.5h1M421 645.5h1M462 645.5h3M482 645.5h2M534 645.5h5M557 645.5h4M565 645.5h3M694 645.5h4M760 645.5h1M858 645.5h6M886 645.5h1M1029 645.5h5M1138 645.5h3M10 646.5h2M146 646.5h4M157 646.5h2M422 646.5h2M458 646.5h4M484 646.5h2M529 646.5h5M561 646.5h4M698 646.5h2M755 646.5h5M864 646.5h5M884 646.5h2M1034 646.5h7M1134 646.5h4M8 647.5h2M150 647.5h7M424 647.5h2M455 647.5h3M486 647.5h2M525 647.5h4M700 647.5h2M747 647.5h8M869 647.5h2M883 647.5h1M1041 647.5h10M1131 647.5h3M7 648.5h1M426 648.5h2M448 648.5h7M488 648.5h2M522 648.5h3M702 648.5h2M741 648.5h6M871 648.5h3M881 648.5h2M1051 648.5h18M1129 648.5h2M5 649.5h2M428 649.5h4M438 649.5h10M490 649.5h2M520 649.5h2M704 649.5h1M737 649.5h4M874 649.5h7M1069 649.5h4M1126 649.5h3M4 650.5h1M432 650.5h6M492 650.5h3M517 650.5h3M705 650.5h1M735 650.5h2M1073 650.5h3M1124 650.5h2M3 651.5h1M495 651.5h2M513 651.5h4M706 651.5h1M734 651.5h1M1076 651.5h2M1117 651.5h7M1 652.5h2M497 652.5h3M506 652.5h7M707 652.5h1M733 652.5h1M1078 652.5h2M1111 652.5h6M0 653.5h1M500 653.5h6M708 653.5h1M731 653.5h2M1080 653.5h2M1108 653.5h3M709 654.5h1M730 654.5h1M1082 654.5h2M1105 654.5h3M710 655.5h1M729 655.5h1M1084 655.5h5M1099 655.5h6M711 656.5h2M728 656.5h1M1089 656.5h10M713 657.5h1M726 657.5h2M714 658.5h2M724 658.5h2M716 659.5h3M722 659.5h2M719 660.5h3" stroke="#ffffff" fill="none"/>
<path d="M234 592.5h5M259 592.5h5M229 593.5h5M239 593.5h5M250 593.5h9M264 593.5h2M224 594.5h5M244 594.5h6M266 594.5h2M219 595.5h5M268 595.5h2M216 596.5h3M270 596.5h1M214 597.5h2M271 597.5h1M213 598.5h1M272 598.5h1M212 599.5h1M273 599.5h1M1275 599.5h23M210 600.5h2M274 600.5h1M1273 600.5h2M1298 600.5h2M209 601.5h1M275 601.5h1M644 601.5h3M986 601.5h3M1224 601.5h13M1271 601.5h2M1300 601.5h2M208.5 602v2M276 602.5h1M640 602.5h4M647 602.5h2M984 602.5h2M989 602.5h3M1220 602.5h4M1237 602.5h4M1269 602.5h2M1302 602.5h3M277 603.5h1M636 603.5h4M649 603.5h1M982 603.5h2M992 603.5h2M1209 603.5h11M1241 603.5h15M1264 603.5h5M1305 603.5h2M207 604.5h1M278 604.5h1M633 604.5h3M650 604.5h1M977 604.5h5M994 604.5h1M1207 604.5h2M1256 604.5h8M1307 604.5h3M206.5 605v2M279 605.5h1M631 605.5h2M651 605.5h2M972 605.5h5M995 605.5h1M1206 605.5h1M1310 605.5h5M280 606.5h2M372 606.5h7M627 606.5h4M653 606.5h1M969 606.5h3M996 606.5h1M1204 606.5h2M1315 606.5h5M205 607.5h1M282 607.5h1M367 607.5h5M379 607.5h4M623 607.5h4M654 607.5h1M967 607.5h2M997 607.5h2M1203 607.5h1M1320 607.5h4M204.5 608v2M283 608.5h1M366 608.5h1M383 608.5h4M621 608.5h2M655 608.5h1M965 608.5h2M999 608.5h1M1201 608.5h2M1324 608.5h2M284 609.5h1M365 609.5h1M387 609.5h2M620 609.5h1M656 609.5h1M964 609.5h1M1000 609.5h1M1198 609.5h3M1326 609.5h1M203 610.5h1M285 610.5h1M363 610.5h2M389 610.5h2M618 610.5h2M657 610.5h2M963 610.5h1M1001 610.5h1M1194 610.5h4M1327 610.5h1M202.5 611v2M286 611.5h2M362 611.5h1M391 611.5h2M617 611.5h1M659 611.5h1M961 611.5h2M1002.5 611v2M1192 611.5h2M1328 611.5h2M288 612.5h1M361 612.5h1M393 612.5h1M616 612.5h1M660 612.5h1M960 612.5h1M1191 612.5h1M1330 612.5h1M201 613.5h1M289 613.5h1M359 613.5h2M394 613.5h1M614 613.5h2M661 613.5h1M959 613.5h1M1003 613.5h1M1190 613.5h1M1331 613.5h1M200.5 614v2M290 614.5h2M357 614.5h2M395 614.5h1M613 614.5h1M662 614.5h1M958 614.5h1M1004 614.5h1M1189 614.5h1M1332 614.5h1M292 615.5h2M354 615.5h3M396 615.5h2M612 615.5h1M663 615.5h1M957 615.5h1M1005.5 615v2M1188 615.5h1M1333 615.5h2M199.5 616v2M294 616.5h2M352 616.5h2M398 616.5h1M611 616.5h1M664.5 616v2M956.5 616v2M1187 616.5h1M1335 616.5h1M296 617.5h2M350 617.5h2M399 617.5h1M610 617.5h1M1006 617.5h1M1186 617.5h1M1336 617.5h2M198.5 618v2M298 618.5h3M348 618.5h2M400 618.5h1M609 618.5h1M665 618.5h1M955 618.5h1M1007.5 618v2M1185 618.5h1M1338 618.5h2M301 619.5h4M346 619.5h2M401 619.5h1M608 619.5h1M666 619.5h1M954 619.5h1M1184 619.5h1M1340 619.5h1M197.5 620v2M305 620.5h16M345 620.5h1M402 620.5h1M607 620.5h1M667 620.5h1M953 620.5h1M1008 620.5h1M1183 620.5h1M1341 620.5h1M321 621.5h6M343 621.5h2M403 621.5h1M606 621.5h1M668 621.5h1M952 621.5h1M1009 621.5h1M1182 621.5h1M1342 621.5h1M196.5 622v2M327 622.5h4M341 622.5h2M404 622.5h1M605 622.5h1M669 622.5h1M951 622.5h1M1010 622.5h1M1181 622.5h1M1343 622.5h2M331 623.5h10M405 623.5h1M604 623.5h1M670 623.5h1M950.5 623v2M1011 623.5h1M1180 623.5h1M1345 623.5h1M195.5 624v2M406 624.5h1M603.5 624v2M671 624.5h1M1012.5 624v2M1179 624.5h1M1346 624.5h1M407 625.5h1M672 625.5h1M949 625.5h1M1178 625.5h1M1347 625.5h1M194 626.5h1M408 626.5h1M602 626.5h1M673 626.5h1M948 626.5h1M1013 626.5h1M1177 626.5h1M1348 626.5h1M193.5 627v2M409 627.5h1M601.5 627v2M674 627.5h1M947 627.5h1M1014 627.5h1M1176 627.5h1M1349 627.5h1M410.5 628v2M675 628.5h1M946.5 628v2M1015 628.5h1M1175.5 628v2M1350 628.5h1M192.5 629v2M600.5 629v2M676 629.5h1M1016 629.5h1M1351 629.5h1M58 630.5h4M411 630.5h1M677 630.5h1M945 630.5h1M1017 630.5h2M1174 630.5h1M1352 630.5h1M54 631.5h4M62 631.5h3M191 631.5h1M412 631.5h1M599 631.5h1M678 631.5h1M944 631.5h1M1019 631.5h1M1173 631.5h1M1353 631.5h1M52 632.5h2M65 632.5h2M190.5 632v2M413.5 632v2M598.5 632v2M679 632.5h1M943 632.5h1M1020 632.5h1M1172.5 632v2M1354 632.5h1M50 633.5h2M67.5 633v2M680 633.5h1M942 633.5h1M1021 633.5h1M1355 633.5h1M49 634.5h1M189 634.5h1M414 634.5h1M597 634.5h1M681 634.5h1M941.5 634v2M1022 634.5h1M1171 634.5h1M48 635.5h1M68 635.5h1M188.5 635v2M415 635.5h1M595 635.5h2M682 635.5h1M1023.5 635v2M1170 635.5h1M46 636.5h2M69 636.5h1M416 636.5h1M594 636.5h1M683 636.5h2M940 636.5h1M1169 636.5h1M45 637.5h1M70.5 637v2M187.5 637v2M417 637.5h1M593 637.5h1M685 637.5h1M939 637.5h1M1024 637.5h1M1168 637.5h1M43 638.5h2M418 638.5h1M591 638.5h2M686 638.5h1M938 638.5h1M1025 638.5h1M1166 638.5h2M42 639.5h1M71 639.5h1M186 639.5h1M419.5 639v2M590 639.5h1M687 639.5h1M937 639.5h1M1026 639.5h1M1165 639.5h1M41 640.5h1M72 640.5h2M184 640.5h2M589 640.5h1M688 640.5h1M936 640.5h1M1027 640.5h1M1164 640.5h1M39 641.5h2M74 641.5h2M183 641.5h1M420 641.5h1M588 641.5h1M689 641.5h1M935 641.5h1M1028 641.5h1M1163 641.5h1M38 642.5h1M76 642.5h2M90 642.5h8M182 642.5h1M421 642.5h1M587 642.5h1M690 642.5h1M934 642.5h1M1029 642.5h1M1162 642.5h1M37 643.5h1M78 643.5h12M98 643.5h5M110 643.5h7M180 643.5h2M422 643.5h1M586 643.5h1M691 643.5h2M933 643.5h1M1030 643.5h2M1161 643.5h1M36 644.5h1M103 644.5h7M117 644.5h4M179 644.5h1M423 644.5h1M585 644.5h1M693 644.5h1M932 644.5h1M1032 644.5h1M1160 644.5h1M35.5 645v2M121 645.5h3M178 645.5h1M424 645.5h1M584 645.5h1M694 645.5h1M931 645.5h1M1033 645.5h1M1159.5 645v2M124 646.5h2M176 646.5h2M425.5 646v2M583 646.5h1M695 646.5h1M930 646.5h1M1034 646.5h1M34 647.5h1M126 647.5h1M175 647.5h1M582 647.5h1M696 647.5h1M929 647.5h1M1035 647.5h1M1158 647.5h1M33 648.5h1M127 648.5h2M174 648.5h1M426 648.5h1M581 648.5h1M697 648.5h1M927 648.5h2M1036 648.5h2M1157 648.5h1M32.5 649v2M129 649.5h2M172 649.5h2M427 649.5h1M580.5 649v2M698 649.5h1M787 649.5h12M925 649.5h2M1038 649.5h1M1156 649.5h1M131 650.5h2M171 650.5h1M428.5 650v2M699 650.5h1M785 650.5h2M799 650.5h14M924 650.5h1M1039 650.5h2M1155 650.5h1M31 651.5h1M133 651.5h3M169 651.5h2M579 651.5h1M700.5 651v2M783 651.5h2M813 651.5h3M922 651.5h2M1041 651.5h1M1154.5 651v2M30 652.5h1M136 652.5h4M167 652.5h2M429 652.5h1M578 652.5h1M782 652.5h1M816 652.5h14M920 652.5h2M1042 652.5h2M29.5 653v2M140 653.5h3M166 653.5h1M430 653.5h1M577.5 653v2M701 653.5h1M781 653.5h1M830 653.5h5M904 653.5h8M917 653.5h3M1044 653.5h1M1153.5 653v2M143 654.5h2M164 654.5h2M431 654.5h2M702 654.5h1M780 654.5h1M835 654.5h2M842 654.5h6M899 654.5h5M912 654.5h5M1045 654.5h1M28 655.5h1M145 655.5h3M162 655.5h2M433 655.5h1M576 655.5h1M703 655.5h1M778 655.5h2M837 655.5h5M848 655.5h2M897 655.5h2M1046 655.5h1M1152.5 655v2M27 656.5h1M148 656.5h2M158 656.5h4M434 656.5h1M575 656.5h1M704.5 656v2M777 656.5h1M850 656.5h2M895 656.5h2M1047 656.5h2M26.5 657v2M150 657.5h8M435 657.5h2M574 657.5h1M776 657.5h1M852 657.5h3M894 657.5h1M1049 657.5h1M1151 657.5h1M437 658.5h1M573 658.5h1M705.5 658v2M775 658.5h1M855 658.5h4M892 658.5h2M1050 658.5h1M1150.5 658v2M25 659.5h1M438 659.5h2M572 659.5h1M773 659.5h2M859 659.5h4M890 659.5h2M1051 659.5h2M24 660.5h1M440 660.5h1M571 660.5h1M706.5 660v2M772 660.5h1M863 660.5h2M889 660.5h1M1053 660.5h2M1149.5 660v2M23.5 661v2M441 661.5h2M570 661.5h1M771 661.5h1M865 661.5h3M887 661.5h2M1055 661.5h2M443 662.5h2M470 662.5h8M568 662.5h2M707.5 662v2M769 662.5h2M868 662.5h3M886 662.5h1M1057 662.5h2M1148 662.5h1M22 663.5h1M445 663.5h2M467 663.5h3M478 663.5h2M565 663.5h3M768 663.5h1M871 663.5h2M884 663.5h2M1059 663.5h3M1147 663.5h1M21 664.5h1M447 664.5h3M465 664.5h2M480 664.5h2M544 664.5h21M708.5 664v2M767 664.5h1M873 664.5h2M882 664.5h2M1062 664.5h2M1146 664.5h1M20.5 665v2M450 665.5h4M459 665.5h6M482 665.5h2M541 665.5h3M766 665.5h1M875 665.5h7M1064 665.5h2M1145.5 665v2M454 666.5h5M484 666.5h2M538 666.5h3M709.5 666v2M765 666.5h1M1066 666.5h2M19 667.5h1M486 667.5h3M533 667.5h5M764.5 667v2M1068 667.5h2M1144 667.5h1M18 668.5h1M489 668.5h3M527 668.5h6M710 668.5h1M1070 668.5h2M1143 668.5h1M17.5 669v2M492 669.5h3M523 669.5h4M711 669.5h1M763 669.5h1M1072 669.5h1M1141 669.5h2M495 670.5h3M519 670.5h4M712 670.5h1M762 670.5h1M1073 670.5h1M1138 670.5h3M16 671.5h1M498 671.5h3M515 671.5h4M713 671.5h1M761 671.5h1M1074 671.5h2M1135 671.5h3M15 672.5h1M501 672.5h14M714 672.5h1M759 672.5h2M1076 672.5h1M1133 672.5h2M13 673.5h2M715 673.5h1M757 673.5h2M1077 673.5h2M1131 673.5h2M12 674.5h1M716 674.5h1M741 674.5h8M755 674.5h2M1079 674.5h2M1129 674.5h2M11 675.5h1M717 675.5h2M736 675.5h5M749 675.5h6M1081 675.5h2M1127 675.5h2M9 676.5h2M719 676.5h2M732 676.5h4M1083 676.5h4M1125 676.5h2M8 677.5h1M721 677.5h2M727 677.5h5M1087 677.5h4M1123 677.5h2M7 678.5h1M723 678.5h4M1091 678.5h7M1118 678.5h5M5 679.5h2M1098 679.5h20M3 680.5h2M1 681.5h2M0 682.5h1" stroke="#ffff00" fill="none"/>
<path d="M260 577.5h9M259 578.5h1M269 578.5h2M257 579.5h2M271 579.5h2M256 580.5h1M273 580.5h2M255 581.5h1M275 581.5h1M254 582.5h1M276 582.5h2M252 583.5h2M278 583.5h1M250 584.5h2M279 584.5h1M1281 584.5h17M249 585.5h1M280 585.5h2M1278 585.5h3M1298 585.5h2M247 586.5h2M282 586.5h1M1272 586.5h6M1300 586.5h2M245 587.5h2M283 587.5h1M1266 587.5h6M1302 587.5h3M243 588.5h2M284 588.5h1M1263 588.5h3M1305 588.5h2M241 589.5h2M285 589.5h2M1260 589.5h3M1307 589.5h3M238 590.5h3M287 590.5h1M1254 590.5h6M1310 590.5h3M236 591.5h2M288 591.5h1M1245 591.5h9M1313 591.5h4M234 592.5h2M289 592.5h1M1239 592.5h6M1317 592.5h3M232 593.5h2M290 593.5h1M1236 593.5h3M1320 593.5h4M231 594.5h1M291 594.5h1M1233 594.5h3M1324 594.5h2M229 595.5h2M292 595.5h1M1230 595.5h3M1326 595.5h1M228 596.5h1M293 596.5h2M1228 596.5h2M1327 596.5h1M227 597.5h1M295 597.5h1M1226 597.5h2M1328 597.5h1M225 598.5h2M296 598.5h1M1224 598.5h2M1329 598.5h1M222 599.5h3M297 599.5h1M990 599.5h4M1223 599.5h1M1330 599.5h1M218 600.5h4M298 600.5h2M987 600.5h3M994 600.5h1M1222 600.5h1M1331 600.5h1M216 601.5h2M300 601.5h2M372 601.5h9M651 601.5h5M986 601.5h1M995 601.5h1M1220 601.5h2M1332 601.5h1M215 602.5h1M302 602.5h2M366 602.5h6M381 602.5h6M648 602.5h3M656 602.5h5M985 602.5h1M996 602.5h1M1219 602.5h1M1333 602.5h1M214 603.5h1M304 603.5h2M364 603.5h2M387 603.5h4M646 603.5h2M661 603.5h1M984 603.5h1M997 603.5h2M1218 603.5h1M1334 603.5h2M213 604.5h1M306 604.5h2M362 604.5h2M391 604.5h2M644 604.5h2M662 604.5h1M983 604.5h1M999 604.5h1M1216 604.5h2M1336 604.5h1M212 605.5h1M308 605.5h3M359 605.5h3M393 605.5h1M642 605.5h2M663 605.5h1M982 605.5h1M1000 605.5h1M1215 605.5h1M1337 605.5h1M211 606.5h1M311 606.5h5M357 606.5h2M394 606.5h2M640 606.5h2M664 606.5h1M980 606.5h2M1001 606.5h1M1214 606.5h1M1338 606.5h2M210 607.5h1M316 607.5h6M354 607.5h3M396 607.5h1M638 607.5h2M665 607.5h1M978 607.5h2M1002 607.5h1M1213 607.5h1M1340 607.5h1M209 608.5h1M322 608.5h2M352 608.5h2M397 608.5h1M637 608.5h1M666 608.5h1M976 608.5h2M1003 608.5h1M1212 608.5h1M1341 608.5h1M208.5 609v2M324 609.5h2M349 609.5h3M398 609.5h2M635 609.5h2M667 609.5h1M974 609.5h2M1004 609.5h1M1210 609.5h2M1342 609.5h1M326 610.5h3M347 610.5h2M400 610.5h1M634 610.5h1M668 610.5h1M973 610.5h1M1005 610.5h1M1209 610.5h1M1343 610.5h1M207.5 611v2M329 611.5h2M344 611.5h3M401 611.5h1M633 611.5h1M669 611.5h1M972 611.5h1M1006 611.5h1M1208 611.5h1M1344 611.5h1M331 612.5h3M342 612.5h2M402 612.5h1M631 612.5h2M670 612.5h1M970 612.5h2M1007 612.5h1M1207 612.5h1M1345 612.5h1M206 613.5h1M334 613.5h8M403 613.5h1M630 613.5h1M671 613.5h2M969 613.5h1M1008 613.5h1M1206 613.5h1M1346 613.5h1M205.5 614v2M404 614.5h1M629 614.5h1M673 614.5h1M968 614.5h1M1009 614.5h1M1205 614.5h1M1347 614.5h1M405 615.5h1M627 615.5h2M674 615.5h1M967 615.5h1M1010 615.5h1M1204 615.5h1M1348 615.5h1M204 616.5h1M406 616.5h1M626 616.5h1M675 616.5h1M965 616.5h2M1011 616.5h1M1203.5 616v2M1349 616.5h1M203.5 617v2M407 617.5h1M625 617.5h1M676 617.5h1M964 617.5h1M1012 617.5h2M1350 617.5h1M408 618.5h1M623 618.5h2M677 618.5h1M963 618.5h1M1014 618.5h1M1202 618.5h1M1351 618.5h2M202.5 619v2M409 619.5h1M622 619.5h1M678 619.5h1M961 619.5h2M1015 619.5h1M1201 619.5h1M1353 619.5h1M410 620.5h1M621 620.5h1M679 620.5h1M960 620.5h1M1016 620.5h2M1200 620.5h1M1354 620.5h1M201.5 621v2M411 621.5h1M620 621.5h1M680 621.5h1M959 621.5h1M1018 621.5h2M1198 621.5h2M1355 621.5h1M412.5 622v2M619.5 622v2M681 622.5h1M958.5 622v2M1020 622.5h1M1197 622.5h1M200.5 623v2M682 623.5h1M1021 623.5h1M1196 623.5h1M413 624.5h1M618 624.5h1M683 624.5h2M957 624.5h1M1022 624.5h1M1194 624.5h2M199.5 625v2M414 625.5h1M617 625.5h1M685 625.5h1M956.5 625v2M1023 625.5h1M1193 625.5h1M415 626.5h1M616 626.5h1M686 626.5h1M1024 626.5h1M1192 626.5h1M198.5 627v2M416.5 627v2M615 627.5h1M687 627.5h1M955.5 627v2M1025 627.5h1M1191 627.5h1M614.5 628v2M688 628.5h1M1026 628.5h1M1190.5 628v2M197.5 629v2M417 629.5h1M689 629.5h1M954 629.5h1M1027 629.5h1M418 630.5h1M613 630.5h1M690 630.5h1M953.5 630v2M1028 630.5h2M1189 630.5h1M196.5 631v2M419.5 631v2M612 631.5h1M691 631.5h1M1030 631.5h1M1188 631.5h1M611.5 632v2M692 632.5h1M952 632.5h1M1031 632.5h1M1187.5 632v2M195.5 633v2M420 633.5h1M693 633.5h1M951.5 633v2M1032 633.5h2M421 634.5h1M610 634.5h1M694 634.5h1M1034 634.5h1M1186 634.5h1M194 635.5h1M422.5 635v2M609 635.5h1M695 635.5h1M950 635.5h1M1035 635.5h1M1185 635.5h1M193.5 636v2M608.5 636v2M696 636.5h1M949 636.5h1M1036 636.5h1M1184.5 636v2M423 637.5h1M697.5 637v2M948.5 637v2M1037 637.5h1M192 638.5h1M424.5 638v2M607 638.5h1M1038 638.5h1M1183 638.5h1M191.5 639v2M606 639.5h1M698 639.5h1M947 639.5h1M1039 639.5h1M1182.5 639v2M425 640.5h1M605.5 640v2M699 640.5h1M946 640.5h1M1040 640.5h1M190 641.5h1M426 641.5h1M700.5 641v2M945.5 641v2M1041 641.5h1M1181 641.5h1M189.5 642v2M427.5 642v2M604 642.5h1M1042 642.5h1M1180.5 642v2M603.5 643v2M701 643.5h1M944 643.5h1M1043 643.5h1M188 644.5h1M428 644.5h1M702.5 644v2M943 644.5h1M1044 644.5h1M1179 644.5h1M187.5 645v2M429.5 645v2M602 645.5h1M942.5 645v2M1045 645.5h1M1178.5 645v2M601.5 646v2M703.5 646v2M1046 646.5h1M112 647.5h7M186 647.5h1M430 647.5h1M941 647.5h1M1047 647.5h1M1177 647.5h1M97 648.5h15M119 648.5h3M185 648.5h1M431 648.5h1M600 648.5h1M704.5 648v2M940 648.5h1M1048.5 648v2M1176.5 648v2M95 649.5h2M122 649.5h2M184 649.5h1M432 649.5h1M599 649.5h1M939.5 649v2M59 650.5h8M92 650.5h3M124 650.5h1M183 650.5h1M433 650.5h1M598.5 650v2M705.5 650v3M1049 650.5h1M1175 650.5h1M57 651.5h2M67 651.5h2M90 651.5h2M125 651.5h2M182 651.5h1M434 651.5h2M938 651.5h1M1050 651.5h1M1174.5 651v2M55 652.5h2M69 652.5h3M87 652.5h3M127 652.5h1M181 652.5h1M436 652.5h1M597 652.5h1M937 652.5h1M1051 652.5h1M53 653.5h2M72 653.5h3M84 653.5h3M128 653.5h1M180 653.5h1M437 653.5h1M596 653.5h1M706.5 653v2M936 653.5h1M1052 653.5h1M1173 653.5h1M52 654.5h1M75 654.5h4M82 654.5h2M129 654.5h2M179 654.5h1M438 654.5h1M595 654.5h1M935 654.5h1M1053 654.5h1M1172 654.5h1M50 655.5h2M79 655.5h3M131 655.5h1M178 655.5h1M439 655.5h1M594 655.5h1M707.5 655v3M934 655.5h1M1054 655.5h1M1171.5 655v2M49 656.5h1M132 656.5h2M177 656.5h1M440 656.5h1M593 656.5h1M933 656.5h1M1055 656.5h2M48 657.5h1M134 657.5h2M176 657.5h1M441 657.5h2M592 657.5h1M932 657.5h1M1057 657.5h1M1170 657.5h1M46 658.5h2M136 658.5h2M175 658.5h1M443 658.5h1M591 658.5h1M708.5 658v2M931 658.5h1M1058 658.5h1M1169 658.5h1M45 659.5h1M138 659.5h2M174 659.5h1M444 659.5h1M590 659.5h1M930 659.5h1M1059 659.5h1M1168 659.5h1M44 660.5h1M140 660.5h2M173 660.5h1M445 660.5h1M589 660.5h1M709.5 660v2M929 660.5h1M1060 660.5h1M1167 660.5h1M43 661.5h1M142 661.5h2M172 661.5h1M446 661.5h1M588 661.5h1M928 661.5h1M1061 661.5h1M1166.5 661v2M42 662.5h1M144 662.5h2M170 662.5h2M447 662.5h2M587 662.5h1M710.5 662v2M927 662.5h1M1062 662.5h1M41 663.5h1M146 663.5h1M168 663.5h2M449 663.5h1M586 663.5h1M926 663.5h1M1063 663.5h1M1165 663.5h1M40 664.5h1M147 664.5h2M166 664.5h2M450 664.5h1M585.5 664v2M711.5 664v2M925 664.5h1M1064 664.5h2M1164 664.5h1M39 665.5h1M149 665.5h2M164 665.5h2M451 665.5h2M924 665.5h1M1066 665.5h1M1163 665.5h1M38 666.5h1M151 666.5h2M162 666.5h2M453 666.5h2M584 666.5h1M712 666.5h1M842 666.5h6M923 666.5h1M1067 666.5h1M1162 666.5h1M37 667.5h1M153 667.5h2M158 667.5h4M455 667.5h4M583 667.5h1M713 667.5h1M826 667.5h16M848 667.5h2M922 667.5h1M1068 667.5h1M1161 667.5h1M36 668.5h1M155 668.5h3M459 668.5h4M582 668.5h1M714.5 668v2M821 668.5h5M850 668.5h2M903 668.5h5M920 668.5h2M1069 668.5h1M1160 668.5h1M35 669.5h1M463 669.5h6M581 669.5h1M807 669.5h14M852 669.5h5M899 669.5h4M908 669.5h4M916 669.5h4M1070.5 669v2M1159.5 669v2M34 670.5h1M469 670.5h3M580.5 670v2M715 670.5h1M803 670.5h4M857 670.5h6M897 670.5h2M912 670.5h4M33 671.5h1M472 671.5h1M716.5 671v2M789 671.5h5M800 671.5h3M863 671.5h2M895 671.5h2M1071 671.5h1M1158 671.5h1M32 672.5h1M473 672.5h1M579 672.5h1M787 672.5h2M794 672.5h6M865 672.5h3M894 672.5h1M1072 672.5h1M1157 672.5h1M31 673.5h1M474 673.5h2M578 673.5h1M717 673.5h1M786 673.5h1M868 673.5h3M892 673.5h2M1073.5 673v2M1156 673.5h1M30 674.5h1M476 674.5h1M577.5 674v2M718 674.5h1M785 674.5h1M871 674.5h2M890 674.5h2M1155.5 674v2M29 675.5h1M477 675.5h1M719 675.5h1M783 675.5h2M873 675.5h2M889 675.5h1M1074 675.5h1M28 676.5h1M478 676.5h1M576 676.5h1M720 676.5h2M782 676.5h1M875 676.5h3M887 676.5h2M1075.5 676v2M1154 676.5h1M27 677.5h1M479 677.5h1M575 677.5h1M722 677.5h1M780 677.5h2M878 677.5h2M884 677.5h3M1153 677.5h1M26 678.5h1M480 678.5h2M574 678.5h1M723 678.5h1M778 678.5h2M880 678.5h4M1076 678.5h1M1152.5 678v2M25 679.5h1M482 679.5h1M572 679.5h2M724 679.5h1M777 679.5h1M1077 679.5h1M24 680.5h1M483 680.5h1M571 680.5h1M725 680.5h2M775 680.5h2M1078 680.5h1M1151.5 680v2M0 681.5h4M23 681.5h1M484 681.5h2M569 681.5h2M727 681.5h1M773 681.5h2M1079 681.5h1M4 682.5h5M22 682.5h1M486 682.5h1M567 682.5h2M728 682.5h2M770 682.5h3M1080.5 682v2M1150.5 682v2M9 683.5h2M20 683.5h2M487 683.5h2M550 683.5h9M565 683.5h2M730 683.5h8M768 683.5h2M11 684.5h2M19 684.5h1M489 684.5h1M544 684.5h6M559 684.5h6M738 684.5h2M766 684.5h2M1081 684.5h1M1149.5 684v2M13 685.5h2M17 685.5h2M490 685.5h1M541 685.5h3M740 685.5h2M765 685.5h1M1082 685.5h1M15 686.5h2M491 686.5h2M538 686.5h3M742 686.5h2M764 686.5h1M1083 686.5h1M1148.5 686v2M493 687.5h2M533 687.5h5M744 687.5h2M763 687.5h1M1084 687.5h1M495 688.5h2M527 688.5h6M746 688.5h2M762 688.5h1M1085 688.5h1M1147 688.5h1M497 689.5h3M523 689.5h4M748 689.5h2M761 689.5h1M1086 689.5h2M1146 689.5h1M500 690.5h4M519 690.5h4M750 690.5h2M760 690.5h1M1088 690.5h1M1144 690.5h2M504 691.5h6M515 691.5h4M752 691.5h8M1089 691.5h1M1143 691.5h1M510 692.5h5M1090 692.5h2M1142 692.5h1M1092 693.5h1M1140 693.5h2M1093 694.5h2M1137 694.5h3M1095 695.5h2M1134 695.5h3M1097 696.5h2M1131 696.5h3M1099 697.5h2M1129 697.5h2M1101 698.5h6M1127 698.5h2M1107 699.5h11M1125 699.5h2M1118 700.5h7" stroke="#ff00ff" fill="none"/>
<path d="M1320 566.5h3M1315 567.5h5M1323 567.5h2M1308 568.5h7M1325 568.5h1M1300 569.5h8M1326 569.5h2M373 570.5h7M1296 570.5h4M1328 570.5h2M367 571.5h6M380 571.5h4M1294 571.5h2M1330 571.5h1M365 572.5h2M384 572.5h3M1292 572.5h2M1331 572.5h2M363 573.5h2M387 573.5h2M1290 573.5h2M1333 573.5h2M361 574.5h2M389 574.5h2M1289 574.5h1M1335 574.5h2M359 575.5h2M391 575.5h2M1287 575.5h2M1337 575.5h1M357 576.5h2M393 576.5h2M1286 576.5h1M1338 576.5h2M355 577.5h2M395 577.5h1M1285 577.5h1M1340 577.5h1M353 578.5h2M396 578.5h1M1283 578.5h2M1341 578.5h2M269 579.5h5M351 579.5h2M397 579.5h1M1282 579.5h1M1343 579.5h2M265 580.5h4M274 580.5h4M349 580.5h2M398.5 580v2M1281 580.5h1M1345 580.5h1M264 581.5h1M278 581.5h4M347 581.5h2M1280 581.5h1M1346 581.5h1M263 582.5h1M282 582.5h5M345 582.5h2M399 582.5h1M1279 582.5h1M1347 582.5h1M262 583.5h1M287 583.5h4M316 583.5h11M343 583.5h2M400 583.5h1M1278 583.5h1M1348 583.5h1M261 584.5h1M291 584.5h3M312 584.5h4M327 584.5h4M341 584.5h2M401 584.5h1M1277 584.5h1M1349 584.5h1M260 585.5h1M294 585.5h4M305 585.5h7M331 585.5h10M402.5 585v2M1276 585.5h1M1350 585.5h2M259 586.5h1M298 586.5h7M1275 586.5h1M1352 586.5h1M258 587.5h1M403 587.5h1M1274 587.5h1M1353 587.5h1M257.5 588v2M404.5 588v2M1273 588.5h1M1354 588.5h1M1272 589.5h1M1355 589.5h1M256 590.5h1M405 590.5h1M1271 590.5h1M255 591.5h1M406.5 591v2M1270 591.5h1M254 592.5h1M1268 592.5h2M253 593.5h1M407 593.5h1M1267 593.5h1M252 594.5h1M408.5 594v2M1266 594.5h1M250 595.5h2M1265 595.5h1M249 596.5h1M409 596.5h1M1264 596.5h1M248 597.5h1M410.5 597v2M1263 597.5h1M247 598.5h1M1262 598.5h1M245 599.5h2M411 599.5h1M1260 599.5h2M243 600.5h2M412 600.5h1M1259 600.5h1M241 601.5h2M413.5 601v2M1258 601.5h1M239 602.5h2M1257 602.5h1M237 603.5h2M414 603.5h1M1256 603.5h1M236 604.5h1M415.5 604v2M1255 604.5h1M234 605.5h2M1253 605.5h2M233 606.5h1M416 606.5h1M1252 606.5h1M231 607.5h2M417.5 607v2M1251 607.5h1M230 608.5h1M1250 608.5h1M229 609.5h1M418 609.5h1M1249 609.5h1M227 610.5h2M419.5 610v2M1248 610.5h1M226 611.5h1M1247 611.5h1M225 612.5h1M420 612.5h1M1246 612.5h1M223 613.5h2M421.5 613v2M1245 613.5h1M222 614.5h1M1244 614.5h1M221 615.5h1M422 615.5h1M1243 615.5h1M220 616.5h1M423.5 616v2M1242 616.5h1M218 617.5h2M1241 617.5h1M217 618.5h1M424 618.5h1M1240 618.5h1M216 619.5h1M425.5 619v2M1239 619.5h1M0 620.5h1M215 620.5h1M1238 620.5h1M1 621.5h1M214 621.5h1M426 621.5h1M994 621.5h3M1237 621.5h1M2 622.5h1M213 622.5h1M427.5 622v2M990 622.5h4M997 622.5h4M1236 622.5h1M3 623.5h1M212 623.5h1M988 623.5h2M1001 623.5h3M1235 623.5h1M4 624.5h1M211 624.5h1M428.5 624v2M987 624.5h1M1004 624.5h2M1234 624.5h1M5 625.5h1M210 625.5h1M986 625.5h1M1006 625.5h3M1233 625.5h1M6 626.5h1M209 626.5h1M429 626.5h1M659 626.5h3M985.5 626v2M1009 626.5h2M1232 626.5h1M7 627.5h1M208.5 627v2M430.5 627v2M655 627.5h4M662 627.5h2M1011 627.5h2M1230 627.5h2M8.5 628v2M653 628.5h2M664 628.5h2M984 628.5h1M1013 628.5h1M1229 628.5h1M207.5 629v2M431 629.5h1M652 629.5h1M666 629.5h2M983 629.5h1M1014 629.5h1M1228 629.5h1M9 630.5h1M432 630.5h1M651 630.5h1M668 630.5h2M982 630.5h1M1015 630.5h2M1227 630.5h1M10 631.5h1M206.5 631v2M433 631.5h1M649 631.5h2M670 631.5h2M981 631.5h1M1017 631.5h3M1226 631.5h1M11.5 632v2M434 632.5h1M648 632.5h1M672 632.5h2M980 632.5h1M1020 632.5h1M1225.5 632v2M205 633.5h1M435 633.5h1M647 633.5h1M674 633.5h2M978 633.5h2M1021 633.5h1M12 634.5h1M204.5 634v2M436.5 634v2M646 634.5h1M676 634.5h2M977 634.5h1M1022 634.5h2M1224 634.5h1M13 635.5h2M25 635.5h13M645 635.5h1M678 635.5h2M976 635.5h1M1024 635.5h1M1223.5 635v2M15 636.5h2M21 636.5h4M38 636.5h2M203.5 636v2M437 636.5h1M644 636.5h1M680 636.5h1M975 636.5h1M1025 636.5h1M17 637.5h4M40 637.5h2M438 637.5h1M643 637.5h1M681 637.5h2M974 637.5h1M1026 637.5h1M1222.5 637v2M42 638.5h2M202.5 638v2M439 638.5h1M642.5 638v2M683 638.5h2M973 638.5h1M1027 638.5h2M44 639.5h6M440 639.5h1M685 639.5h2M972 639.5h1M1029 639.5h2M1221 639.5h1M50 640.5h5M201.5 640v2M441 640.5h1M641 640.5h1M687 640.5h1M971 640.5h1M1031 640.5h2M1220.5 640v2M55 641.5h2M442 641.5h1M640 641.5h1M688 641.5h2M970 641.5h1M1033 641.5h2M57 642.5h1M200.5 642v2M443 642.5h1M639 642.5h1M690 642.5h1M969 642.5h1M1035 642.5h1M1219 642.5h1M58 643.5h2M444 643.5h1M638 643.5h1M691 643.5h2M968 643.5h1M1036 643.5h2M1218 643.5h1M60 644.5h1M199.5 644v2M445.5 644v2M637 644.5h1M693 644.5h1M967 644.5h1M1038 644.5h2M1217 644.5h1M61 645.5h1M636 645.5h1M694 645.5h2M966 645.5h1M1040 645.5h2M1216 645.5h1M62.5 646v2M198.5 646v2M446 646.5h1M635 646.5h1M696 646.5h2M965 646.5h1M1042 646.5h2M1214 646.5h2M447 647.5h1M634 647.5h1M698 647.5h4M964 647.5h1M1044 647.5h1M1213 647.5h1M63 648.5h1M197.5 648v2M448 648.5h1M633 648.5h1M702 648.5h2M963.5 648v2M1045 648.5h1M1212 648.5h1M64 649.5h1M449 649.5h1M632 649.5h1M703 649.5h1M1046 649.5h1M1211 649.5h1M65.5 650v2M196.5 650v2M450 650.5h1M631 650.5h1M704.5 650v2M962 650.5h1M1047 650.5h1M1210 650.5h1M451 651.5h1M630 651.5h1M961 651.5h1M1048 651.5h1M1209.5 651v2M66 652.5h1M195.5 652v2M452 652.5h1M629 652.5h1M705.5 652v2M960 652.5h1M1049 652.5h1M67.5 653v2M453 653.5h2M628 653.5h1M959 653.5h1M1050 653.5h1M1208 653.5h1M194.5 654v2M455 654.5h1M626 654.5h2M706.5 654v2M958.5 654v2M1051 654.5h1M1207 654.5h1M68 655.5h1M456 655.5h1M625 655.5h1M1052 655.5h2M1206.5 655v2M69.5 656v2M193.5 656v2M457 656.5h1M624 656.5h1M707.5 656v3M957 656.5h1M1054 656.5h1M458 657.5h2M623 657.5h1M956.5 657v2M1055 657.5h2M1205 657.5h1M70.5 658v2M192.5 658v2M460 658.5h2M622.5 658v2M1057 658.5h1M1204 658.5h1M462 659.5h3M708.5 659v2M955.5 659v2M1058 659.5h2M1203.5 659v2M71 660.5h1M191.5 660v2M465 660.5h2M621 660.5h1M1060 660.5h1M72.5 661v2M467 661.5h2M620 661.5h1M709.5 661v2M954 661.5h1M1061 661.5h2M1202 661.5h1M190 662.5h1M469 662.5h1M619.5 662v2M953.5 662v2M1063 662.5h1M1201 662.5h1M73 663.5h1M189.5 663v2M470 663.5h2M710.5 663v2M1064 663.5h2M1200 663.5h1M74 664.5h1M472 664.5h1M618 664.5h1M952 664.5h1M1066 664.5h1M1199 664.5h1M75 665.5h1M188.5 665v2M473 665.5h1M617 665.5h1M711 665.5h1M951.5 665v2M1067 665.5h2M1198 665.5h1M76.5 666v2M474.5 666v2M616.5 666v2M712.5 666v2M1069 666.5h1M1197 666.5h1M187.5 667v2M950 667.5h1M1070.5 667v2M1196 667.5h1M77 668.5h1M475 668.5h1M615 668.5h1M713 668.5h1M949.5 668v2M1195 668.5h1M78 669.5h1M186 669.5h1M476 669.5h1M614 669.5h1M714 669.5h1M1071 669.5h1M1194 669.5h1M79 670.5h2M185 670.5h1M477.5 670v2M613.5 670v2M715.5 670v2M948 670.5h1M1072.5 670v2M1193 670.5h1M81 671.5h2M184 671.5h1M947.5 671v2M1192 671.5h1M83 672.5h2M183 672.5h1M478 672.5h1M612.5 672v2M716 672.5h1M1073.5 672v2M1191 672.5h1M85 673.5h5M182.5 673v2M479 673.5h1M717 673.5h1M946 673.5h1M1190 673.5h1M90 674.5h7M480 674.5h1M611.5 674v2M718 674.5h2M945.5 674v2M1074 674.5h1M1189 674.5h1M97 675.5h4M181 675.5h1M481 675.5h1M720 675.5h1M1075.5 675v2M1188 675.5h1M101 676.5h4M180 676.5h1M482.5 676v2M610 676.5h1M721 676.5h1M944 676.5h1M1187 676.5h1M105 677.5h2M113 677.5h6M179 677.5h1M609.5 677v2M722 677.5h2M943.5 677v2M1076 677.5h1M1186 677.5h1M107 678.5h6M119 678.5h3M178 678.5h1M483 678.5h1M724 678.5h2M1077 678.5h1M1185 678.5h1M122 679.5h2M177 679.5h1M484 679.5h1M608.5 679v2M726 679.5h3M942 679.5h1M1078 679.5h1M1184.5 679v2M124 680.5h2M176 680.5h1M485 680.5h1M729 680.5h4M941.5 680v2M1079 680.5h1M126 681.5h1M174 681.5h2M486 681.5h1M607 681.5h1M733 681.5h4M1080.5 681v2M1183 681.5h1M127 682.5h2M173 682.5h1M487 682.5h1M606.5 682v2M737 682.5h3M940.5 682v2M1182 682.5h1M129 683.5h2M172 683.5h1M488 683.5h1M740 683.5h1M1081 683.5h1M1181.5 683v2M131 684.5h1M171 684.5h1M489 684.5h1M605 684.5h1M741 684.5h1M939 684.5h1M1082 684.5h1M132 685.5h2M170 685.5h1M490 685.5h1M604 685.5h1M742 685.5h2M938.5 685v2M1083 685.5h1M1180 685.5h1M134 686.5h2M169 686.5h1M491 686.5h1M603.5 686v2M744 686.5h1M1084 686.5h1M1179 686.5h1M136 687.5h2M167 687.5h2M492 687.5h1M745 687.5h1M937 687.5h1M1085 687.5h1M1178 687.5h1M138 688.5h2M166 688.5h1M493 688.5h1M602 688.5h1M746 688.5h1M936 688.5h1M1086 688.5h2M1177 688.5h1M140 689.5h3M165 689.5h1M494 689.5h1M601 689.5h1M747 689.5h2M780 689.5h11M935.5 689v2M1088 689.5h1M1176 689.5h1M143 690.5h2M164 690.5h1M495 690.5h1M600.5 690v2M749 690.5h1M776 690.5h4M791 690.5h2M1089 690.5h1M1175.5 690v2M145 691.5h3M162 691.5h2M496 691.5h1M750 691.5h2M765 691.5h11M793 691.5h2M934 691.5h1M1090 691.5h2M148 692.5h2M160 692.5h2M497 692.5h2M599 692.5h1M752 692.5h2M763 692.5h2M795 692.5h1M933 692.5h1M1092 692.5h1M1174 692.5h1M150 693.5h4M158 693.5h2M499 693.5h1M598 693.5h1M754 693.5h3M761 693.5h2M796 693.5h2M932 693.5h1M1093 693.5h1M1173 693.5h1M154 694.5h4M500 694.5h1M597.5 694v2M757 694.5h4M798 694.5h2M931.5 694v2M1094 694.5h1M1172 694.5h1M501 695.5h1M800 695.5h3M1095 695.5h2M1170 695.5h2M502 696.5h2M596 696.5h1M803 696.5h4M930 696.5h1M1097 696.5h1M1168 696.5h2M504 697.5h1M595 697.5h1M807 697.5h4M929 697.5h1M1098 697.5h1M1166 697.5h2M505 698.5h1M594.5 698v2M811 698.5h2M927 698.5h2M1099 698.5h2M1164 698.5h2M506 699.5h2M813 699.5h2M926 699.5h1M1101 699.5h1M1163 699.5h1M508 700.5h1M593 700.5h1M815 700.5h2M925 700.5h1M1102 700.5h1M1162 700.5h1M509 701.5h2M592 701.5h1M817 701.5h4M923 701.5h2M1103 701.5h2M1161 701.5h1M511 702.5h1M591 702.5h1M821 702.5h5M922 702.5h1M1105 702.5h2M1160 702.5h1M512 703.5h2M590 703.5h1M826 703.5h4M920 703.5h2M1107 703.5h1M1159 703.5h1M514 704.5h2M588 704.5h2M830 704.5h3M918 704.5h2M1108 704.5h2M1158 704.5h1M516 705.5h3M587 705.5h1M833 705.5h3M904 705.5h8M916 705.5h2M1110 705.5h2M1157 705.5h1M519 706.5h4M586 706.5h1M836 706.5h10M900 706.5h4M912 706.5h4M1112 706.5h1M1156 706.5h1M523 707.5h3M585 707.5h1M846 707.5h2M898 707.5h2M1113 707.5h2M1155 707.5h1M526 708.5h2M584 708.5h1M848 708.5h2M897 708.5h1M1115 708.5h1M1154 708.5h1M528 709.5h2M583 709.5h1M850 709.5h2M896 709.5h1M1116 709.5h1M1153 709.5h1M530 710.5h2M582 710.5h1M852 710.5h4M894 710.5h2M1117 710.5h2M1152.5 710v2M532 711.5h2M581 711.5h1M856 711.5h4M893 711.5h1M1119 711.5h1M534 712.5h6M580 712.5h1M860 712.5h4M892 712.5h1M1120 712.5h2M1151 712.5h1M540 713.5h7M579 713.5h1M864 713.5h2M890 713.5h2M1122 713.5h3M1150 713.5h1M547 714.5h2M578 714.5h1M866 714.5h2M888 714.5h2M1125 714.5h4M1149 714.5h1M549 715.5h2M577 715.5h1M868 715.5h2M886 715.5h2M1129 715.5h4M1148 715.5h1M551 716.5h2M576 716.5h1M870 716.5h3M883 716.5h3M1133 716.5h3M1146 716.5h2M553 717.5h3M574 717.5h2M873 717.5h3M879 717.5h4M1136 717.5h2M1145 717.5h1M556 718.5h2M573 718.5h1M876 718.5h3M1138 718.5h3M1143 718.5h2M558 719.5h2M571 719.5h2M1141 719.5h2M560 720.5h11" stroke="#00ff00" fill="none"/>
<path d="M649 604h3v1h-3zM648 605h1v1h-1zM652 605h1v1h-1zM652 606h1v1h-1zM650 607h2v1h-2zM652 608h1v1h-1zM652 609h1v1h-1zM648 610h1v1h-1zM652 610h1v1h-1zM649 611h3v1h-3zM654 607h5v1h-5zM661 604h3v1h-3zM660 605h1v1h-1zM664 605h1v1h-1zM660 606h1v1h-1zM664 606h1v1h-1zM663 607h1v1h-1zM662 608h1v1h-1zM661 609h1v1h-1zM660 610h1v1h-1zM664 610h1v1h-1zM660 611h5v1h-5z" fill="#00ff00"/>
<path d="M671 602h1v1h-1zM666 603h1v1h-1zM667 603h1v1h-1zM668 603h1v1h-1zM669 603h1v1h-1zM670 603h1v1h-1zM671 603h1v1h-1zM672 603h1v1h-1zM673 603h1v1h-1zM674 603h1v1h-1zM675 603h1v1h-1zM676 603h1v1h-1zM669 604h1v1h-1zM673 604h1v1h-1zM667 605h1v1h-1zM670 605h1v1h-1zM671 605h1v1h-1zM672 605h1v1h-1zM675 605h1v1h-1zM667 606h1v1h-1zM670 606h1v1h-1zM671 606h1v1h-1zM672 606h1v1h-1zM675 606h1v1h-1zM667 607h1v1h-1zM668 607h1v1h-1zM669 607h1v1h-1zM670 607h1v1h-1zM671 607h1v1h-1zM672 607h1v1h-1zM673 607h1v1h-1zM674 607h1v1h-1zM675 607h1v1h-1zM671 608h1v1h-1zM666 609h1v1h-1zM667 609h1v1h-1zM668 609h1v1h-1zM669 609h1v1h-1zM670 609h1v1h-1zM671 609h1v1h-1zM672 609h1v1h-1zM673 609h1v1h-1zM674 609h1v1h-1zM675 609h1v1h-1zM676 609h1v1h-1zM666 610h1v1h-1zM670 610h1v1h-1zM676 610h1v1h-1zM666 611h1v1h-1zM669 611h1v1h-1zM672 611h1v1h-1zM676 611h1v1h-1zM666 612h1v1h-1zM668 612h1v1h-1zM669 612h1v1h-1zM670 612h1v1h-1zM671 612h1v1h-1zM672 612h1v1h-1zM673 612h1v1h-1zM676 612h1v1h-1zM666 613h1v1h-1zM673 613h1v1h-1zM675 613h1v1h-1zM676 613h1v1h-1z" fill="#00ff00"/>
<path d="M680 602h1v1h-1zM680 603h1v1h-1zM683 603h1v1h-1zM684 603h1v1h-1zM685 603h1v1h-1zM686 603h1v1h-1zM687 603h1v1h-1zM680 604h1v1h-1zM686 604h1v1h-1zM678 605h1v1h-1zM679 605h1v1h-1zM680 605h1v1h-1zM681 605h1v1h-1zM685 605h1v1h-1zM680 606h1v1h-1zM684 606h1v1h-1zM680 607h1v1h-1zM683 607h1v1h-1zM684 607h1v1h-1zM685 607h1v1h-1zM686 607h1v1h-1zM687 607h1v1h-1zM688 607h1v1h-1zM680 608h1v1h-1zM684 608h1v1h-1zM686 608h1v1h-1zM688 608h1v1h-1zM680 609h1v1h-1zM684 609h1v1h-1zM686 609h1v1h-1zM688 609h1v1h-1zM680 610h1v1h-1zM681 610h1v1h-1zM683 610h1v1h-1zM685 610h1v1h-1zM688 610h1v1h-1zM678 611h1v1h-1zM679 611h1v1h-1zM682 611h1v1h-1zM685 611h1v1h-1zM688 611h1v1h-1zM684 612h1v1h-1zM688 612h1v1h-1zM683 613h1v1h-1zM686 613h1v1h-1zM687 613h1v1h-1z" fill="#00ff00"/>
<rect x="647" y="601" width="2" height="2" fill="#ff0000"/>
<path d="M988 602h3v1h-3zM987 603h1v1h-1zM991 603h1v1h-1zM991 604h1v1h-1zM989 605h2v1h-2zM991 606h1v1h-1zM991 607h1v1h-1zM987 608h1v1h-1zM991 608h1v1h-1zM988 609h3v1h-3zM993 605h5v1h-5zM1000 602h3v1h-3zM999 603h1v1h-1zM1003 603h1v1h-1zM999 604h1v1h-1zM1003 604h1v1h-1zM1002 605h1v1h-1zM1001 606h1v1h-1zM1000 607h1v1h-1zM999 608h1v1h-1zM1003 608h1v1h-1zM999 609h5v1h-5z" fill="#00ff00"/>
<path d="M1010 600h1v1h-1zM1005 601h1v1h-1zM1006 601h1v1h-1zM1007 601h1v1h-1zM1008 601h1v1h-1zM1009 601h1v1h-1zM1010 601h1v1h-1zM1011 601h1v1h-1zM1012 601h1v1h-1zM1013 601h1v1h-1zM1014 601h1v1h-1zM1015 601h1v1h-1zM1008 602h1v1h-1zM1012 602h1v1h-1zM1006 603h1v1h-1zM1009 603h1v1h-1zM1010 603h1v1h-1zM1011 603h1v1h-1zM1014 603h1v1h-1zM1006 604h1v1h-1zM1009 604h1v1h-1zM1010 604h1v1h-1zM1011 604h1v1h-1zM1014 604h1v1h-1zM1006 605h1v1h-1zM1007 605h1v1h-1zM1008 605h1v1h-1zM1009 605h1v1h-1zM1010 605h1v1h-1zM1011 605h1v1h-1zM1012 605h1v1h-1zM1013 605h1v1h-1zM1014 605h1v1h-1zM1010 606h1v1h-1zM1005 607h1v1h-1zM1006 607h1v1h-1zM1007 607h1v1h-1zM1008 607h1v1h-1zM1009 607h1v1h-1zM1010 607h1v1h-1zM1011 607h1v1h-1zM1012 607h1v1h-1zM1013 607h1v1h-1zM1014 607h1v1h-1zM1015 607h1v1h-1zM1005 608h1v1h-1zM1009 608h1v1h-1zM1015 608h1v1h-1zM1005 609h1v1h-1zM1008 609h1v1h-1zM1011 609h1v1h-1zM1015 609h1v1h-1zM1005 610h1v1h-1zM1007 610h1v1h-1zM1008 610h1v1h-1zM1009 610h1v1h-1zM1010 610h1v1h-1zM1011 610h1v1h-1zM1012 610h1v1h-1zM1015 610h1v1h-1zM1005 611h1v1h-1zM1012 611h1v1h-1zM1014 611h1v1h-1zM1015 611h1v1h-1z" fill="#00ff00"/>
<path d="M1019 600h1v1h-1zM1019 601h1v1h-1zM1022 601h1v1h-1zM1023 601h1v1h-1zM1024 601h1v1h-1zM1025 601h1v1h-1zM1026 601h1v1h-1zM1019 602h1v1h-1zM1025 602h1v1h-1zM1017 603h1v1h-1zM1018 603h1v1h-1zM1019 603h1v1h-1zM1020 603h1v1h-1zM1024 603h1v1h-1zM1019 604h1v1h-1zM1023 604h1v1h-1zM1019 605h1v1h-1zM1022 605h1v1h-1zM1023 605h1v1h-1zM1024 605h1v1h-1zM1025 605h1v1h-1zM1026 605h1v1h-1zM1027 605h1v1h-1zM1019 606h1v1h-1zM1023 606h1v1h-1zM1025 606h1v1h-1zM1027 606h1v1h-1zM1019 607h1v1h-1zM1023 607h1v1h-1zM1025 607h1v1h-1zM1027 607h1v1h-1zM1019 608h1v1h-1zM1020 608h1v1h-1zM1022 608h1v1h-1zM1024 608h1v1h-1zM1027 608h1v1h-1zM1017 609h1v1h-1zM1018 609h1v1h-1zM1021 609h1v1h-1zM1024 609h1v1h-1zM1027 609h1v1h-1zM1023 610h1v1h-1zM1027 610h1v1h-1zM1022 611h1v1h-1zM1025 611h1v1h-1zM1026 611h1v1h-1z" fill="#00ff00"/>
<rect x="986" y="599" width="2" height="2" fill="#ff0000"/>
<path d="M1224 602h3v1h-3zM1223 603h1v1h-1zM1227 603h1v1h-1zM1227 604h1v1h-1zM1225 605h2v1h-2zM1227 606h1v1h-1zM1227 607h1v1h-1zM1223 608h1v1h-1zM1227 608h1v1h-1zM1224 609h3v1h-3zM1229 605h5v1h-5zM1236 602h3v1h-3zM1235 603h1v1h-1zM1239 603h1v1h-1zM1235 604h1v1h-1zM1239 604h1v1h-1zM1238 605h1v1h-1zM1237 606h1v1h-1zM1236 607h1v1h-1zM1235 608h1v1h-1zM1239 608h1v1h-1zM1235 609h5v1h-5z" fill="#00ff00"/>
<path d="M1246 600h1v1h-1zM1241 601h1v1h-1zM1242 601h1v1h-1zM1243 601h1v1h-1zM1244 601h1v1h-1zM1245 601h1v1h-1zM1246 601h1v1h-1zM1247 601h1v1h-1zM1248 601h1v1h-1zM1249 601h1v1h-1zM1250 601h1v1h-1zM1251 601h1v1h-1zM1244 602h1v1h-1zM1248 602h1v1h-1zM1242 603h1v1h-1zM1245 603h1v1h-1zM1246 603h1v1h-1zM1247 603h1v1h-1zM1250 603h1v1h-1zM1242 604h1v1h-1zM1245 604h1v1h-1zM1246 604h1v1h-1zM1247 604h1v1h-1zM1250 604h1v1h-1zM1242 605h1v1h-1zM1243 605h1v1h-1zM1244 605h1v1h-1zM1245 605h1v1h-1zM1246 605h1v1h-1zM1247 605h1v1h-1zM1248 605h1v1h-1zM1249 605h1v1h-1zM1250 605h1v1h-1zM1246 606h1v1h-1zM1241 607h1v1h-1zM1242 607h1v1h-1zM1243 607h1v1h-1zM1244 607h1v1h-1zM1245 607h1v1h-1zM1246 607h1v1h-1zM1247 607h1v1h-1zM1248 607h1v1h-1zM1249 607h1v1h-1zM1250 607h1v1h-1zM1251 607h1v1h-1zM1241 608h1v1h-1zM1245 608h1v1h-1zM1251 608h1v1h-1zM1241 609h1v1h-1zM1244 609h1v1h-1zM1247 609h1v1h-1zM1251 609h1v1h-1zM1241 610h1v1h-1zM1243 610h1v1h-1zM1244 610h1v1h-1zM1245 610h1v1h-1zM1246 610h1v1h-1zM1247 610h1v1h-1zM1248 610h1v1h-1zM1251 610h1v1h-1zM1241 611h1v1h-1zM1248 611h1v1h-1zM1250 611h1v1h-1zM1251 611h1v1h-1z" fill="#00ff00"/>
<path d="M1255 600h1v1h-1zM1255 601h1v1h-1zM1258 601h1v1h-1zM1259 601h1v1h-1zM1260 601h1v1h-1zM1261 601h1v1h-1zM1262 601h1v1h-1zM1255 602h1v1h-1zM1261 602h1v1h-1zM1253 603h1v1h-1zM1254 603h1v1h-1zM1255 603h1v1h-1zM1256 603h1v1h-1zM1260 603h1v1h-1zM1255 604h1v1h-1zM1259 604h1v1h-1zM1255 605h1v1h-1zM1258 605h1v1h-1zM1259 605h1v1h-1zM1260 605h1v1h-1zM1261 605h1v1h-1zM1262 605h1v1h-1zM1263 605h1v1h-1zM1255 606h1v1h-1zM1259 606h1v1h-1zM1261 606h1v1h-1zM1263 606h1v1h-1zM1255 607h1v1h-1zM1259 607h1v1h-1zM1261 607h1v1h-1zM1263 607h1v1h-1zM1255 608h1v1h-1zM1256 608h1v1h-1zM1258 608h1v1h-1zM1260 608h1v1h-1zM1263 608h1v1h-1zM1253 609h1v1h-1zM1254 609h1v1h-1zM1257 609h1v1h-1zM1260 609h1v1h-1zM1263 609h1v1h-1zM1259 610h1v1h-1zM1263 610h1v1h-1zM1258 611h1v1h-1zM1261 611h1v1h-1zM1262 611h1v1h-1z" fill="#00ff00"/>
<rect x="1222" y="599" width="2" height="2" fill="#ff0000"/>
<path d="M377 13.5h2M379 14.5h4M383 15.5h4M387 16.5h2" stroke="#c0c0c0" fill="none"/>
<rect x="377" y="9" width="1" height="1" fill="#c0c0c0"/>
<rect x="376" y="10" width="1" height="1" fill="#c0c0c0"/>
<rect x="377" y="15" width="1" height="1" fill="#c0c0c0"/>
<path d="M390 12h3v1h-3zM389 13h1v1h-1zM393 13h1v1h-1zM393 14h1v1h-1zM391 15h2v1h-2zM393 16h1v1h-1zM393 17h1v1h-1zM389 18h1v1h-1zM393 18h1v1h-1zM390 19h3v1h-3zM396 12h3v1h-3zM395 13h1v1h-1zM399 13h1v1h-1zM395 14h1v1h-1zM399 14h1v1h-1zM395 15h1v1h-1zM399 15h1v1h-1zM395 16h1v1h-1zM399 16h1v1h-1zM395 17h1v1h-1zM399 17h1v1h-1zM395 18h1v1h-1zM399 18h1v1h-1zM396 19h3v1h-3zM403 12h2v1h-2zM402 13h1v1h-1zM401 14h1v1h-1zM401 15h4v1h-4zM401 16h1v1h-1zM405 16h1v1h-1zM401 17h1v1h-1zM405 17h1v1h-1zM401 18h1v1h-1zM405 18h1v1h-1zM402 19h3v1h-3zM407 12h5v1h-5zM407 13h1v1h-1zM411 13h1v1h-1zM410 14h1v1h-1zM410 15h1v1h-1zM409 16h1v1h-1zM409 17h1v1h-1zM409 18h1v1h-1zM409 19h1v1h-1zM414 19h1v1h-1zM422 12h1v1h-1zM421 13h2v1h-2zM420 14h1v1h-1zM422 14h1v1h-1zM420 15h1v1h-1zM422 15h1v1h-1zM419 16h1v1h-1zM422 16h1v1h-1zM419 17h5v1h-5zM422 18h1v1h-1zM421 19h3v1h-3zM425 12h5v1h-5zM425 13h1v1h-1zM425 14h1v1h-1zM425 15h4v1h-4zM429 16h1v1h-1zM429 17h1v1h-1zM425 18h1v1h-1zM429 18h1v1h-1zM426 19h3v1h-3z" fill="#c0c0c0"/>
<path d="M1144 284.5h13" stroke="#c0c0c0" fill="none"/>
<rect x="1144" y="282" width="1" height="1" fill="#c0c0c0"/>
<rect x="1145" y="281" width="1" height="1" fill="#c0c0c0"/>
<rect x="1144" y="286" width="1" height="1" fill="#c0c0c0"/>
<rect x="1145" y="287" width="1" height="1" fill="#c0c0c0"/>
<path d="M1158 280h3v1h-3zM1157 281h1v1h-1zM1161 281h1v1h-1zM1157 282h1v1h-1zM1161 282h1v1h-1zM1160 283h1v1h-1zM1159 284h1v1h-1zM1158 285h1v1h-1zM1157 286h1v1h-1zM1161 286h1v1h-1zM1157 287h5v1h-5zM1165 280h1v1h-1zM1164 281h2v1h-2zM1165 282h1v1h-1zM1165 283h1v1h-1zM1165 284h1v1h-1zM1165 285h1v1h-1zM1165 286h1v1h-1zM1164 287h3v1h-3zM1170 280h3v1h-3zM1169 281h1v1h-1zM1173 281h1v1h-1zM1173 282h1v1h-1zM1171 283h2v1h-2zM1173 284h1v1h-1zM1173 285h1v1h-1zM1169 286h1v1h-1zM1173 286h1v1h-1zM1170 287h3v1h-3zM1176 280h3v1h-3zM1175 281h1v1h-1zM1179 281h1v1h-1zM1175 282h1v1h-1zM1179 282h1v1h-1zM1178 283h1v1h-1zM1177 284h1v1h-1zM1176 285h1v1h-1zM1175 286h1v1h-1zM1179 286h1v1h-1zM1175 287h5v1h-5zM1182 287h1v1h-1zM1189 280h2v1h-2zM1188 281h1v1h-1zM1187 282h1v1h-1zM1187 283h4v1h-4zM1187 284h1v1h-1zM1191 284h1v1h-1zM1187 285h1v1h-1zM1191 285h1v1h-1zM1187 286h1v1h-1zM1191 286h1v1h-1zM1188 287h3v1h-3zM1194 280h3v1h-3zM1193 281h1v1h-1zM1197 281h1v1h-1zM1197 282h1v1h-1zM1195 283h2v1h-2zM1197 284h1v1h-1zM1197 285h1v1h-1zM1193 286h1v1h-1zM1197 286h1v1h-1zM1194 287h3v1h-3z" fill="#c0c0c0"/>
<path d="M205 0.5h21M226 1.5h18M244 2.5h17M261 3.5h17M278 4.5h13M291 5.5h17M308 6.5h13M321 7.5h13M334 8.5h13M347 9.5h18M365 10.5h16M381 11.5h17M398 12.5h17M415 13.5h17M432 14.5h17M449 15.5h17M466 16.5h21M487 17.5h23M510 18.5h25M535 19.5h26M561 20.5h26M587 21.5h34M621 22.5h30M651 23.5h30M681 24.5h34M715 25.5h31M746 26.5h38M784 27.5h39M823 28.5h34M857 29.5h39M896 30.5h47M943 31.5h38M981 32.5h48M1029 33.5h38M1067 34.5h48M1115 35.5h51M1166 36.5h39M1205 37.5h38M1243 38.5h35M1278 39.5h25M1303 40.5h29M1332 41.5h23M1355 42.5h2" stroke="#00ff00" fill="none"/>
<path d="M0 341h2v1h-2zM-1 342h1v1h-1zM-2 343h1v1h-1zM-2 344h4v1h-4zM-2 345h1v1h-1zM2 345h1v1h-1zM-2 346h1v1h-1zM2 346h1v1h-1zM-2 347h1v1h-1zM2 347h1v1h-1zM-1 348h3v1h-3zM4 348h2v1h-2zM5 349h1v1h-1zM4 350h1v1h-1zM11 341h3v1h-3zM10 342h1v1h-1zM14 342h1v1h-1zM10 343h1v1h-1zM14 343h1v1h-1zM10 344h1v1h-1zM14 344h1v1h-1zM11 345h4v1h-4zM14 346h1v1h-1zM13 347h1v1h-1zM11 348h2v1h-2zM16 348h2v1h-2zM17 349h1v1h-1zM16 350h1v1h-1zM24 341h1v1h-1zM23 342h2v1h-2zM24 343h1v1h-1zM24 344h1v1h-1zM24 345h1v1h-1zM24 346h1v1h-1zM24 347h1v1h-1zM23 348h3v1h-3zM29 341h3v1h-3zM28 342h1v1h-1zM32 342h1v1h-1zM28 343h1v1h-1zM32 343h1v1h-1zM31 344h1v1h-1zM30 345h1v1h-1zM29 346h1v1h-1zM28 347h1v1h-1zM32 347h1v1h-1zM28 348h5v1h-5zM35 340h1v1h-1zM36 341h1v1h-1zM37 342h1v1h-1zM37 343h1v1h-1zM37 344h1v1h-1zM37 345h1v1h-1zM37 346h1v1h-1zM37 347h1v1h-1zM36 348h1v1h-1zM35 349h1v1h-1z" fill="#c8c8c8"/>
<path d="M46 342h4v1h-4zM47 343h1v1h-1zM50 343h1v1h-1zM47 344h1v1h-1zM50 344h1v1h-1zM47 345h1v1h-1zM50 345h1v1h-1zM47 346h1v1h-1zM50 346h1v1h-1zM47 347h1v1h-1zM50 347h1v1h-1zM47 348h1v1h-1zM50 348h1v1h-1zM46 349h4v1h-4zM52 342h5v1h-5zM54 343h1v1h-1zM54 344h1v1h-1zM54 345h1v1h-1zM54 346h1v1h-1zM54 347h1v1h-1zM54 348h1v1h-1zM52 349h5v1h-5zM58 342h5v1h-5zM59 343h1v1h-1zM62 343h1v1h-1zM59 344h1v1h-1zM61 344h1v1h-1zM59 345h3v1h-3zM59 346h1v1h-1zM61 346h1v1h-1zM59 347h1v1h-1zM59 348h1v1h-1zM58 349h3v1h-3zM64 342h5v1h-5zM65 343h1v1h-1zM68 343h1v1h-1zM65 344h1v1h-1zM67 344h1v1h-1zM65 345h3v1h-3zM65 346h1v1h-1zM67 346h1v1h-1zM65 347h1v1h-1zM65 348h1v1h-1zM64 349h3v1h-3zM72 344h1v1h-1zM72 349h1v1h-1zM84 342h2v1h-2zM83 343h1v1h-1zM82 344h1v1h-1zM82 345h4v1h-4zM82 346h1v1h-1zM86 346h1v1h-1zM82 347h1v1h-1zM86 347h1v1h-1zM82 348h1v1h-1zM86 348h1v1h-1zM83 349h3v1h-3zM89 349h1v1h-1zM95 342h3v1h-3zM94 343h1v1h-1zM98 343h1v1h-1zM94 344h1v1h-1zM98 344h1v1h-1zM95 345h3v1h-3zM94 346h1v1h-1zM98 346h1v1h-1zM94 347h1v1h-1zM98 347h1v1h-1zM94 348h1v1h-1zM98 348h1v1h-1zM95 349h3v1h-3zM103 342h1v1h-1zM102 343h2v1h-2zM101 344h1v1h-1zM103 344h1v1h-1zM101 345h1v1h-1zM103 345h1v1h-1zM100 346h1v1h-1zM103 346h1v1h-1zM100 347h5v1h-5zM103 348h1v1h-1zM102 349h3v1h-3zM107 342h3v1h-3zM106 343h1v1h-1zM110 343h1v1h-1zM106 344h1v1h-1zM110 344h1v1h-1zM106 345h1v1h-1zM110 345h1v1h-1zM107 346h4v1h-4zM110 347h1v1h-1zM109 348h1v1h-1zM107 349h2v1h-2z" fill="#ffffff"/>
<rect x="116" y="340" width="1" height="11" fill="#48ff48"/>
<rect x="115" y="347" width="3" height="2" fill="#48ff48"/>
<rect x="114" y="346" width="1" height="1" fill="#48ff48"/>
<rect x="118" y="346" width="1" height="1" fill="#48ff48"/>
<path d="M120 349h2v1h-2zM121 350h1v1h-1zM120 351h1v1h-1z" fill="#ffffff"/>
<path d="M129 342h4v1h-4zM130 343h1v1h-1zM133 343h1v1h-1zM130 344h1v1h-1zM133 344h1v1h-1zM130 345h1v1h-1zM133 345h1v1h-1zM130 346h1v1h-1zM133 346h1v1h-1zM130 347h1v1h-1zM133 347h1v1h-1zM130 348h1v1h-1zM133 348h1v1h-1zM129 349h4v1h-4zM135 342h5v1h-5zM136 343h1v1h-1zM139 343h1v1h-1zM136 344h1v1h-1zM138 344h1v1h-1zM136 345h3v1h-3zM136 346h1v1h-1zM138 346h1v1h-1zM136 347h1v1h-1zM136 348h1v1h-1zM139 348h1v1h-1zM135 349h5v1h-5zM143 342h1v1h-1zM143 343h1v1h-1zM142 344h1v1h-1zM144 344h1v1h-1zM142 345h1v1h-1zM144 345h1v1h-1zM142 346h1v1h-1zM144 346h1v1h-1zM142 347h4v1h-4zM141 348h1v1h-1zM145 348h1v1h-1zM141 349h2v1h-2zM144 349h3v1h-3zM149 344h1v1h-1zM149 349h1v1h-1zM161 342h1v1h-1zM160 343h2v1h-2zM161 344h1v1h-1zM161 345h1v1h-1zM161 346h1v1h-1zM161 347h1v1h-1zM161 348h1v1h-1zM160 349h3v1h-3zM167 342h2v1h-2zM166 343h1v1h-1zM165 344h1v1h-1zM165 345h4v1h-4zM165 346h1v1h-1zM169 346h1v1h-1zM165 347h1v1h-1zM169 347h1v1h-1zM165 348h1v1h-1zM169 348h1v1h-1zM166 349h3v1h-3zM172 349h1v1h-1zM178 342h3v1h-3zM177 343h1v1h-1zM181 343h1v1h-1zM181 344h1v1h-1zM179 345h2v1h-2zM181 346h1v1h-1zM181 347h1v1h-1zM177 348h1v1h-1zM181 348h1v1h-1zM178 349h3v1h-3zM183 342h5v1h-5zM183 343h1v1h-1zM183 344h1v1h-1zM183 345h4v1h-4zM187 346h1v1h-1zM187 347h1v1h-1zM183 348h1v1h-1zM187 348h1v1h-1zM184 349h3v1h-3zM191 342h1v1h-1zM190 343h2v1h-2zM191 344h1v1h-1zM191 345h1v1h-1zM191 346h1v1h-1zM191 347h1v1h-1zM191 348h1v1h-1zM190 349h3v1h-3z" fill="#ffff00"/>
<rect x="199" y="340" width="1" height="11" fill="#48ff48"/>
<rect x="198" y="347" width="3" height="2" fill="#48ff48"/>
<rect x="197" y="346" width="1" height="1" fill="#48ff48"/>
<rect x="201" y="346" width="1" height="1" fill="#48ff48"/>
<path d="M203 349h2v1h-2zM204 350h1v1h-1zM203 351h1v1h-1z" fill="#ffffff"/>
<path d="M212 342h2v1h-2zM215 342h2v1h-2zM212 343h2v1h-2zM215 343h2v1h-2zM212 344h2v1h-2zM215 344h2v1h-2zM212 345h1v1h-1zM214 345h1v1h-1zM216 345h1v1h-1zM212 346h1v1h-1zM214 346h1v1h-1zM216 346h1v1h-1zM212 347h1v1h-1zM214 347h1v1h-1zM216 347h1v1h-1zM212 348h1v1h-1zM214 348h1v1h-1zM216 348h1v1h-1zM212 349h1v1h-1zM214 349h1v1h-1zM216 349h1v1h-1zM220 342h1v1h-1zM220 343h1v1h-1zM219 344h1v1h-1zM221 344h1v1h-1zM219 345h1v1h-1zM221 345h1v1h-1zM219 346h1v1h-1zM221 346h1v1h-1zM219 347h4v1h-4zM218 348h1v1h-1zM222 348h1v1h-1zM218 349h2v1h-2zM221 349h3v1h-3zM225 342h4v1h-4zM224 343h1v1h-1zM228 343h1v1h-1zM224 344h1v1h-1zM224 345h1v1h-1zM224 346h1v1h-1zM224 347h1v1h-1zM224 348h1v1h-1zM228 348h1v1h-1zM225 349h3v1h-3zM230 342h4v1h-4zM231 343h1v1h-1zM234 343h1v1h-1zM231 344h1v1h-1zM234 344h1v1h-1zM231 345h1v1h-1zM234 345h1v1h-1zM231 346h1v1h-1zM234 346h1v1h-1zM231 347h1v1h-1zM234 347h1v1h-1zM231 348h1v1h-1zM234 348h1v1h-1zM230 349h4v1h-4zM238 344h1v1h-1zM238 349h1v1h-1zM248 345h5v1h-5zM256 342h1v1h-1zM255 343h2v1h-2zM256 344h1v1h-1zM256 345h1v1h-1zM256 346h1v1h-1zM256 347h1v1h-1zM256 348h1v1h-1zM255 349h3v1h-3zM261 342h3v1h-3zM260 343h1v1h-1zM264 343h1v1h-1zM260 344h1v1h-1zM264 344h1v1h-1zM260 345h1v1h-1zM264 345h1v1h-1zM261 346h4v1h-4zM264 347h1v1h-1zM263 348h1v1h-1zM261 349h2v1h-2zM267 349h1v1h-1zM273 342h3v1h-3zM272 343h1v1h-1zM276 343h1v1h-1zM272 344h1v1h-1zM276 344h1v1h-1zM272 345h1v1h-1zM276 345h1v1h-1zM272 346h1v1h-1zM276 346h1v1h-1zM272 347h1v1h-1zM276 347h1v1h-1zM272 348h1v1h-1zM276 348h1v1h-1zM273 349h3v1h-3zM279 342h3v1h-3zM278 343h1v1h-1zM282 343h1v1h-1zM278 344h1v1h-1zM282 344h1v1h-1zM278 345h1v1h-1zM282 345h1v1h-1zM278 346h1v1h-1zM282 346h1v1h-1zM278 347h1v1h-1zM282 347h1v1h-1zM278 348h1v1h-1zM282 348h1v1h-1zM279 349h3v1h-3zM287 342h1v1h-1zM286 343h2v1h-2zM285 344h1v1h-1zM287 344h1v1h-1zM285 345h1v1h-1zM287 345h1v1h-1zM284 346h1v1h-1zM287 346h1v1h-1zM284 347h5v1h-5zM287 348h1v1h-1zM286 349h3v1h-3z" fill="#ff00ff"/>
<rect x="294" y="340" width="1" height="11" fill="#48ff48"/>
<rect x="293" y="347" width="3" height="2" fill="#48ff48"/>
<rect x="292" y="346" width="1" height="1" fill="#48ff48"/>
<rect x="296" y="346" width="1" height="1" fill="#48ff48"/>
<path d="M3 538h1v1h-1zM2 539h1v1h-1zM1 540h1v1h-1zM1 541h1v1h-1zM1 542h1v1h-1zM1 543h1v1h-1zM1 544h1v1h-1zM1 545h1v1h-1zM2 546h1v1h-1zM3 547h1v1h-1zM6 539h1v1h-1zM5 540h2v1h-2zM6 541h1v1h-1zM6 542h1v1h-1zM6 543h1v1h-1zM6 544h1v1h-1zM6 545h1v1h-1zM5 546h3v1h-3zM11 539h3v1h-3zM10 540h1v1h-1zM14 540h1v1h-1zM10 541h1v1h-1zM14 541h1v1h-1zM10 542h1v1h-1zM14 542h1v1h-1zM10 543h1v1h-1zM14 543h1v1h-1zM10 544h1v1h-1zM14 544h1v1h-1zM10 545h1v1h-1zM14 545h1v1h-1zM11 546h3v1h-3zM16 546h2v1h-2zM17 547h1v1h-1zM16 548h1v1h-1zM23 539h3v1h-3zM22 540h1v1h-1zM26 540h1v1h-1zM22 541h1v1h-1zM26 541h1v1h-1zM25 542h1v1h-1zM24 543h1v1h-1zM23 544h1v1h-1zM22 545h1v1h-1zM26 545h1v1h-1zM22 546h5v1h-5zM29 539h3v1h-3zM28 540h1v1h-1zM32 540h1v1h-1zM28 541h1v1h-1zM32 541h1v1h-1zM28 542h1v1h-1zM32 542h1v1h-1zM28 543h1v1h-1zM32 543h1v1h-1zM28 544h1v1h-1zM32 544h1v1h-1zM28 545h1v1h-1zM32 545h1v1h-1zM29 546h3v1h-3zM34 546h2v1h-2zM35 547h1v1h-1zM34 548h1v1h-1zM41 539h3v1h-3zM40 540h1v1h-1zM44 540h1v1h-1zM44 541h1v1h-1zM42 542h2v1h-2zM44 543h1v1h-1zM44 544h1v1h-1zM40 545h1v1h-1zM44 545h1v1h-1zM41 546h3v1h-3zM47 539h3v1h-3zM46 540h1v1h-1zM50 540h1v1h-1zM46 541h1v1h-1zM50 541h1v1h-1zM46 542h1v1h-1zM50 542h1v1h-1zM46 543h1v1h-1zM50 543h1v1h-1zM46 544h1v1h-1zM50 544h1v1h-1zM46 545h1v1h-1zM50 545h1v1h-1zM47 546h3v1h-3zM52 546h2v1h-2zM53 547h1v1h-1zM52 548h1v1h-1zM58 539h5v1h-5zM58 540h1v1h-1zM58 541h1v1h-1zM58 542h4v1h-4zM62 543h1v1h-1zM62 544h1v1h-1zM58 545h1v1h-1zM62 545h1v1h-1zM59 546h3v1h-3zM64 539h5v1h-5zM64 540h1v1h-1zM64 541h1v1h-1zM64 542h4v1h-4zM68 543h1v1h-1zM68 544h1v1h-1zM64 545h1v1h-1zM68 545h1v1h-1zM65 546h3v1h-3zM70 546h2v1h-2zM71 547h1v1h-1zM70 548h1v1h-1zM77 539h3v1h-3zM76 540h1v1h-1zM80 540h1v1h-1zM76 541h1v1h-1zM80 541h1v1h-1zM77 542h3v1h-3zM76 543h1v1h-1zM80 543h1v1h-1zM76 544h1v1h-1zM80 544h1v1h-1zM76 545h1v1h-1zM80 545h1v1h-1zM77 546h3v1h-3zM83 539h3v1h-3zM82 540h1v1h-1zM86 540h1v1h-1zM82 541h1v1h-1zM86 541h1v1h-1zM82 542h1v1h-1zM86 542h1v1h-1zM83 543h4v1h-4zM86 544h1v1h-1zM85 545h1v1h-1zM83 546h2v1h-2zM89 538h1v1h-1zM90 539h1v1h-1zM91 540h1v1h-1zM91 541h1v1h-1zM91 542h1v1h-1zM91 543h1v1h-1zM91 544h1v1h-1zM91 545h1v1h-1zM90 546h1v1h-1zM89 547h1v1h-1z" fill="#c8c8c8"/>
<path d="M100 540h2v1h-2zM103 540h2v1h-2zM100 541h2v1h-2zM103 541h2v1h-2zM100 542h2v1h-2zM103 542h2v1h-2zM100 543h1v1h-1zM102 543h1v1h-1zM104 543h1v1h-1zM100 544h1v1h-1zM102 544h1v1h-1zM104 544h1v1h-1zM100 545h1v1h-1zM102 545h1v1h-1zM104 545h1v1h-1zM100 546h1v1h-1zM102 546h1v1h-1zM104 546h1v1h-1zM100 547h1v1h-1zM102 547h1v1h-1zM104 547h1v1h-1zM108 540h1v1h-1zM107 541h2v1h-2zM108 542h1v1h-1zM108 543h1v1h-1zM108 544h1v1h-1zM108 545h1v1h-1zM108 546h1v1h-1zM107 547h3v1h-3zM113 540h3v1h-3zM112 541h1v1h-1zM116 541h1v1h-1zM112 542h1v1h-1zM116 542h1v1h-1zM112 543h1v1h-1zM116 543h1v1h-1zM112 544h1v1h-1zM116 544h1v1h-1zM112 545h1v1h-1zM116 545h1v1h-1zM112 546h1v1h-1zM116 546h1v1h-1zM113 547h3v1h-3zM120 542h1v1h-1zM120 547h1v1h-1zM132 540h1v1h-1zM131 541h2v1h-2zM132 542h1v1h-1zM132 543h1v1h-1zM132 544h1v1h-1zM132 545h1v1h-1zM132 546h1v1h-1zM131 547h3v1h-3zM138 540h1v1h-1zM137 541h2v1h-2zM138 542h1v1h-1zM138 543h1v1h-1zM138 544h1v1h-1zM138 545h1v1h-1zM138 546h1v1h-1zM137 547h3v1h-3zM143 547h1v1h-1zM149 540h3v1h-3zM148 541h1v1h-1zM152 541h1v1h-1zM148 542h1v1h-1zM152 542h1v1h-1zM149 543h3v1h-3zM148 544h1v1h-1zM152 544h1v1h-1zM148 545h1v1h-1zM152 545h1v1h-1zM148 546h1v1h-1zM152 546h1v1h-1zM149 547h3v1h-3zM155 540h3v1h-3zM154 541h1v1h-1zM158 541h1v1h-1zM158 542h1v1h-1zM156 543h2v1h-2zM158 544h1v1h-1zM158 545h1v1h-1zM154 546h1v1h-1zM158 546h1v1h-1zM155 547h3v1h-3zM161 540h3v1h-3zM160 541h1v1h-1zM164 541h1v1h-1zM164 542h1v1h-1zM162 543h2v1h-2zM164 544h1v1h-1zM164 545h1v1h-1zM160 546h1v1h-1zM164 546h1v1h-1zM161 547h3v1h-3z" fill="#ffffff"/>
<rect x="170" y="538" width="1" height="11" fill="#48ff48"/>
<rect x="169" y="545" width="3" height="2" fill="#48ff48"/>
<rect x="168" y="544" width="1" height="1" fill="#48ff48"/>
<rect x="172" y="544" width="1" height="1" fill="#48ff48"/>
<path d="M174 547h2v1h-2zM175 548h1v1h-1zM174 549h1v1h-1z" fill="#ffffff"/>
<path d="M183 540h2v1h-2zM186 540h2v1h-2zM183 541h2v1h-2zM186 541h2v1h-2zM183 542h2v1h-2zM186 542h2v1h-2zM183 543h1v1h-1zM185 543h1v1h-1zM187 543h1v1h-1zM183 544h1v1h-1zM185 544h1v1h-1zM187 544h1v1h-1zM183 545h1v1h-1zM185 545h1v1h-1zM187 545h1v1h-1zM183 546h1v1h-1zM185 546h1v1h-1zM187 546h1v1h-1zM183 547h1v1h-1zM185 547h1v1h-1zM187 547h1v1h-1zM190 540h3v1h-3zM189 541h1v1h-1zM193 541h1v1h-1zM189 542h1v1h-1zM193 542h1v1h-1zM192 543h1v1h-1zM191 544h1v1h-1zM190 545h1v1h-1zM189 546h1v1h-1zM193 546h1v1h-1zM189 547h5v1h-5zM196 540h3v1h-3zM195 541h1v1h-1zM199 541h1v1h-1zM195 542h1v1h-1zM199 542h1v1h-1zM195 543h1v1h-1zM199 543h1v1h-1zM195 544h1v1h-1zM199 544h1v1h-1zM195 545h1v1h-1zM199 545h1v1h-1zM195 546h1v1h-1zM199 546h1v1h-1zM196 547h3v1h-3zM203 542h1v1h-1zM203 547h1v1h-1zM216 540h1v1h-1zM215 541h2v1h-2zM214 542h1v1h-1zM216 542h1v1h-1zM214 543h1v1h-1zM216 543h1v1h-1zM213 544h1v1h-1zM216 544h1v1h-1zM213 545h5v1h-5zM216 546h1v1h-1zM215 547h3v1h-3zM219 540h5v1h-5zM219 541h1v1h-1zM223 541h1v1h-1zM222 542h1v1h-1zM222 543h1v1h-1zM221 544h1v1h-1zM221 545h1v1h-1zM221 546h1v1h-1zM221 547h1v1h-1zM226 547h1v1h-1zM232 540h3v1h-3zM231 541h1v1h-1zM235 541h1v1h-1zM231 542h1v1h-1zM235 542h1v1h-1zM234 543h1v1h-1zM233 544h1v1h-1zM232 545h1v1h-1zM231 546h1v1h-1zM235 546h1v1h-1zM231 547h5v1h-5zM238 540h3v1h-3zM237 541h1v1h-1zM241 541h1v1h-1zM237 542h1v1h-1zM241 542h1v1h-1zM237 543h1v1h-1zM241 543h1v1h-1zM238 544h4v1h-4zM241 545h1v1h-1zM240 546h1v1h-1zM238 547h2v1h-2zM245 540h1v1h-1zM244 541h2v1h-2zM245 542h1v1h-1zM245 543h1v1h-1zM245 544h1v1h-1zM245 545h1v1h-1zM245 546h1v1h-1zM244 547h3v1h-3z" fill="#ffff00"/>
<rect x="253" y="538" width="1" height="11" fill="#48ff48"/>
<rect x="252" y="545" width="3" height="2" fill="#48ff48"/>
<rect x="251" y="544" width="1" height="1" fill="#48ff48"/>
<rect x="255" y="544" width="1" height="1" fill="#48ff48"/>
<path d="M257 547h2v1h-2zM258 548h1v1h-1zM257 549h1v1h-1z" fill="#ffffff"/>
<path d="M266 540h2v1h-2zM269 540h2v1h-2zM266 541h2v1h-2zM269 541h2v1h-2zM266 542h2v1h-2zM269 542h2v1h-2zM266 543h1v1h-1zM268 543h1v1h-1zM270 543h1v1h-1zM266 544h1v1h-1zM268 544h1v1h-1zM270 544h1v1h-1zM266 545h1v1h-1zM268 545h1v1h-1zM270 545h1v1h-1zM266 546h1v1h-1zM268 546h1v1h-1zM270 546h1v1h-1zM266 547h1v1h-1zM268 547h1v1h-1zM270 547h1v1h-1zM273 540h3v1h-3zM272 541h1v1h-1zM276 541h1v1h-1zM276 542h1v1h-1zM274 543h2v1h-2zM276 544h1v1h-1zM276 545h1v1h-1zM272 546h1v1h-1zM276 546h1v1h-1zM273 547h3v1h-3zM279 540h3v1h-3zM278 541h1v1h-1zM282 541h1v1h-1zM278 542h1v1h-1zM282 542h1v1h-1zM278 543h1v1h-1zM282 543h1v1h-1zM278 544h1v1h-1zM282 544h1v1h-1zM278 545h1v1h-1zM282 545h1v1h-1zM278 546h1v1h-1zM282 546h1v1h-1zM279 547h3v1h-3zM286 542h1v1h-1zM286 547h1v1h-1zM296 540h5v1h-5zM296 541h1v1h-1zM296 542h1v1h-1zM296 543h4v1h-4zM300 544h1v1h-1zM300 545h1v1h-1zM296 546h1v1h-1zM300 546h1v1h-1zM297 547h3v1h-3zM302 540h5v1h-5zM302 541h1v1h-1zM306 541h1v1h-1zM305 542h1v1h-1zM305 543h1v1h-1zM304 544h1v1h-1zM304 545h1v1h-1zM304 546h1v1h-1zM304 547h1v1h-1zM309 547h1v1h-1zM315 540h3v1h-3zM314 541h1v1h-1zM318 541h1v1h-1zM314 542h1v1h-1zM318 542h1v1h-1zM315 543h3v1h-3zM314 544h1v1h-1zM318 544h1v1h-1zM314 545h1v1h-1zM318 545h1v1h-1zM314 546h1v1h-1zM318 546h1v1h-1zM315 547h3v1h-3zM321 540h3v1h-3zM320 541h1v1h-1zM324 541h1v1h-1zM320 542h1v1h-1zM324 542h1v1h-1zM323 543h1v1h-1zM322 544h1v1h-1zM321 545h1v1h-1zM320 546h1v1h-1zM324 546h1v1h-1zM320 547h5v1h-5zM327 540h3v1h-3zM326 541h1v1h-1zM330 541h1v1h-1zM326 542h1v1h-1zM330 542h1v1h-1zM329 543h1v1h-1zM328 544h1v1h-1zM327 545h1v1h-1zM326 546h1v1h-1zM330 546h1v1h-1zM326 547h5v1h-5z" fill="#ff00ff"/>
<rect x="336" y="538" width="1" height="11" fill="#48ff48"/>
<rect x="335" y="545" width="3" height="2" fill="#48ff48"/>
<rect x="334" y="544" width="1" height="1" fill="#48ff48"/>
<rect x="338" y="544" width="1" height="1" fill="#48ff48"/>
<path d="M340 547h2v1h-2zM341 548h1v1h-1zM340 549h1v1h-1z" fill="#ffffff"/>
<path d="M349 540h2v1h-2zM352 540h2v1h-2zM349 541h2v1h-2zM352 541h2v1h-2zM349 542h2v1h-2zM352 542h2v1h-2zM349 543h1v1h-1zM351 543h1v1h-1zM353 543h1v1h-1zM349 544h1v1h-1zM351 544h1v1h-1zM353 544h1v1h-1zM349 545h1v1h-1zM351 545h1v1h-1zM353 545h1v1h-1zM349 546h1v1h-1zM351 546h1v1h-1zM353 546h1v1h-1zM349 547h1v1h-1zM351 547h1v1h-1zM353 547h1v1h-1zM357 540h2v1h-2zM356 541h1v1h-1zM355 542h1v1h-1zM355 543h4v1h-4zM355 544h1v1h-1zM359 544h1v1h-1zM355 545h1v1h-1zM359 545h1v1h-1zM355 546h1v1h-1zM359 546h1v1h-1zM356 547h3v1h-3zM362 540h3v1h-3zM361 541h1v1h-1zM365 541h1v1h-1zM361 542h1v1h-1zM365 542h1v1h-1zM361 543h1v1h-1zM365 543h1v1h-1zM361 544h1v1h-1zM365 544h1v1h-1zM361 545h1v1h-1zM365 545h1v1h-1zM361 546h1v1h-1zM365 546h1v1h-1zM362 547h3v1h-3zM369 542h1v1h-1zM369 547h1v1h-1zM381 540h1v1h-1zM380 541h2v1h-2zM381 542h1v1h-1zM381 543h1v1h-1zM381 544h1v1h-1zM381 545h1v1h-1zM381 546h1v1h-1zM380 547h3v1h-3zM385 540h5v1h-5zM385 541h1v1h-1zM389 541h1v1h-1zM388 542h1v1h-1zM388 543h1v1h-1zM387 544h1v1h-1zM387 545h1v1h-1zM387 546h1v1h-1zM387 547h1v1h-1zM392 547h1v1h-1zM398 540h3v1h-3zM397 541h1v1h-1zM401 541h1v1h-1zM397 542h1v1h-1zM401 542h1v1h-1zM397 543h1v1h-1zM401 543h1v1h-1zM397 544h1v1h-1zM401 544h1v1h-1zM397 545h1v1h-1zM401 545h1v1h-1zM397 546h1v1h-1zM401 546h1v1h-1zM398 547h3v1h-3zM404 540h3v1h-3zM403 541h1v1h-1zM407 541h1v1h-1zM403 542h1v1h-1zM407 542h1v1h-1zM403 543h1v1h-1zM407 543h1v1h-1zM403 544h1v1h-1zM407 544h1v1h-1zM403 545h1v1h-1zM407 545h1v1h-1zM403 546h1v1h-1zM407 546h1v1h-1zM404 547h3v1h-3zM409 540h5v1h-5zM409 541h1v1h-1zM409 542h1v1h-1zM409 543h4v1h-4zM413 544h1v1h-1zM413 545h1v1h-1zM409 546h1v1h-1zM413 546h1v1h-1zM410 547h3v1h-3z" fill="#00ff00"/>
<rect x="419" y="538" width="1" height="11" fill="#48ff48"/>
<rect x="418" y="545" width="3" height="2" fill="#48ff48"/>
<rect x="417" y="544" width="1" height="1" fill="#48ff48"/>
<rect x="421" y="544" width="1" height="1" fill="#48ff48"/>
<path d="M423 547h2v1h-2zM424 548h1v1h-1zM423 549h1v1h-1z" fill="#ffffff"/>
<rect x="998" y="0" width="1" height="722" fill="#808080" style="mix-blend-mode:difference"/>
<rect x="0" y="544" width="1359" height="1" fill="#808080" style="mix-blend-mode:difference"/>
<g shape-rendering="auto">
<rect x="1159" y="5" width="195" height="30" fill="#1c1c1c"/>
<g transform="translate(1177,20)">
<path d="M-13.5,-5 C-9,-12.5 -2,-14.5 3,-12 C8,-9.5 9,-2 5,2 C3,4 1,3.5 0,2.5 C3,1 4.5,-3 2,-6.5 C-1,-10 -8,-9 -13.5,-5 Z" fill="#b8901c"/>
<path d="M9,-9.5 C14,-5 15,3 10,8 C5,12 -2,11 -5,6 C-6,4 -5.5,2 -4,1.5 C-3,5 1,7.5 5,6 C10,4 11,-4 9,-9.5 Z" fill="#a81c1c"/>
<path d="M1,14.4 C-6,13 -12,8 -11.5,1 C-11,-5 -5,-7.5 -1,-5 C0.5,-4 0.5,-2.5 0,-2 C-2.5,-4 -6.5,-3 -7,1 C-7.5,6 -4,11 1,14.4 Z" fill="#0e7a4e"/>
</g>
<text x="1193.2" y="27.8" font-size="23.5" textLength="51" font-family="Liberation Sans, sans-serif" font-weight="bold" fill="#8a0c0c" stroke="#8a0c0c" stroke-width="0.8" lengthAdjust="spacingAndGlyphs">www.</text>
<text x="1244.2" y="27.8" font-size="20.6" textLength="56.5" font-family="Liberation Sans, sans-serif" font-weight="bold" fill="#8a0c0c" stroke="#8a0c0c" stroke-width="0.8" lengthAdjust="spacingAndGlyphs">55188</text>
<text x="1300.6" y="27.8" font-size="23.5" textLength="45.8" font-family="Liberation Sans, sans-serif" font-weight="bold" fill="#8a0c0c" stroke="#8a0c0c" stroke-width="0.8" lengthAdjust="spacingAndGlyphs">.com</text>
</g>
</svg>
</body></html>
